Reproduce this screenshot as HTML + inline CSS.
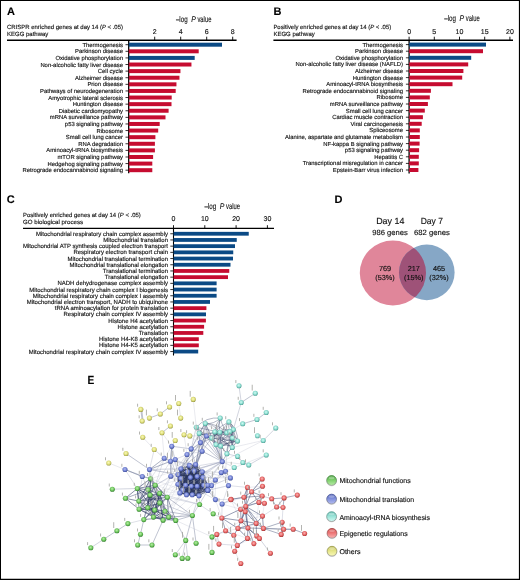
<!DOCTYPE html>
<html><head><meta charset="utf-8"><title>Figure</title>
<style>
html,body{margin:0;padding:0;background:#fff;}
body{width:520px;height:580px;overflow:hidden;}
svg{display:block;will-change:transform;font-family:"Liberation Sans",sans-serif;text-rendering:geometricPrecision;}
</style></head><body>
<svg width="520" height="580" viewBox="0 0 520 580">
<defs>
<radialGradient id="gg" cx="46%" cy="42%" r="58%"><stop offset="0" stop-color="#b9eda8"/><stop offset="0.5" stop-color="#7ccf6a"/><stop offset="0.82" stop-color="#4fa544"/><stop offset="1" stop-color="#2f7a2a"/></radialGradient>
<linearGradient id="lg" x1="0" y1="0" x2="0" y2="1"><stop offset="0" stop-color="#4fa544"/><stop offset="0.45" stop-color="#7ccf6a"/><stop offset="1" stop-color="#b9eda8"/></linearGradient>
<linearGradient id="sg" x1="0" y1="0" x2="0" y2="1"><stop offset="0" stop-color="#2f7a2a"/><stop offset="1" stop-color="#8a8a8a"/></linearGradient>
<radialGradient id="gb" cx="46%" cy="42%" r="58%"><stop offset="0" stop-color="#b4bdf0"/><stop offset="0.5" stop-color="#7f8edb"/><stop offset="0.82" stop-color="#5565b8"/><stop offset="1" stop-color="#354590"/></radialGradient>
<linearGradient id="lb" x1="0" y1="0" x2="0" y2="1"><stop offset="0" stop-color="#5565b8"/><stop offset="0.45" stop-color="#7f8edb"/><stop offset="1" stop-color="#b4bdf0"/></linearGradient>
<linearGradient id="sb" x1="0" y1="0" x2="0" y2="1"><stop offset="0" stop-color="#354590"/><stop offset="1" stop-color="#8a8a8a"/></linearGradient>
<radialGradient id="gc" cx="46%" cy="42%" r="58%"><stop offset="0" stop-color="#d2faf3"/><stop offset="0.5" stop-color="#97e3d7"/><stop offset="0.82" stop-color="#68bdb1"/><stop offset="1" stop-color="#46968b"/></radialGradient>
<linearGradient id="lc" x1="0" y1="0" x2="0" y2="1"><stop offset="0" stop-color="#68bdb1"/><stop offset="0.45" stop-color="#97e3d7"/><stop offset="1" stop-color="#d2faf3"/></linearGradient>
<linearGradient id="sc" x1="0" y1="0" x2="0" y2="1"><stop offset="0" stop-color="#46968b"/><stop offset="1" stop-color="#8a8a8a"/></linearGradient>
<radialGradient id="gr" cx="46%" cy="42%" r="58%"><stop offset="0" stop-color="#fbb4b4"/><stop offset="0.5" stop-color="#ec7474"/><stop offset="0.82" stop-color="#cc4c4c"/><stop offset="1" stop-color="#9c3030"/></radialGradient>
<linearGradient id="lr" x1="0" y1="0" x2="0" y2="1"><stop offset="0" stop-color="#cc4c4c"/><stop offset="0.45" stop-color="#ec7474"/><stop offset="1" stop-color="#fbb4b4"/></linearGradient>
<linearGradient id="sr" x1="0" y1="0" x2="0" y2="1"><stop offset="0" stop-color="#9c3030"/><stop offset="1" stop-color="#8a8a8a"/></linearGradient>
<radialGradient id="gy" cx="46%" cy="42%" r="58%"><stop offset="0" stop-color="#fafab8"/><stop offset="0.5" stop-color="#e4e486"/><stop offset="0.82" stop-color="#c0c05e"/><stop offset="1" stop-color="#90903c"/></radialGradient>
<linearGradient id="ly" x1="0" y1="0" x2="0" y2="1"><stop offset="0" stop-color="#c0c05e"/><stop offset="0.45" stop-color="#e4e486"/><stop offset="1" stop-color="#fafab8"/></linearGradient>
<linearGradient id="sy" x1="0" y1="0" x2="0" y2="1"><stop offset="0" stop-color="#90903c"/><stop offset="1" stop-color="#8a8a8a"/></linearGradient>
</defs>
<rect x="0" y="0" width="520" height="580" fill="#fff"/>
<g>
<text x="7" y="14.7" font-size="11" text-anchor="start" font-weight="bold" font-style="normal" fill="#000" stroke="#000" stroke-width="0.1" >A</text>
<text x="7" y="28.8" font-size="6" text-anchor="start" font-weight="normal" font-style="normal" fill="#111" stroke="#111" stroke-width="0.14" textLength="116" lengthAdjust="spacingAndGlyphs">CRISPR enriched genes at day 14 (<tspan font-style="italic">P</tspan> &lt; .05)</text>
<text x="7" y="36" font-size="6" text-anchor="start" font-weight="normal" font-style="normal" fill="#111" stroke="#111" stroke-width="0.14" >KEGG pathway</text>
<line x1="7.00" y1="40.20" x2="236.60" y2="40.20" stroke="#000" stroke-width="1.4" stroke-opacity="1"/>
<line x1="128.70" y1="40.00" x2="128.70" y2="173.30" stroke="#000" stroke-width="1.3" stroke-opacity="1"/>
<line x1="154.70" y1="36.70" x2="154.70" y2="40.00" stroke="#000" stroke-width="0.9" stroke-opacity="1"/>
<text x="154.70" y="34" font-size="7" text-anchor="middle" font-weight="normal" font-style="normal" fill="#111" stroke="#111" stroke-width="0.14" >2</text>
<line x1="180.70" y1="36.70" x2="180.70" y2="40.00" stroke="#000" stroke-width="0.9" stroke-opacity="1"/>
<text x="180.70" y="34" font-size="7" text-anchor="middle" font-weight="normal" font-style="normal" fill="#111" stroke="#111" stroke-width="0.14" >4</text>
<line x1="206.70" y1="36.70" x2="206.70" y2="40.00" stroke="#000" stroke-width="0.9" stroke-opacity="1"/>
<text x="206.70" y="34" font-size="7" text-anchor="middle" font-weight="normal" font-style="normal" fill="#111" stroke="#111" stroke-width="0.14" >6</text>
<line x1="232.70" y1="36.70" x2="232.70" y2="40.00" stroke="#000" stroke-width="0.9" stroke-opacity="1"/>
<text x="232.70" y="34" font-size="7" text-anchor="middle" font-weight="normal" font-style="normal" fill="#111" stroke="#111" stroke-width="0.14" >8</text>
<text x="175.9" y="21.5" font-size="8.3" fill="#111" stroke="#111" stroke-width="0.12" textLength="11.7" lengthAdjust="spacingAndGlyphs">–log</text>
<text x="191.20000000000002" y="21.5" font-size="8.3" font-style="italic" fill="#111" stroke="#111" stroke-width="0.12" textLength="4.6" lengthAdjust="spacingAndGlyphs">P</text>
<text x="197.4" y="21.5" font-size="8.3" fill="#111" stroke="#111" stroke-width="0.12" textLength="14" lengthAdjust="spacingAndGlyphs">value</text>
<rect x="128.70" y="42.70" width="93.30" height="4.00" fill="#0b4a85"/>
<line x1="125.50" y1="44.70" x2="128.70" y2="44.70" stroke="#000" stroke-width="0.8" stroke-opacity="1"/>
<text x="123" y="46.75" font-size="5.88" text-anchor="end" font-weight="normal" font-style="normal" fill="#111" stroke="#111" stroke-width="0.14" >Thermogenesis</text>
<rect x="128.70" y="49.31" width="70.00" height="4.00" fill="#c60c30"/>
<line x1="125.50" y1="51.31" x2="128.70" y2="51.31" stroke="#000" stroke-width="0.8" stroke-opacity="1"/>
<text x="123" y="53.36" font-size="5.88" text-anchor="end" font-weight="normal" font-style="normal" fill="#111" stroke="#111" stroke-width="0.14" >Parkinson disease</text>
<rect x="128.70" y="55.91" width="66.00" height="4.00" fill="#0b4a85"/>
<line x1="125.50" y1="57.91" x2="128.70" y2="57.91" stroke="#000" stroke-width="0.8" stroke-opacity="1"/>
<text x="123" y="59.96" font-size="5.88" text-anchor="end" font-weight="normal" font-style="normal" fill="#111" stroke="#111" stroke-width="0.14" >Oxidative phosphorylation</text>
<rect x="128.70" y="62.52" width="62.75" height="4.00" fill="#c60c30"/>
<line x1="125.50" y1="64.52" x2="128.70" y2="64.52" stroke="#000" stroke-width="0.8" stroke-opacity="1"/>
<text x="123" y="66.56" font-size="5.88" text-anchor="end" font-weight="normal" font-style="normal" fill="#111" stroke="#111" stroke-width="0.14" >Non-alcoholic fatty liver disease</text>
<rect x="128.70" y="69.12" width="51.75" height="4.00" fill="#c60c30"/>
<line x1="125.50" y1="71.12" x2="128.70" y2="71.12" stroke="#000" stroke-width="0.8" stroke-opacity="1"/>
<text x="123" y="73.17" font-size="5.88" text-anchor="end" font-weight="normal" font-style="normal" fill="#111" stroke="#111" stroke-width="0.14" >Cell cycle</text>
<rect x="128.70" y="75.73" width="50.75" height="4.00" fill="#c60c30"/>
<line x1="125.50" y1="77.73" x2="128.70" y2="77.73" stroke="#000" stroke-width="0.8" stroke-opacity="1"/>
<text x="123" y="79.78" font-size="5.88" text-anchor="end" font-weight="normal" font-style="normal" fill="#111" stroke="#111" stroke-width="0.14" >Alzheimer disease</text>
<rect x="128.70" y="82.33" width="47.75" height="4.00" fill="#c60c30"/>
<line x1="125.50" y1="84.33" x2="128.70" y2="84.33" stroke="#000" stroke-width="0.8" stroke-opacity="1"/>
<text x="123" y="86.38" font-size="5.88" text-anchor="end" font-weight="normal" font-style="normal" fill="#111" stroke="#111" stroke-width="0.14" >Prion disease</text>
<rect x="128.70" y="88.94" width="47.00" height="4.00" fill="#c60c30"/>
<line x1="125.50" y1="90.94" x2="128.70" y2="90.94" stroke="#000" stroke-width="0.8" stroke-opacity="1"/>
<text x="123" y="92.98" font-size="5.88" text-anchor="end" font-weight="normal" font-style="normal" fill="#111" stroke="#111" stroke-width="0.14" >Pathways of neurodegeneration</text>
<rect x="128.70" y="95.54" width="43.00" height="4.00" fill="#c60c30"/>
<line x1="125.50" y1="97.54" x2="128.70" y2="97.54" stroke="#000" stroke-width="0.8" stroke-opacity="1"/>
<text x="123" y="99.59" font-size="5.88" text-anchor="end" font-weight="normal" font-style="normal" fill="#111" stroke="#111" stroke-width="0.14" >Amyotrophic lateral sclerosis</text>
<rect x="128.70" y="102.15" width="42.80" height="4.00" fill="#c60c30"/>
<line x1="125.50" y1="104.15" x2="128.70" y2="104.15" stroke="#000" stroke-width="0.8" stroke-opacity="1"/>
<text x="123" y="106.20" font-size="5.88" text-anchor="end" font-weight="normal" font-style="normal" fill="#111" stroke="#111" stroke-width="0.14" >Huntington disease</text>
<rect x="128.70" y="108.75" width="39.90" height="4.00" fill="#c60c30"/>
<line x1="125.50" y1="110.75" x2="128.70" y2="110.75" stroke="#000" stroke-width="0.8" stroke-opacity="1"/>
<text x="123" y="112.80" font-size="5.88" text-anchor="end" font-weight="normal" font-style="normal" fill="#111" stroke="#111" stroke-width="0.14" >Diabetic cardiomyopathy</text>
<rect x="128.70" y="115.36" width="36.80" height="4.00" fill="#c60c30"/>
<line x1="125.50" y1="117.36" x2="128.70" y2="117.36" stroke="#000" stroke-width="0.8" stroke-opacity="1"/>
<text x="123" y="119.41" font-size="5.88" text-anchor="end" font-weight="normal" font-style="normal" fill="#111" stroke="#111" stroke-width="0.14" >mRNA surveillance pathway</text>
<rect x="128.70" y="121.96" width="31.00" height="4.00" fill="#c60c30"/>
<line x1="125.50" y1="123.96" x2="128.70" y2="123.96" stroke="#000" stroke-width="0.8" stroke-opacity="1"/>
<text x="123" y="126.01" font-size="5.88" text-anchor="end" font-weight="normal" font-style="normal" fill="#111" stroke="#111" stroke-width="0.14" >p53 signaling pathway</text>
<rect x="128.70" y="128.56" width="29.50" height="4.00" fill="#c60c30"/>
<line x1="125.50" y1="130.56" x2="128.70" y2="130.56" stroke="#000" stroke-width="0.8" stroke-opacity="1"/>
<text x="123" y="132.62" font-size="5.88" text-anchor="end" font-weight="normal" font-style="normal" fill="#111" stroke="#111" stroke-width="0.14" >Ribosome</text>
<rect x="128.70" y="135.17" width="26.70" height="4.00" fill="#c60c30"/>
<line x1="125.50" y1="137.17" x2="128.70" y2="137.17" stroke="#000" stroke-width="0.8" stroke-opacity="1"/>
<text x="123" y="139.22" font-size="5.88" text-anchor="end" font-weight="normal" font-style="normal" fill="#111" stroke="#111" stroke-width="0.14" >Small cell lung cancer</text>
<rect x="128.70" y="141.78" width="26.20" height="4.00" fill="#c60c30"/>
<line x1="125.50" y1="143.78" x2="128.70" y2="143.78" stroke="#000" stroke-width="0.8" stroke-opacity="1"/>
<text x="123" y="145.83" font-size="5.88" text-anchor="end" font-weight="normal" font-style="normal" fill="#111" stroke="#111" stroke-width="0.14" >RNA degradation</text>
<rect x="128.70" y="148.38" width="26.20" height="4.00" fill="#c60c30"/>
<line x1="125.50" y1="150.38" x2="128.70" y2="150.38" stroke="#000" stroke-width="0.8" stroke-opacity="1"/>
<text x="123" y="152.43" font-size="5.88" text-anchor="end" font-weight="normal" font-style="normal" fill="#111" stroke="#111" stroke-width="0.14" >Aminoacyl-tRNA biosynthesis</text>
<rect x="128.70" y="154.99" width="24.40" height="4.00" fill="#c60c30"/>
<line x1="125.50" y1="156.99" x2="128.70" y2="156.99" stroke="#000" stroke-width="0.8" stroke-opacity="1"/>
<text x="123" y="159.04" font-size="5.88" text-anchor="end" font-weight="normal" font-style="normal" fill="#111" stroke="#111" stroke-width="0.14" >mTOR signaling pathway</text>
<rect x="128.70" y="161.59" width="23.60" height="4.00" fill="#c60c30"/>
<line x1="125.50" y1="163.59" x2="128.70" y2="163.59" stroke="#000" stroke-width="0.8" stroke-opacity="1"/>
<text x="123" y="165.64" font-size="5.88" text-anchor="end" font-weight="normal" font-style="normal" fill="#111" stroke="#111" stroke-width="0.14" >Hedgehog signaling pathway</text>
<rect x="128.70" y="168.19" width="23.60" height="4.00" fill="#c60c30"/>
<line x1="125.50" y1="170.19" x2="128.70" y2="170.19" stroke="#000" stroke-width="0.8" stroke-opacity="1"/>
<text x="123" y="172.25" font-size="5.88" text-anchor="end" font-weight="normal" font-style="normal" fill="#111" stroke="#111" stroke-width="0.14" >Retrograde endocannabinoid signaling</text>
<text x="273.4" y="14.7" font-size="11" text-anchor="start" font-weight="bold" font-style="normal" fill="#000" stroke="#000" stroke-width="0.1" >B</text>
<text x="273.4" y="28.8" font-size="6" text-anchor="start" font-weight="normal" font-style="normal" fill="#111" stroke="#111" stroke-width="0.14" textLength="117.8" lengthAdjust="spacingAndGlyphs">Positively enriched genes at day 14 (<tspan font-style="italic">P</tspan> &lt; .05)</text>
<text x="273.4" y="36" font-size="6" text-anchor="start" font-weight="normal" font-style="normal" fill="#111" stroke="#111" stroke-width="0.14" >KEGG pathway</text>
<line x1="273.40" y1="40.20" x2="513.00" y2="40.20" stroke="#000" stroke-width="1.4" stroke-opacity="1"/>
<line x1="409.10" y1="40.00" x2="409.10" y2="173.40" stroke="#000" stroke-width="1.3" stroke-opacity="1"/>
<line x1="409.10" y1="36.70" x2="409.10" y2="40.00" stroke="#000" stroke-width="0.9" stroke-opacity="1"/>
<text x="409.10" y="34" font-size="7" text-anchor="middle" font-weight="normal" font-style="normal" fill="#111" stroke="#111" stroke-width="0.14" >0</text>
<line x1="434.30" y1="36.70" x2="434.30" y2="40.00" stroke="#000" stroke-width="0.9" stroke-opacity="1"/>
<text x="434.30" y="34" font-size="7" text-anchor="middle" font-weight="normal" font-style="normal" fill="#111" stroke="#111" stroke-width="0.14" >5</text>
<line x1="459.50" y1="36.70" x2="459.50" y2="40.00" stroke="#000" stroke-width="0.9" stroke-opacity="1"/>
<text x="459.50" y="34" font-size="7" text-anchor="middle" font-weight="normal" font-style="normal" fill="#111" stroke="#111" stroke-width="0.14" >10</text>
<line x1="484.70" y1="36.70" x2="484.70" y2="40.00" stroke="#000" stroke-width="0.9" stroke-opacity="1"/>
<text x="484.70" y="34" font-size="7" text-anchor="middle" font-weight="normal" font-style="normal" fill="#111" stroke="#111" stroke-width="0.14" >15</text>
<line x1="509.90" y1="36.70" x2="509.90" y2="40.00" stroke="#000" stroke-width="0.9" stroke-opacity="1"/>
<text x="509.90" y="34" font-size="7" text-anchor="middle" font-weight="normal" font-style="normal" fill="#111" stroke="#111" stroke-width="0.14" >20</text>
<text x="444.3" y="21.3" font-size="8.3" fill="#111" stroke="#111" stroke-width="0.12" textLength="11.7" lengthAdjust="spacingAndGlyphs">–log</text>
<text x="459.6" y="21.3" font-size="8.3" font-style="italic" fill="#111" stroke="#111" stroke-width="0.12" textLength="4.6" lengthAdjust="spacingAndGlyphs">P</text>
<text x="465.8" y="21.3" font-size="8.3" fill="#111" stroke="#111" stroke-width="0.12" textLength="14" lengthAdjust="spacingAndGlyphs">value</text>
<rect x="409.10" y="42.60" width="76.90" height="4.00" fill="#0b4a85"/>
<line x1="405.90" y1="44.60" x2="409.10" y2="44.60" stroke="#000" stroke-width="0.8" stroke-opacity="1"/>
<text x="403" y="46.65" font-size="5.88" text-anchor="end" font-weight="normal" font-style="normal" fill="#111" stroke="#111" stroke-width="0.14" >Thermogenesis</text>
<rect x="409.10" y="49.20" width="73.90" height="4.00" fill="#c60c30"/>
<line x1="405.90" y1="51.20" x2="409.10" y2="51.20" stroke="#000" stroke-width="0.8" stroke-opacity="1"/>
<text x="403" y="53.25" font-size="5.88" text-anchor="end" font-weight="normal" font-style="normal" fill="#111" stroke="#111" stroke-width="0.14" >Parkinson disease</text>
<rect x="409.10" y="55.80" width="62.10" height="4.00" fill="#0b4a85"/>
<line x1="405.90" y1="57.80" x2="409.10" y2="57.80" stroke="#000" stroke-width="0.8" stroke-opacity="1"/>
<text x="403" y="59.85" font-size="5.88" text-anchor="end" font-weight="normal" font-style="normal" fill="#111" stroke="#111" stroke-width="0.14" >Oxidative phosphorylation</text>
<rect x="409.10" y="62.40" width="59.10" height="4.00" fill="#c60c30"/>
<line x1="405.90" y1="64.40" x2="409.10" y2="64.40" stroke="#000" stroke-width="0.8" stroke-opacity="1"/>
<text x="403" y="66.45" font-size="5.88" text-anchor="end" font-weight="normal" font-style="normal" fill="#111" stroke="#111" stroke-width="0.14" >Non-alcoholic fatty liver disease (NAFLD)</text>
<rect x="409.10" y="69.00" width="54.30" height="4.00" fill="#c60c30"/>
<line x1="405.90" y1="71.00" x2="409.10" y2="71.00" stroke="#000" stroke-width="0.8" stroke-opacity="1"/>
<text x="403" y="73.05" font-size="5.88" text-anchor="end" font-weight="normal" font-style="normal" fill="#111" stroke="#111" stroke-width="0.14" >Alzheimer disease</text>
<rect x="409.10" y="75.60" width="53.10" height="4.00" fill="#c60c30"/>
<line x1="405.90" y1="77.60" x2="409.10" y2="77.60" stroke="#000" stroke-width="0.8" stroke-opacity="1"/>
<text x="403" y="79.65" font-size="5.88" text-anchor="end" font-weight="normal" font-style="normal" fill="#111" stroke="#111" stroke-width="0.14" >Huntington disease</text>
<rect x="409.10" y="82.20" width="43.40" height="4.00" fill="#c60c30"/>
<line x1="405.90" y1="84.20" x2="409.10" y2="84.20" stroke="#000" stroke-width="0.8" stroke-opacity="1"/>
<text x="403" y="86.25" font-size="5.88" text-anchor="end" font-weight="normal" font-style="normal" fill="#111" stroke="#111" stroke-width="0.14" >Aminoacyl-tRNA biosynthesis</text>
<rect x="409.10" y="88.80" width="21.80" height="4.00" fill="#c60c30"/>
<line x1="405.90" y1="90.80" x2="409.10" y2="90.80" stroke="#000" stroke-width="0.8" stroke-opacity="1"/>
<text x="403" y="92.85" font-size="5.88" text-anchor="end" font-weight="normal" font-style="normal" fill="#111" stroke="#111" stroke-width="0.14" >Retrograde endocannabinoid signaling</text>
<rect x="409.10" y="95.40" width="20.70" height="4.00" fill="#c60c30"/>
<line x1="405.90" y1="97.40" x2="409.10" y2="97.40" stroke="#000" stroke-width="0.8" stroke-opacity="1"/>
<text x="403" y="99.45" font-size="5.88" text-anchor="end" font-weight="normal" font-style="normal" fill="#111" stroke="#111" stroke-width="0.14" >Ribosome</text>
<rect x="409.10" y="102.00" width="18.80" height="4.00" fill="#c60c30"/>
<line x1="405.90" y1="104.00" x2="409.10" y2="104.00" stroke="#000" stroke-width="0.8" stroke-opacity="1"/>
<text x="403" y="106.05" font-size="5.88" text-anchor="end" font-weight="normal" font-style="normal" fill="#111" stroke="#111" stroke-width="0.14" >mRNA surveillance pathway</text>
<rect x="409.10" y="108.60" width="15.70" height="4.00" fill="#c60c30"/>
<line x1="405.90" y1="110.60" x2="409.10" y2="110.60" stroke="#000" stroke-width="0.8" stroke-opacity="1"/>
<text x="403" y="112.65" font-size="5.88" text-anchor="end" font-weight="normal" font-style="normal" fill="#111" stroke="#111" stroke-width="0.14" >Small cell lung cancer</text>
<rect x="409.10" y="115.20" width="13.80" height="4.00" fill="#c60c30"/>
<line x1="405.90" y1="117.20" x2="409.10" y2="117.20" stroke="#000" stroke-width="0.8" stroke-opacity="1"/>
<text x="403" y="119.25" font-size="5.88" text-anchor="end" font-weight="normal" font-style="normal" fill="#111" stroke="#111" stroke-width="0.14" >Cardiac muscle contraction</text>
<rect x="409.10" y="121.80" width="12.60" height="4.00" fill="#c60c30"/>
<line x1="405.90" y1="123.80" x2="409.10" y2="123.80" stroke="#000" stroke-width="0.8" stroke-opacity="1"/>
<text x="403" y="125.85" font-size="5.88" text-anchor="end" font-weight="normal" font-style="normal" fill="#111" stroke="#111" stroke-width="0.14" >Viral carcinogenesis</text>
<rect x="409.10" y="128.40" width="10.70" height="4.00" fill="#c60c30"/>
<line x1="405.90" y1="130.40" x2="409.10" y2="130.40" stroke="#000" stroke-width="0.8" stroke-opacity="1"/>
<text x="403" y="132.45" font-size="5.88" text-anchor="end" font-weight="normal" font-style="normal" fill="#111" stroke="#111" stroke-width="0.14" >Spliceosome</text>
<rect x="409.10" y="135.00" width="10.70" height="4.00" fill="#c60c30"/>
<line x1="405.90" y1="137.00" x2="409.10" y2="137.00" stroke="#000" stroke-width="0.8" stroke-opacity="1"/>
<text x="403" y="139.05" font-size="5.88" text-anchor="end" font-weight="normal" font-style="normal" fill="#111" stroke="#111" stroke-width="0.14" >Alanine, aspartate and glutamate metabolism</text>
<rect x="409.10" y="141.60" width="10.50" height="4.00" fill="#c60c30"/>
<line x1="405.90" y1="143.60" x2="409.10" y2="143.60" stroke="#000" stroke-width="0.8" stroke-opacity="1"/>
<text x="403" y="145.65" font-size="5.88" text-anchor="end" font-weight="normal" font-style="normal" fill="#111" stroke="#111" stroke-width="0.14" >NF-kappa B signaling pathway</text>
<rect x="409.10" y="148.20" width="10.00" height="4.00" fill="#c60c30"/>
<line x1="405.90" y1="150.20" x2="409.10" y2="150.20" stroke="#000" stroke-width="0.8" stroke-opacity="1"/>
<text x="403" y="152.25" font-size="5.88" text-anchor="end" font-weight="normal" font-style="normal" fill="#111" stroke="#111" stroke-width="0.14" >p53 signaling pathway</text>
<rect x="409.10" y="154.80" width="9.70" height="4.00" fill="#c60c30"/>
<line x1="405.90" y1="156.80" x2="409.10" y2="156.80" stroke="#000" stroke-width="0.8" stroke-opacity="1"/>
<text x="403" y="158.85" font-size="5.88" text-anchor="end" font-weight="normal" font-style="normal" fill="#111" stroke="#111" stroke-width="0.14" >Hepatitis C</text>
<rect x="409.10" y="161.40" width="9.70" height="4.00" fill="#c60c30"/>
<line x1="405.90" y1="163.40" x2="409.10" y2="163.40" stroke="#000" stroke-width="0.8" stroke-opacity="1"/>
<text x="403" y="165.45" font-size="5.88" text-anchor="end" font-weight="normal" font-style="normal" fill="#111" stroke="#111" stroke-width="0.14" >Transcriptional misregulation in cancer</text>
<rect x="409.10" y="168.00" width="9.30" height="4.00" fill="#c60c30"/>
<line x1="405.90" y1="170.00" x2="409.10" y2="170.00" stroke="#000" stroke-width="0.8" stroke-opacity="1"/>
<text x="403" y="172.05" font-size="5.88" text-anchor="end" font-weight="normal" font-style="normal" fill="#111" stroke="#111" stroke-width="0.14" >Epstein-Barr virus infection</text>
<text x="6.7" y="202.7" font-size="11" text-anchor="start" font-weight="bold" font-style="normal" fill="#000" stroke="#000" stroke-width="0.1" >C</text>
<text x="23" y="216.5" font-size="6" text-anchor="start" font-weight="normal" font-style="normal" fill="#111" stroke="#111" stroke-width="0.14" textLength="117.7" lengthAdjust="spacingAndGlyphs">Positively enriched genes at day 14 (<tspan font-style="italic">P</tspan> &lt; .05)</text>
<text x="23" y="224" font-size="6" text-anchor="start" font-weight="normal" font-style="normal" fill="#111" stroke="#111" stroke-width="0.14" textLength="60.1" lengthAdjust="spacingAndGlyphs">GO biological process</text>
<line x1="23.00" y1="228.30" x2="274.00" y2="228.30" stroke="#000" stroke-width="1.15" stroke-opacity="1"/>
<line x1="173.50" y1="228.00" x2="173.50" y2="355.50" stroke="#000" stroke-width="1.1" stroke-opacity="1"/>
<line x1="173.50" y1="225.20" x2="173.50" y2="228.00" stroke="#000" stroke-width="0.9" stroke-opacity="1"/>
<text x="173.50" y="220.9" font-size="7" text-anchor="middle" font-weight="normal" font-style="normal" fill="#111" stroke="#111" stroke-width="0.14" >0</text>
<line x1="204.80" y1="225.20" x2="204.80" y2="228.00" stroke="#000" stroke-width="0.9" stroke-opacity="1"/>
<text x="204.80" y="220.9" font-size="7" text-anchor="middle" font-weight="normal" font-style="normal" fill="#111" stroke="#111" stroke-width="0.14" >10</text>
<line x1="236.10" y1="225.20" x2="236.10" y2="228.00" stroke="#000" stroke-width="0.9" stroke-opacity="1"/>
<text x="236.10" y="220.9" font-size="7" text-anchor="middle" font-weight="normal" font-style="normal" fill="#111" stroke="#111" stroke-width="0.14" >20</text>
<line x1="267.40" y1="225.20" x2="267.40" y2="228.00" stroke="#000" stroke-width="0.9" stroke-opacity="1"/>
<text x="267.40" y="220.9" font-size="7" text-anchor="middle" font-weight="normal" font-style="normal" fill="#111" stroke="#111" stroke-width="0.14" >30</text>
<text x="204.5" y="208.7" font-size="8.3" fill="#111" stroke="#111" stroke-width="0.12" textLength="11.7" lengthAdjust="spacingAndGlyphs">–log</text>
<text x="219.8" y="208.7" font-size="8.3" font-style="italic" fill="#111" stroke="#111" stroke-width="0.12" textLength="4.6" lengthAdjust="spacingAndGlyphs">P</text>
<text x="226.0" y="208.7" font-size="8.3" fill="#111" stroke="#111" stroke-width="0.12" textLength="14" lengthAdjust="spacingAndGlyphs">value</text>
<rect x="173.50" y="231.85" width="75.25" height="3.80" fill="#0b4a85"/>
<line x1="170.30" y1="233.75" x2="173.50" y2="233.75" stroke="#000" stroke-width="0.8" stroke-opacity="1"/>
<text x="168" y="235.80" font-size="5.97" text-anchor="end" font-weight="normal" font-style="normal" fill="#111" stroke="#111" stroke-width="0.14" >Mitochondrial respiratory chain complex assembly</text>
<rect x="173.50" y="238.05" width="63.25" height="3.80" fill="#0b4a85"/>
<line x1="170.30" y1="239.95" x2="173.50" y2="239.95" stroke="#000" stroke-width="0.8" stroke-opacity="1"/>
<text x="168" y="242.00" font-size="5.97" text-anchor="end" font-weight="normal" font-style="normal" fill="#111" stroke="#111" stroke-width="0.14" >Mitochondrial translation</text>
<rect x="173.50" y="244.25" width="61.50" height="3.80" fill="#0b4a85"/>
<line x1="170.30" y1="246.15" x2="173.50" y2="246.15" stroke="#000" stroke-width="0.8" stroke-opacity="1"/>
<text x="168" y="248.20" font-size="5.97" text-anchor="end" font-weight="normal" font-style="normal" fill="#111" stroke="#111" stroke-width="0.14" >Mitochondrial ATP synthesis coupled electron transport</text>
<rect x="173.50" y="250.45" width="59.75" height="3.80" fill="#0b4a85"/>
<line x1="170.30" y1="252.35" x2="173.50" y2="252.35" stroke="#000" stroke-width="0.8" stroke-opacity="1"/>
<text x="168" y="254.40" font-size="5.97" text-anchor="end" font-weight="normal" font-style="normal" fill="#111" stroke="#111" stroke-width="0.14" >Respiratory electron transport chain</text>
<rect x="173.50" y="256.65" width="59.50" height="3.80" fill="#0b4a85"/>
<line x1="170.30" y1="258.55" x2="173.50" y2="258.55" stroke="#000" stroke-width="0.8" stroke-opacity="1"/>
<text x="168" y="260.60" font-size="5.97" text-anchor="end" font-weight="normal" font-style="normal" fill="#111" stroke="#111" stroke-width="0.14" >Mitochondrial translational termination</text>
<rect x="173.50" y="262.85" width="57.00" height="3.80" fill="#0b4a85"/>
<line x1="170.30" y1="264.75" x2="173.50" y2="264.75" stroke="#000" stroke-width="0.8" stroke-opacity="1"/>
<text x="168" y="266.80" font-size="5.97" text-anchor="end" font-weight="normal" font-style="normal" fill="#111" stroke="#111" stroke-width="0.14" >Mitochondrial translational elongation</text>
<rect x="173.50" y="269.05" width="55.75" height="3.80" fill="#c60c30"/>
<line x1="170.30" y1="270.95" x2="173.50" y2="270.95" stroke="#000" stroke-width="0.8" stroke-opacity="1"/>
<text x="168" y="273.00" font-size="5.97" text-anchor="end" font-weight="normal" font-style="normal" fill="#111" stroke="#111" stroke-width="0.14" >Translational termination</text>
<rect x="173.50" y="275.25" width="54.50" height="3.80" fill="#c60c30"/>
<line x1="170.30" y1="277.15" x2="173.50" y2="277.15" stroke="#000" stroke-width="0.8" stroke-opacity="1"/>
<text x="168" y="279.20" font-size="5.97" text-anchor="end" font-weight="normal" font-style="normal" fill="#111" stroke="#111" stroke-width="0.14" >Translational elongation</text>
<rect x="173.50" y="281.45" width="43.10" height="3.80" fill="#0b4a85"/>
<line x1="170.30" y1="283.35" x2="173.50" y2="283.35" stroke="#000" stroke-width="0.8" stroke-opacity="1"/>
<text x="168" y="285.40" font-size="5.97" text-anchor="end" font-weight="normal" font-style="normal" fill="#111" stroke="#111" stroke-width="0.14" >NADH dehydrogenase complex assembly</text>
<rect x="173.50" y="287.65" width="43.10" height="3.80" fill="#0b4a85"/>
<line x1="170.30" y1="289.55" x2="173.50" y2="289.55" stroke="#000" stroke-width="0.8" stroke-opacity="1"/>
<text x="168" y="291.60" font-size="5.97" text-anchor="end" font-weight="normal" font-style="normal" fill="#111" stroke="#111" stroke-width="0.14" >Mitochondrial respiratory chain complex I biogenesis</text>
<rect x="173.50" y="293.85" width="43.10" height="3.80" fill="#0b4a85"/>
<line x1="170.30" y1="295.75" x2="173.50" y2="295.75" stroke="#000" stroke-width="0.8" stroke-opacity="1"/>
<text x="168" y="297.80" font-size="5.97" text-anchor="end" font-weight="normal" font-style="normal" fill="#111" stroke="#111" stroke-width="0.14" >Mitochondrial respiratory chain complex I assembly</text>
<rect x="173.50" y="300.05" width="36.50" height="3.80" fill="#0b4a85"/>
<line x1="170.30" y1="301.95" x2="173.50" y2="301.95" stroke="#000" stroke-width="0.8" stroke-opacity="1"/>
<text x="168" y="304.00" font-size="5.97" text-anchor="end" font-weight="normal" font-style="normal" fill="#111" stroke="#111" stroke-width="0.14" >Mitochondrial electron transport, NADH to ubiquinone</text>
<rect x="173.50" y="306.25" width="32.90" height="3.80" fill="#c60c30"/>
<line x1="170.30" y1="308.15" x2="173.50" y2="308.15" stroke="#000" stroke-width="0.8" stroke-opacity="1"/>
<text x="168" y="310.20" font-size="5.97" text-anchor="end" font-weight="normal" font-style="normal" fill="#111" stroke="#111" stroke-width="0.14" >tRNA aminoacylation for protein translation</text>
<rect x="173.50" y="312.45" width="32.50" height="3.80" fill="#0b4a85"/>
<line x1="170.30" y1="314.35" x2="173.50" y2="314.35" stroke="#000" stroke-width="0.8" stroke-opacity="1"/>
<text x="168" y="316.40" font-size="5.97" text-anchor="end" font-weight="normal" font-style="normal" fill="#111" stroke="#111" stroke-width="0.14" >Respiratory chain complex IV assembly</text>
<rect x="173.50" y="318.65" width="32.40" height="3.80" fill="#c60c30"/>
<line x1="170.30" y1="320.55" x2="173.50" y2="320.55" stroke="#000" stroke-width="0.8" stroke-opacity="1"/>
<text x="168" y="322.60" font-size="5.97" text-anchor="end" font-weight="normal" font-style="normal" fill="#111" stroke="#111" stroke-width="0.14" >Histone H4 acetylation</text>
<rect x="173.50" y="324.85" width="30.60" height="3.80" fill="#c60c30"/>
<line x1="170.30" y1="326.75" x2="173.50" y2="326.75" stroke="#000" stroke-width="0.8" stroke-opacity="1"/>
<text x="168" y="328.80" font-size="5.97" text-anchor="end" font-weight="normal" font-style="normal" fill="#111" stroke="#111" stroke-width="0.14" >Histone acetylation</text>
<rect x="173.50" y="331.05" width="29.80" height="3.80" fill="#c60c30"/>
<line x1="170.30" y1="332.95" x2="173.50" y2="332.95" stroke="#000" stroke-width="0.8" stroke-opacity="1"/>
<text x="168" y="335.00" font-size="5.97" text-anchor="end" font-weight="normal" font-style="normal" fill="#111" stroke="#111" stroke-width="0.14" >Translation</text>
<rect x="173.50" y="337.25" width="25.30" height="3.80" fill="#c60c30"/>
<line x1="170.30" y1="339.15" x2="173.50" y2="339.15" stroke="#000" stroke-width="0.8" stroke-opacity="1"/>
<text x="168" y="341.20" font-size="5.97" text-anchor="end" font-weight="normal" font-style="normal" fill="#111" stroke="#111" stroke-width="0.14" >Histone H4-K8 acetylation</text>
<rect x="173.50" y="343.45" width="25.30" height="3.80" fill="#c60c30"/>
<line x1="170.30" y1="345.35" x2="173.50" y2="345.35" stroke="#000" stroke-width="0.8" stroke-opacity="1"/>
<text x="168" y="347.40" font-size="5.97" text-anchor="end" font-weight="normal" font-style="normal" fill="#111" stroke="#111" stroke-width="0.14" >Histone H4-K5 acetylation</text>
<rect x="173.50" y="349.65" width="24.70" height="3.80" fill="#0b4a85"/>
<line x1="170.30" y1="351.55" x2="173.50" y2="351.55" stroke="#000" stroke-width="0.8" stroke-opacity="1"/>
<text x="168" y="353.60" font-size="5.97" text-anchor="end" font-weight="normal" font-style="normal" fill="#111" stroke="#111" stroke-width="0.14" >Mitochondrial respiratory chain complex IV assembly</text>
<text x="334.5" y="203" font-size="11" text-anchor="start" font-weight="bold" font-style="normal" fill="#000" stroke="#000" stroke-width="0.1" >D</text>
<ellipse cx="392.9" cy="273" rx="33.1" ry="32.4" fill="#e0869a"/>
<circle cx="426.8" cy="272.4" r="27.8" fill="#86a7c6"/>
<clipPath id="cp"><ellipse cx="392.9" cy="273" rx="33.1" ry="32.4"/></clipPath>
<circle cx="426.8" cy="272.4" r="27.8" fill="#9e5278" clip-path="url(#cp)"/>
<text x="376.2" y="224.4" font-size="8.9" text-anchor="start" font-weight="normal" font-style="normal" fill="#111" stroke="#111" stroke-width="0.14" textLength="28.2" lengthAdjust="spacingAndGlyphs">Day 14</text>
<text x="420.7" y="224.4" font-size="8.9" text-anchor="start" font-weight="normal" font-style="normal" fill="#111" stroke="#111" stroke-width="0.14" textLength="22.2" lengthAdjust="spacingAndGlyphs">Day 7</text>
<text x="372.3" y="234.8" font-size="7.55" text-anchor="start" font-weight="normal" font-style="normal" fill="#111" stroke="#111" stroke-width="0.14" textLength="35.4" lengthAdjust="spacingAndGlyphs">986 genes</text>
<text x="414" y="234.8" font-size="7.55" text-anchor="start" font-weight="normal" font-style="normal" fill="#111" stroke="#111" stroke-width="0.14" textLength="35.8" lengthAdjust="spacingAndGlyphs">682 genes</text>
<text x="385" y="271.1" font-size="7.3" text-anchor="middle" font-weight="normal" font-style="normal" fill="#111" stroke="#111" stroke-width="0.14" >769</text>
<text x="385" y="280.3" font-size="7.3" text-anchor="middle" font-weight="normal" font-style="normal" fill="#111" stroke="#111" stroke-width="0.14" >(53%)</text>
<text x="413.8" y="271.1" font-size="7.3" text-anchor="middle" font-weight="normal" font-style="normal" fill="#111" stroke="#111" stroke-width="0.14" >217</text>
<text x="413.8" y="280.3" font-size="7.3" text-anchor="middle" font-weight="normal" font-style="normal" fill="#111" stroke="#111" stroke-width="0.14" >(15%)</text>
<text x="439" y="271.1" font-size="7.3" text-anchor="middle" font-weight="normal" font-style="normal" fill="#111" stroke="#111" stroke-width="0.14" >465</text>
<text x="439" y="280.3" font-size="7.3" text-anchor="middle" font-weight="normal" font-style="normal" fill="#111" stroke="#111" stroke-width="0.14" >(32%)</text>
<text x="87.6" y="383.6" font-size="11.8" text-anchor="start" font-weight="bold" font-style="normal" fill="#000" stroke="#000" stroke-width="0.1" textLength="6.8" lengthAdjust="spacingAndGlyphs">E</text>
<g stroke-linecap="round" fill="none">
<line x1="150.60" y1="478.70" x2="138.80" y2="501.10" stroke="#aeb3c7" stroke-width="0.4" stroke-opacity="0.55"/>
<line x1="150.60" y1="478.70" x2="159.80" y2="502.90" stroke="#aeb3c7" stroke-width="0.4" stroke-opacity="0.55"/>
<line x1="150.60" y1="478.70" x2="139.10" y2="509.20" stroke="#aeb3c7" stroke-width="0.4" stroke-opacity="0.55"/>
<line x1="150.60" y1="478.70" x2="195.60" y2="464.60" stroke="#aeb3c7" stroke-width="0.4" stroke-opacity="0.55"/>
<line x1="150.60" y1="478.70" x2="182.70" y2="490.00" stroke="#aeb3c7" stroke-width="0.4" stroke-opacity="0.55"/>
<line x1="155.20" y1="485.30" x2="195.60" y2="464.60" stroke="#aeb3c7" stroke-width="0.4" stroke-opacity="0.55"/>
<line x1="155.20" y1="485.30" x2="186.50" y2="494.80" stroke="#aeb3c7" stroke-width="0.4" stroke-opacity="0.55"/>
<line x1="137.30" y1="488.50" x2="138.80" y2="501.10" stroke="#aeb3c7" stroke-width="0.4" stroke-opacity="0.55"/>
<line x1="137.30" y1="488.50" x2="147.70" y2="507.80" stroke="#aeb3c7" stroke-width="0.4" stroke-opacity="0.55"/>
<line x1="148.10" y1="489.80" x2="153.50" y2="517.10" stroke="#aeb3c7" stroke-width="0.4" stroke-opacity="0.55"/>
<line x1="148.10" y1="489.80" x2="180.80" y2="478.50" stroke="#aeb3c7" stroke-width="0.4" stroke-opacity="0.55"/>
<line x1="148.10" y1="489.80" x2="192.30" y2="494.80" stroke="#aeb3c7" stroke-width="0.4" stroke-opacity="0.55"/>
<line x1="150.10" y1="495.10" x2="159.80" y2="502.90" stroke="#aeb3c7" stroke-width="0.4" stroke-opacity="0.55"/>
<line x1="150.10" y1="495.10" x2="165.00" y2="511.30" stroke="#aeb3c7" stroke-width="0.4" stroke-opacity="0.55"/>
<line x1="150.10" y1="495.10" x2="186.50" y2="494.80" stroke="#aeb3c7" stroke-width="0.4" stroke-opacity="0.55"/>
<line x1="159.60" y1="493.40" x2="159.80" y2="502.90" stroke="#aeb3c7" stroke-width="0.4" stroke-opacity="0.55"/>
<line x1="159.60" y1="493.40" x2="177.90" y2="484.20" stroke="#aeb3c7" stroke-width="0.4" stroke-opacity="0.55"/>
<line x1="138.80" y1="501.10" x2="154.60" y2="510.10" stroke="#aeb3c7" stroke-width="0.4" stroke-opacity="0.55"/>
<line x1="159.80" y1="502.90" x2="177.90" y2="474.60" stroke="#aeb3c7" stroke-width="0.4" stroke-opacity="0.55"/>
<line x1="159.80" y1="502.90" x2="190.40" y2="477.50" stroke="#aeb3c7" stroke-width="0.4" stroke-opacity="0.55"/>
<line x1="165.00" y1="511.30" x2="180.80" y2="478.50" stroke="#aeb3c7" stroke-width="0.4" stroke-opacity="0.55"/>
<line x1="165.00" y1="511.30" x2="197.10" y2="476.50" stroke="#aeb3c7" stroke-width="0.4" stroke-opacity="0.55"/>
<line x1="165.00" y1="511.30" x2="191.30" y2="486.20" stroke="#aeb3c7" stroke-width="0.4" stroke-opacity="0.55"/>
<line x1="165.00" y1="511.30" x2="186.50" y2="494.80" stroke="#aeb3c7" stroke-width="0.4" stroke-opacity="0.55"/>
<line x1="153.50" y1="517.10" x2="180.80" y2="478.50" stroke="#aeb3c7" stroke-width="0.4" stroke-opacity="0.55"/>
<line x1="163.10" y1="520.20" x2="175.70" y2="520.40" stroke="#aeb3c7" stroke-width="0.4" stroke-opacity="0.55"/>
<line x1="168.60" y1="517.10" x2="175.70" y2="520.40" stroke="#aeb3c7" stroke-width="0.4" stroke-opacity="0.55"/>
<line x1="168.60" y1="517.10" x2="203.80" y2="485.20" stroke="#aeb3c7" stroke-width="0.4" stroke-opacity="0.55"/>
<line x1="168.60" y1="517.10" x2="182.70" y2="490.00" stroke="#aeb3c7" stroke-width="0.4" stroke-opacity="0.55"/>
<line x1="175.70" y1="520.40" x2="207.70" y2="490.40" stroke="#aeb3c7" stroke-width="0.4" stroke-opacity="0.55"/>
<line x1="189.40" y1="465.40" x2="195.60" y2="464.60" stroke="#aeb3c7" stroke-width="0.4" stroke-opacity="0.55"/>
<line x1="189.40" y1="465.40" x2="180.80" y2="478.50" stroke="#aeb3c7" stroke-width="0.4" stroke-opacity="0.55"/>
<line x1="189.40" y1="465.40" x2="202.90" y2="477.50" stroke="#aeb3c7" stroke-width="0.4" stroke-opacity="0.55"/>
<line x1="195.60" y1="464.60" x2="202.30" y2="471.70" stroke="#aeb3c7" stroke-width="0.4" stroke-opacity="0.55"/>
<line x1="195.60" y1="464.60" x2="199.00" y2="495.80" stroke="#aeb3c7" stroke-width="0.4" stroke-opacity="0.55"/>
<line x1="187.50" y1="471.70" x2="177.90" y2="484.20" stroke="#aeb3c7" stroke-width="0.4" stroke-opacity="0.55"/>
<line x1="187.50" y1="471.70" x2="207.70" y2="485.20" stroke="#aeb3c7" stroke-width="0.4" stroke-opacity="0.55"/>
<line x1="194.20" y1="470.80" x2="186.50" y2="494.80" stroke="#aeb3c7" stroke-width="0.4" stroke-opacity="0.55"/>
<line x1="202.30" y1="471.70" x2="207.70" y2="485.20" stroke="#aeb3c7" stroke-width="0.4" stroke-opacity="0.55"/>
<line x1="177.90" y1="474.60" x2="192.30" y2="494.80" stroke="#aeb3c7" stroke-width="0.4" stroke-opacity="0.55"/>
<line x1="180.80" y1="478.50" x2="191.30" y2="486.20" stroke="#aeb3c7" stroke-width="0.4" stroke-opacity="0.55"/>
<line x1="190.40" y1="477.50" x2="191.30" y2="486.20" stroke="#aeb3c7" stroke-width="0.4" stroke-opacity="0.55"/>
<line x1="197.10" y1="476.50" x2="182.70" y2="490.00" stroke="#aeb3c7" stroke-width="0.4" stroke-opacity="0.55"/>
<line x1="197.10" y1="476.50" x2="207.70" y2="490.40" stroke="#aeb3c7" stroke-width="0.4" stroke-opacity="0.55"/>
<line x1="191.30" y1="486.20" x2="207.70" y2="485.20" stroke="#aeb3c7" stroke-width="0.4" stroke-opacity="0.55"/>
<line x1="197.10" y1="486.20" x2="207.70" y2="490.40" stroke="#aeb3c7" stroke-width="0.4" stroke-opacity="0.55"/>
<line x1="203.80" y1="485.20" x2="192.30" y2="494.80" stroke="#aeb3c7" stroke-width="0.4" stroke-opacity="0.55"/>
<line x1="179.80" y1="492.90" x2="199.00" y2="495.80" stroke="#aeb3c7" stroke-width="0.4" stroke-opacity="0.55"/>
<line x1="125.00" y1="469.50" x2="142.30" y2="476.50" stroke="#8f97b1" stroke-width="0.45" stroke-opacity="0.6"/>
<line x1="149.50" y1="469.50" x2="177.90" y2="474.60" stroke="#8f97b1" stroke-width="0.45" stroke-opacity="0.6"/>
<line x1="164.25" y1="458.25" x2="177.90" y2="474.60" stroke="#8f97b1" stroke-width="0.45" stroke-opacity="0.6"/>
<line x1="170.50" y1="461.25" x2="170.80" y2="476.20" stroke="#8f97b1" stroke-width="0.45" stroke-opacity="0.6"/>
<line x1="170.50" y1="461.25" x2="195.60" y2="464.60" stroke="#8f97b1" stroke-width="0.45" stroke-opacity="0.6"/>
<line x1="170.50" y1="461.25" x2="177.90" y2="474.60" stroke="#8f97b1" stroke-width="0.45" stroke-opacity="0.6"/>
<line x1="175.25" y1="459.50" x2="170.80" y2="476.20" stroke="#8f97b1" stroke-width="0.45" stroke-opacity="0.6"/>
<line x1="175.25" y1="459.50" x2="187.50" y2="471.70" stroke="#8f97b1" stroke-width="0.45" stroke-opacity="0.6"/>
<line x1="175.25" y1="459.50" x2="194.20" y2="470.80" stroke="#8f97b1" stroke-width="0.45" stroke-opacity="0.6"/>
<line x1="175.25" y1="459.50" x2="202.30" y2="471.70" stroke="#8f97b1" stroke-width="0.45" stroke-opacity="0.6"/>
<line x1="175.25" y1="459.50" x2="177.90" y2="474.60" stroke="#8f97b1" stroke-width="0.45" stroke-opacity="0.6"/>
<line x1="171.75" y1="446.25" x2="191.20" y2="448.90" stroke="#8f97b1" stroke-width="0.45" stroke-opacity="0.6"/>
<line x1="171.75" y1="446.25" x2="170.80" y2="476.20" stroke="#8f97b1" stroke-width="0.45" stroke-opacity="0.6"/>
<line x1="171.75" y1="446.25" x2="177.90" y2="474.60" stroke="#8f97b1" stroke-width="0.45" stroke-opacity="0.6"/>
<line x1="187.00" y1="454.50" x2="206.50" y2="436.00" stroke="#8f97b1" stroke-width="0.45" stroke-opacity="0.6"/>
<line x1="187.00" y1="454.50" x2="170.80" y2="476.20" stroke="#8f97b1" stroke-width="0.45" stroke-opacity="0.6"/>
<line x1="187.00" y1="454.50" x2="187.50" y2="471.70" stroke="#8f97b1" stroke-width="0.45" stroke-opacity="0.6"/>
<line x1="187.00" y1="454.50" x2="177.90" y2="474.60" stroke="#8f97b1" stroke-width="0.45" stroke-opacity="0.6"/>
<line x1="187.00" y1="454.50" x2="190.40" y2="477.50" stroke="#8f97b1" stroke-width="0.45" stroke-opacity="0.6"/>
<line x1="191.20" y1="448.90" x2="200.40" y2="442.60" stroke="#8f97b1" stroke-width="0.45" stroke-opacity="0.6"/>
<line x1="191.20" y1="448.90" x2="202.10" y2="451.20" stroke="#8f97b1" stroke-width="0.45" stroke-opacity="0.6"/>
<line x1="200.40" y1="442.60" x2="206.50" y2="436.00" stroke="#8f97b1" stroke-width="0.45" stroke-opacity="0.6"/>
<line x1="200.40" y1="442.60" x2="194.20" y2="470.80" stroke="#8f97b1" stroke-width="0.45" stroke-opacity="0.6"/>
<line x1="202.10" y1="451.20" x2="194.20" y2="470.80" stroke="#8f97b1" stroke-width="0.45" stroke-opacity="0.6"/>
<line x1="222.30" y1="461.60" x2="228.50" y2="485.60" stroke="#8f97b1" stroke-width="0.45" stroke-opacity="0.6"/>
<line x1="222.30" y1="461.60" x2="194.20" y2="470.80" stroke="#8f97b1" stroke-width="0.45" stroke-opacity="0.6"/>
<line x1="225.50" y1="471.25" x2="230.40" y2="477.90" stroke="#8f97b1" stroke-width="0.45" stroke-opacity="0.6"/>
<line x1="221.25" y1="472.50" x2="230.40" y2="477.90" stroke="#8f97b1" stroke-width="0.45" stroke-opacity="0.6"/>
<line x1="221.25" y1="472.50" x2="208.00" y2="490.30" stroke="#8f97b1" stroke-width="0.45" stroke-opacity="0.6"/>
<line x1="221.25" y1="472.50" x2="194.20" y2="470.80" stroke="#8f97b1" stroke-width="0.45" stroke-opacity="0.6"/>
<line x1="230.40" y1="477.90" x2="211.50" y2="485.60" stroke="#8f97b1" stroke-width="0.45" stroke-opacity="0.6"/>
<line x1="230.40" y1="477.90" x2="202.30" y2="471.70" stroke="#8f97b1" stroke-width="0.45" stroke-opacity="0.6"/>
<line x1="230.40" y1="477.90" x2="202.90" y2="477.50" stroke="#8f97b1" stroke-width="0.45" stroke-opacity="0.6"/>
<line x1="215.40" y1="480.00" x2="195.60" y2="464.60" stroke="#8f97b1" stroke-width="0.45" stroke-opacity="0.6"/>
<line x1="215.40" y1="480.00" x2="194.20" y2="470.80" stroke="#8f97b1" stroke-width="0.45" stroke-opacity="0.6"/>
<line x1="215.40" y1="480.00" x2="202.30" y2="471.70" stroke="#8f97b1" stroke-width="0.45" stroke-opacity="0.6"/>
<line x1="215.40" y1="480.00" x2="191.30" y2="486.20" stroke="#8f97b1" stroke-width="0.45" stroke-opacity="0.6"/>
<line x1="215.40" y1="480.00" x2="207.70" y2="485.20" stroke="#8f97b1" stroke-width="0.45" stroke-opacity="0.6"/>
<line x1="215.40" y1="480.00" x2="192.30" y2="494.80" stroke="#8f97b1" stroke-width="0.45" stroke-opacity="0.6"/>
<line x1="215.40" y1="480.00" x2="207.70" y2="490.40" stroke="#8f97b1" stroke-width="0.45" stroke-opacity="0.6"/>
<line x1="228.50" y1="485.60" x2="208.00" y2="490.30" stroke="#8f97b1" stroke-width="0.45" stroke-opacity="0.6"/>
<line x1="211.50" y1="485.60" x2="202.30" y2="471.70" stroke="#8f97b1" stroke-width="0.45" stroke-opacity="0.6"/>
<line x1="211.50" y1="485.60" x2="190.40" y2="477.50" stroke="#8f97b1" stroke-width="0.45" stroke-opacity="0.6"/>
<line x1="211.50" y1="485.60" x2="207.70" y2="485.20" stroke="#8f97b1" stroke-width="0.45" stroke-opacity="0.6"/>
<line x1="211.50" y1="485.60" x2="199.00" y2="495.80" stroke="#8f97b1" stroke-width="0.45" stroke-opacity="0.6"/>
<line x1="215.40" y1="499.60" x2="208.00" y2="490.30" stroke="#8f97b1" stroke-width="0.45" stroke-opacity="0.6"/>
<line x1="215.40" y1="499.60" x2="191.30" y2="486.20" stroke="#8f97b1" stroke-width="0.45" stroke-opacity="0.6"/>
<line x1="215.40" y1="499.60" x2="207.70" y2="485.20" stroke="#8f97b1" stroke-width="0.45" stroke-opacity="0.6"/>
<line x1="215.40" y1="499.60" x2="207.70" y2="490.40" stroke="#8f97b1" stroke-width="0.45" stroke-opacity="0.6"/>
<line x1="222.10" y1="504.00" x2="207.70" y2="490.40" stroke="#8f97b1" stroke-width="0.45" stroke-opacity="0.6"/>
<line x1="170.80" y1="476.20" x2="187.50" y2="471.70" stroke="#8f97b1" stroke-width="0.45" stroke-opacity="0.6"/>
<line x1="170.80" y1="476.20" x2="190.40" y2="477.50" stroke="#8f97b1" stroke-width="0.45" stroke-opacity="0.6"/>
<line x1="170.80" y1="476.20" x2="185.60" y2="485.20" stroke="#8f97b1" stroke-width="0.45" stroke-opacity="0.6"/>
<line x1="170.80" y1="476.20" x2="197.10" y2="486.20" stroke="#8f97b1" stroke-width="0.45" stroke-opacity="0.6"/>
<line x1="170.80" y1="476.20" x2="182.70" y2="490.00" stroke="#8f97b1" stroke-width="0.45" stroke-opacity="0.6"/>
<line x1="208.00" y1="490.30" x2="197.10" y2="476.50" stroke="#8f97b1" stroke-width="0.45" stroke-opacity="0.6"/>
<line x1="208.00" y1="490.30" x2="207.70" y2="485.20" stroke="#8f97b1" stroke-width="0.45" stroke-opacity="0.6"/>
<line x1="208.00" y1="490.30" x2="182.70" y2="490.00" stroke="#8f97b1" stroke-width="0.45" stroke-opacity="0.6"/>
<line x1="208.00" y1="490.30" x2="186.50" y2="494.80" stroke="#8f97b1" stroke-width="0.45" stroke-opacity="0.6"/>
<line x1="208.00" y1="490.30" x2="199.00" y2="495.80" stroke="#8f97b1" stroke-width="0.45" stroke-opacity="0.6"/>
<line x1="208.00" y1="490.30" x2="207.70" y2="490.40" stroke="#8f97b1" stroke-width="0.45" stroke-opacity="0.6"/>
<line x1="180.80" y1="468.80" x2="187.50" y2="471.70" stroke="#8f97b1" stroke-width="0.45" stroke-opacity="0.6"/>
<line x1="180.80" y1="468.80" x2="177.90" y2="474.60" stroke="#8f97b1" stroke-width="0.45" stroke-opacity="0.6"/>
<line x1="180.80" y1="468.80" x2="202.90" y2="477.50" stroke="#8f97b1" stroke-width="0.45" stroke-opacity="0.6"/>
<line x1="180.80" y1="468.80" x2="197.10" y2="486.20" stroke="#8f97b1" stroke-width="0.45" stroke-opacity="0.6"/>
<line x1="180.80" y1="468.80" x2="182.70" y2="490.00" stroke="#8f97b1" stroke-width="0.45" stroke-opacity="0.6"/>
<line x1="180.80" y1="468.80" x2="186.50" y2="494.80" stroke="#8f97b1" stroke-width="0.45" stroke-opacity="0.6"/>
<line x1="189.40" y1="465.40" x2="187.50" y2="471.70" stroke="#8f97b1" stroke-width="0.45" stroke-opacity="0.6"/>
<line x1="189.40" y1="465.40" x2="202.30" y2="471.70" stroke="#8f97b1" stroke-width="0.45" stroke-opacity="0.6"/>
<line x1="189.40" y1="465.40" x2="190.40" y2="477.50" stroke="#8f97b1" stroke-width="0.45" stroke-opacity="0.6"/>
<line x1="189.40" y1="465.40" x2="197.10" y2="476.50" stroke="#8f97b1" stroke-width="0.45" stroke-opacity="0.6"/>
<line x1="189.40" y1="465.40" x2="185.60" y2="485.20" stroke="#8f97b1" stroke-width="0.45" stroke-opacity="0.6"/>
<line x1="189.40" y1="465.40" x2="191.30" y2="486.20" stroke="#8f97b1" stroke-width="0.45" stroke-opacity="0.6"/>
<line x1="189.40" y1="465.40" x2="192.30" y2="494.80" stroke="#8f97b1" stroke-width="0.45" stroke-opacity="0.6"/>
<line x1="195.60" y1="464.60" x2="185.60" y2="485.20" stroke="#8f97b1" stroke-width="0.45" stroke-opacity="0.6"/>
<line x1="195.60" y1="464.60" x2="191.30" y2="486.20" stroke="#8f97b1" stroke-width="0.45" stroke-opacity="0.6"/>
<line x1="187.50" y1="471.70" x2="202.30" y2="471.70" stroke="#8f97b1" stroke-width="0.45" stroke-opacity="0.6"/>
<line x1="187.50" y1="471.70" x2="177.90" y2="474.60" stroke="#8f97b1" stroke-width="0.45" stroke-opacity="0.6"/>
<line x1="187.50" y1="471.70" x2="202.90" y2="477.50" stroke="#8f97b1" stroke-width="0.45" stroke-opacity="0.6"/>
<line x1="187.50" y1="471.70" x2="185.60" y2="485.20" stroke="#8f97b1" stroke-width="0.45" stroke-opacity="0.6"/>
<line x1="187.50" y1="471.70" x2="197.10" y2="486.20" stroke="#8f97b1" stroke-width="0.45" stroke-opacity="0.6"/>
<line x1="187.50" y1="471.70" x2="179.80" y2="492.90" stroke="#8f97b1" stroke-width="0.45" stroke-opacity="0.6"/>
<line x1="187.50" y1="471.70" x2="192.30" y2="494.80" stroke="#8f97b1" stroke-width="0.45" stroke-opacity="0.6"/>
<line x1="187.50" y1="471.70" x2="207.70" y2="490.40" stroke="#8f97b1" stroke-width="0.45" stroke-opacity="0.6"/>
<line x1="194.20" y1="470.80" x2="202.90" y2="477.50" stroke="#8f97b1" stroke-width="0.45" stroke-opacity="0.6"/>
<line x1="194.20" y1="470.80" x2="186.50" y2="494.80" stroke="#8f97b1" stroke-width="0.45" stroke-opacity="0.6"/>
<line x1="194.20" y1="470.80" x2="207.70" y2="490.40" stroke="#8f97b1" stroke-width="0.45" stroke-opacity="0.6"/>
<line x1="202.30" y1="471.70" x2="177.90" y2="474.60" stroke="#8f97b1" stroke-width="0.45" stroke-opacity="0.6"/>
<line x1="202.30" y1="471.70" x2="190.40" y2="477.50" stroke="#8f97b1" stroke-width="0.45" stroke-opacity="0.6"/>
<line x1="202.30" y1="471.70" x2="191.30" y2="486.20" stroke="#8f97b1" stroke-width="0.45" stroke-opacity="0.6"/>
<line x1="202.30" y1="471.70" x2="203.80" y2="485.20" stroke="#8f97b1" stroke-width="0.45" stroke-opacity="0.6"/>
<line x1="202.30" y1="471.70" x2="186.50" y2="494.80" stroke="#8f97b1" stroke-width="0.45" stroke-opacity="0.6"/>
<line x1="177.90" y1="474.60" x2="197.10" y2="476.50" stroke="#8f97b1" stroke-width="0.45" stroke-opacity="0.6"/>
<line x1="177.90" y1="474.60" x2="202.90" y2="477.50" stroke="#8f97b1" stroke-width="0.45" stroke-opacity="0.6"/>
<line x1="180.80" y1="478.50" x2="202.90" y2="477.50" stroke="#8f97b1" stroke-width="0.45" stroke-opacity="0.6"/>
<line x1="180.80" y1="478.50" x2="177.90" y2="484.20" stroke="#8f97b1" stroke-width="0.45" stroke-opacity="0.6"/>
<line x1="190.40" y1="477.50" x2="186.50" y2="494.80" stroke="#8f97b1" stroke-width="0.45" stroke-opacity="0.6"/>
<line x1="190.40" y1="477.50" x2="192.30" y2="494.80" stroke="#8f97b1" stroke-width="0.45" stroke-opacity="0.6"/>
<line x1="190.40" y1="477.50" x2="199.00" y2="495.80" stroke="#8f97b1" stroke-width="0.45" stroke-opacity="0.6"/>
<line x1="190.40" y1="477.50" x2="207.70" y2="490.40" stroke="#8f97b1" stroke-width="0.45" stroke-opacity="0.6"/>
<line x1="197.10" y1="476.50" x2="177.90" y2="484.20" stroke="#8f97b1" stroke-width="0.45" stroke-opacity="0.6"/>
<line x1="197.10" y1="476.50" x2="185.60" y2="485.20" stroke="#8f97b1" stroke-width="0.45" stroke-opacity="0.6"/>
<line x1="197.10" y1="476.50" x2="207.70" y2="485.20" stroke="#8f97b1" stroke-width="0.45" stroke-opacity="0.6"/>
<line x1="197.10" y1="476.50" x2="199.00" y2="495.80" stroke="#8f97b1" stroke-width="0.45" stroke-opacity="0.6"/>
<line x1="202.90" y1="477.50" x2="185.60" y2="485.20" stroke="#8f97b1" stroke-width="0.45" stroke-opacity="0.6"/>
<line x1="202.90" y1="477.50" x2="191.30" y2="486.20" stroke="#8f97b1" stroke-width="0.45" stroke-opacity="0.6"/>
<line x1="202.90" y1="477.50" x2="192.30" y2="494.80" stroke="#8f97b1" stroke-width="0.45" stroke-opacity="0.6"/>
<line x1="202.90" y1="477.50" x2="207.70" y2="490.40" stroke="#8f97b1" stroke-width="0.45" stroke-opacity="0.6"/>
<line x1="177.90" y1="484.20" x2="191.30" y2="486.20" stroke="#8f97b1" stroke-width="0.45" stroke-opacity="0.6"/>
<line x1="185.60" y1="485.20" x2="191.30" y2="486.20" stroke="#8f97b1" stroke-width="0.45" stroke-opacity="0.6"/>
<line x1="185.60" y1="485.20" x2="186.50" y2="494.80" stroke="#8f97b1" stroke-width="0.45" stroke-opacity="0.6"/>
<line x1="185.60" y1="485.20" x2="192.30" y2="494.80" stroke="#8f97b1" stroke-width="0.45" stroke-opacity="0.6"/>
<line x1="185.60" y1="485.20" x2="199.00" y2="495.80" stroke="#8f97b1" stroke-width="0.45" stroke-opacity="0.6"/>
<line x1="185.60" y1="485.20" x2="207.70" y2="490.40" stroke="#8f97b1" stroke-width="0.45" stroke-opacity="0.6"/>
<line x1="191.30" y1="486.20" x2="203.80" y2="485.20" stroke="#8f97b1" stroke-width="0.45" stroke-opacity="0.6"/>
<line x1="191.30" y1="486.20" x2="179.80" y2="492.90" stroke="#8f97b1" stroke-width="0.45" stroke-opacity="0.6"/>
<line x1="197.10" y1="486.20" x2="207.70" y2="485.20" stroke="#8f97b1" stroke-width="0.45" stroke-opacity="0.6"/>
<line x1="197.10" y1="486.20" x2="179.80" y2="492.90" stroke="#8f97b1" stroke-width="0.45" stroke-opacity="0.6"/>
<line x1="197.10" y1="486.20" x2="186.50" y2="494.80" stroke="#8f97b1" stroke-width="0.45" stroke-opacity="0.6"/>
<line x1="203.80" y1="485.20" x2="192.30" y2="494.80" stroke="#8f97b1" stroke-width="0.45" stroke-opacity="0.6"/>
<line x1="203.80" y1="485.20" x2="199.00" y2="495.80" stroke="#8f97b1" stroke-width="0.45" stroke-opacity="0.6"/>
<line x1="179.80" y1="492.90" x2="192.30" y2="494.80" stroke="#8f97b1" stroke-width="0.45" stroke-opacity="0.6"/>
<line x1="186.50" y1="494.80" x2="192.30" y2="494.80" stroke="#8f97b1" stroke-width="0.45" stroke-opacity="0.6"/>
<line x1="192.30" y1="494.80" x2="199.00" y2="495.80" stroke="#8f97b1" stroke-width="0.45" stroke-opacity="0.6"/>
<line x1="125.00" y1="469.50" x2="142.30" y2="476.50" stroke="#8f97b1" stroke-width="0.45" stroke-opacity="0.6"/>
<line x1="164.25" y1="458.25" x2="170.50" y2="461.25" stroke="#8f97b1" stroke-width="0.45" stroke-opacity="0.6"/>
<line x1="170.50" y1="461.25" x2="175.25" y2="459.50" stroke="#8f97b1" stroke-width="0.45" stroke-opacity="0.6"/>
<line x1="170.50" y1="461.25" x2="171.75" y2="446.25" stroke="#8f97b1" stroke-width="0.45" stroke-opacity="0.6"/>
<line x1="170.50" y1="461.25" x2="170.80" y2="476.20" stroke="#8f97b1" stroke-width="0.45" stroke-opacity="0.6"/>
<line x1="175.25" y1="459.50" x2="171.75" y2="446.25" stroke="#8f97b1" stroke-width="0.45" stroke-opacity="0.6"/>
<line x1="171.75" y1="446.25" x2="191.20" y2="448.90" stroke="#8f97b1" stroke-width="0.45" stroke-opacity="0.6"/>
<line x1="187.00" y1="454.50" x2="191.20" y2="448.90" stroke="#8f97b1" stroke-width="0.45" stroke-opacity="0.6"/>
<line x1="187.00" y1="454.50" x2="202.10" y2="451.20" stroke="#8f97b1" stroke-width="0.45" stroke-opacity="0.6"/>
<line x1="200.40" y1="442.60" x2="206.50" y2="436.00" stroke="#8f97b1" stroke-width="0.45" stroke-opacity="0.6"/>
<line x1="206.50" y1="436.00" x2="226.70" y2="432.70" stroke="#8f97b1" stroke-width="0.45" stroke-opacity="0.6"/>
<line x1="222.30" y1="461.60" x2="226.90" y2="453.80" stroke="#8f97b1" stroke-width="0.45" stroke-opacity="0.6"/>
<line x1="225.50" y1="471.25" x2="211.50" y2="485.60" stroke="#8f97b1" stroke-width="0.45" stroke-opacity="0.6"/>
<line x1="225.50" y1="471.25" x2="226.90" y2="453.80" stroke="#8f97b1" stroke-width="0.45" stroke-opacity="0.6"/>
<line x1="221.25" y1="472.50" x2="228.50" y2="485.60" stroke="#8f97b1" stroke-width="0.45" stroke-opacity="0.6"/>
<line x1="215.40" y1="480.00" x2="208.00" y2="490.30" stroke="#8f97b1" stroke-width="0.45" stroke-opacity="0.6"/>
<line x1="228.50" y1="485.60" x2="222.10" y2="504.00" stroke="#8f97b1" stroke-width="0.45" stroke-opacity="0.6"/>
<line x1="211.50" y1="485.60" x2="215.40" y2="499.60" stroke="#8f97b1" stroke-width="0.45" stroke-opacity="0.6"/>
<line x1="211.50" y1="485.60" x2="208.00" y2="490.30" stroke="#8f97b1" stroke-width="0.45" stroke-opacity="0.6"/>
<line x1="205.30" y1="423.50" x2="199.20" y2="433.40" stroke="#8f97b1" stroke-width="0.45" stroke-opacity="0.6"/>
<line x1="205.30" y1="423.50" x2="219.80" y2="432.30" stroke="#8f97b1" stroke-width="0.45" stroke-opacity="0.6"/>
<line x1="228.90" y1="421.90" x2="237.50" y2="441.10" stroke="#8f97b1" stroke-width="0.45" stroke-opacity="0.6"/>
<line x1="233.30" y1="429.60" x2="220.60" y2="446.00" stroke="#8f97b1" stroke-width="0.45" stroke-opacity="0.6"/>
<line x1="214.80" y1="431.90" x2="220.60" y2="446.00" stroke="#8f97b1" stroke-width="0.45" stroke-opacity="0.6"/>
<line x1="219.80" y1="432.30" x2="232.40" y2="438.00" stroke="#8f97b1" stroke-width="0.45" stroke-opacity="0.6"/>
<line x1="219.80" y1="432.30" x2="211.70" y2="438.00" stroke="#8f97b1" stroke-width="0.45" stroke-opacity="0.6"/>
<line x1="226.70" y1="432.70" x2="229.80" y2="431.60" stroke="#8f97b1" stroke-width="0.45" stroke-opacity="0.6"/>
<line x1="226.70" y1="432.70" x2="216.00" y2="444.60" stroke="#8f97b1" stroke-width="0.45" stroke-opacity="0.6"/>
<line x1="226.70" y1="432.70" x2="232.30" y2="447.50" stroke="#8f97b1" stroke-width="0.45" stroke-opacity="0.6"/>
<line x1="229.80" y1="431.60" x2="232.30" y2="447.50" stroke="#8f97b1" stroke-width="0.45" stroke-opacity="0.6"/>
<line x1="237.50" y1="441.10" x2="220.60" y2="446.00" stroke="#8f97b1" stroke-width="0.45" stroke-opacity="0.6"/>
<line x1="237.50" y1="441.10" x2="232.30" y2="447.50" stroke="#8f97b1" stroke-width="0.45" stroke-opacity="0.6"/>
<line x1="237.50" y1="441.10" x2="226.90" y2="453.80" stroke="#8f97b1" stroke-width="0.45" stroke-opacity="0.6"/>
<line x1="216.00" y1="444.60" x2="220.60" y2="446.00" stroke="#8f97b1" stroke-width="0.45" stroke-opacity="0.6"/>
<line x1="262.20" y1="479.00" x2="251.60" y2="491.80" stroke="#aeb3c7" stroke-width="0.4" stroke-opacity="0.6"/>
<line x1="262.20" y1="479.00" x2="258.90" y2="502.40" stroke="#aeb3c7" stroke-width="0.4" stroke-opacity="0.6"/>
<line x1="247.50" y1="487.40" x2="243.90" y2="497.30" stroke="#aeb3c7" stroke-width="0.4" stroke-opacity="0.6"/>
<line x1="243.90" y1="497.30" x2="230.80" y2="499.60" stroke="#aeb3c7" stroke-width="0.4" stroke-opacity="0.6"/>
<line x1="243.90" y1="497.30" x2="222.10" y2="504.00" stroke="#aeb3c7" stroke-width="0.4" stroke-opacity="0.6"/>
<line x1="262.20" y1="496.00" x2="258.90" y2="502.40" stroke="#aeb3c7" stroke-width="0.4" stroke-opacity="0.6"/>
<line x1="258.90" y1="502.40" x2="264.40" y2="503.30" stroke="#aeb3c7" stroke-width="0.4" stroke-opacity="0.6"/>
<line x1="258.90" y1="502.40" x2="245.70" y2="506.40" stroke="#aeb3c7" stroke-width="0.4" stroke-opacity="0.6"/>
<line x1="245.70" y1="506.40" x2="237.90" y2="528.40" stroke="#aeb3c7" stroke-width="0.4" stroke-opacity="0.6"/>
<line x1="245.70" y1="506.40" x2="247.90" y2="528.00" stroke="#aeb3c7" stroke-width="0.4" stroke-opacity="0.6"/>
<line x1="240.60" y1="509.20" x2="262.50" y2="516.10" stroke="#aeb3c7" stroke-width="0.4" stroke-opacity="0.6"/>
<line x1="240.60" y1="509.20" x2="222.10" y2="504.00" stroke="#aeb3c7" stroke-width="0.4" stroke-opacity="0.6"/>
<line x1="245.20" y1="511.60" x2="241.00" y2="520.70" stroke="#aeb3c7" stroke-width="0.4" stroke-opacity="0.6"/>
<line x1="245.20" y1="511.60" x2="256.10" y2="523.40" stroke="#aeb3c7" stroke-width="0.4" stroke-opacity="0.6"/>
<line x1="245.20" y1="511.60" x2="237.90" y2="528.40" stroke="#aeb3c7" stroke-width="0.4" stroke-opacity="0.6"/>
<line x1="245.20" y1="511.60" x2="247.90" y2="528.00" stroke="#aeb3c7" stroke-width="0.4" stroke-opacity="0.6"/>
<line x1="245.20" y1="511.60" x2="230.80" y2="499.60" stroke="#aeb3c7" stroke-width="0.4" stroke-opacity="0.6"/>
<line x1="221.80" y1="518.00" x2="233.80" y2="535.30" stroke="#aeb3c7" stroke-width="0.4" stroke-opacity="0.6"/>
<line x1="262.50" y1="516.10" x2="241.00" y2="520.70" stroke="#aeb3c7" stroke-width="0.4" stroke-opacity="0.6"/>
<line x1="241.00" y1="520.70" x2="237.90" y2="528.40" stroke="#aeb3c7" stroke-width="0.4" stroke-opacity="0.6"/>
<line x1="241.00" y1="520.70" x2="225.60" y2="530.80" stroke="#aeb3c7" stroke-width="0.4" stroke-opacity="0.6"/>
<line x1="241.00" y1="520.70" x2="247.50" y2="538.40" stroke="#aeb3c7" stroke-width="0.4" stroke-opacity="0.6"/>
<line x1="241.00" y1="520.70" x2="230.80" y2="499.60" stroke="#aeb3c7" stroke-width="0.4" stroke-opacity="0.6"/>
<line x1="256.10" y1="523.40" x2="247.50" y2="538.40" stroke="#aeb3c7" stroke-width="0.4" stroke-opacity="0.6"/>
<line x1="237.90" y1="528.40" x2="253.90" y2="543.60" stroke="#aeb3c7" stroke-width="0.4" stroke-opacity="0.6"/>
<line x1="225.60" y1="530.80" x2="247.50" y2="538.40" stroke="#aeb3c7" stroke-width="0.4" stroke-opacity="0.6"/>
<line x1="216.80" y1="534.40" x2="219.00" y2="544.10" stroke="#aeb3c7" stroke-width="0.4" stroke-opacity="0.6"/>
<line x1="247.50" y1="538.40" x2="253.90" y2="543.60" stroke="#aeb3c7" stroke-width="0.4" stroke-opacity="0.6"/>
<line x1="219.00" y1="544.10" x2="237.30" y2="545.40" stroke="#aeb3c7" stroke-width="0.4" stroke-opacity="0.6"/>
<line x1="164.25" y1="458.25" x2="171.75" y2="446.25" stroke="#aeb3c7" stroke-width="0.4" stroke-opacity="0.6"/>
<line x1="170.50" y1="461.25" x2="175.25" y2="459.50" stroke="#aeb3c7" stroke-width="0.4" stroke-opacity="0.6"/>
<line x1="170.50" y1="461.25" x2="187.00" y2="454.50" stroke="#aeb3c7" stroke-width="0.4" stroke-opacity="0.6"/>
<line x1="175.25" y1="459.50" x2="187.00" y2="454.50" stroke="#aeb3c7" stroke-width="0.4" stroke-opacity="0.6"/>
<line x1="202.10" y1="451.20" x2="206.50" y2="436.00" stroke="#aeb3c7" stroke-width="0.4" stroke-opacity="0.6"/>
<line x1="222.30" y1="461.60" x2="225.50" y2="471.25" stroke="#aeb3c7" stroke-width="0.4" stroke-opacity="0.6"/>
<line x1="225.50" y1="471.25" x2="215.40" y2="480.00" stroke="#aeb3c7" stroke-width="0.4" stroke-opacity="0.6"/>
<line x1="225.50" y1="471.25" x2="211.50" y2="485.60" stroke="#aeb3c7" stroke-width="0.4" stroke-opacity="0.6"/>
<line x1="230.40" y1="477.90" x2="211.50" y2="485.60" stroke="#aeb3c7" stroke-width="0.4" stroke-opacity="0.6"/>
<line x1="215.40" y1="480.00" x2="215.40" y2="499.60" stroke="#aeb3c7" stroke-width="0.4" stroke-opacity="0.6"/>
<line x1="228.50" y1="485.60" x2="208.00" y2="490.30" stroke="#aeb3c7" stroke-width="0.4" stroke-opacity="0.6"/>
<line x1="215.40" y1="499.60" x2="222.10" y2="504.00" stroke="#aeb3c7" stroke-width="0.4" stroke-opacity="0.6"/>
<line x1="150.60" y1="478.70" x2="137.30" y2="488.50" stroke="#8f97b1" stroke-width="0.45" stroke-opacity="0.6"/>
<line x1="150.60" y1="478.70" x2="150.10" y2="495.10" stroke="#8f97b1" stroke-width="0.45" stroke-opacity="0.6"/>
<line x1="150.60" y1="478.70" x2="159.60" y2="493.40" stroke="#8f97b1" stroke-width="0.45" stroke-opacity="0.6"/>
<line x1="150.60" y1="478.70" x2="138.80" y2="501.10" stroke="#8f97b1" stroke-width="0.45" stroke-opacity="0.6"/>
<line x1="150.60" y1="478.70" x2="159.80" y2="502.90" stroke="#8f97b1" stroke-width="0.45" stroke-opacity="0.6"/>
<line x1="150.60" y1="478.70" x2="147.70" y2="507.80" stroke="#8f97b1" stroke-width="0.45" stroke-opacity="0.6"/>
<line x1="150.60" y1="478.70" x2="125.00" y2="469.50" stroke="#8f97b1" stroke-width="0.45" stroke-opacity="0.6"/>
<line x1="150.60" y1="478.70" x2="164.25" y2="458.25" stroke="#8f97b1" stroke-width="0.45" stroke-opacity="0.6"/>
<line x1="150.60" y1="478.70" x2="142.30" y2="476.50" stroke="#8f97b1" stroke-width="0.45" stroke-opacity="0.6"/>
<line x1="155.20" y1="485.30" x2="137.30" y2="488.50" stroke="#8f97b1" stroke-width="0.45" stroke-opacity="0.6"/>
<line x1="155.20" y1="485.30" x2="147.70" y2="507.80" stroke="#8f97b1" stroke-width="0.45" stroke-opacity="0.6"/>
<line x1="155.20" y1="485.30" x2="154.60" y2="510.10" stroke="#8f97b1" stroke-width="0.45" stroke-opacity="0.6"/>
<line x1="155.20" y1="485.30" x2="149.50" y2="469.50" stroke="#8f97b1" stroke-width="0.45" stroke-opacity="0.6"/>
<line x1="155.20" y1="485.30" x2="164.25" y2="458.25" stroke="#8f97b1" stroke-width="0.45" stroke-opacity="0.6"/>
<line x1="155.20" y1="485.30" x2="170.50" y2="461.25" stroke="#8f97b1" stroke-width="0.45" stroke-opacity="0.6"/>
<line x1="137.30" y1="488.50" x2="148.10" y2="489.80" stroke="#8f97b1" stroke-width="0.45" stroke-opacity="0.6"/>
<line x1="137.30" y1="488.50" x2="138.80" y2="501.10" stroke="#8f97b1" stroke-width="0.45" stroke-opacity="0.6"/>
<line x1="137.30" y1="488.50" x2="159.80" y2="502.90" stroke="#8f97b1" stroke-width="0.45" stroke-opacity="0.6"/>
<line x1="137.30" y1="488.50" x2="147.70" y2="507.80" stroke="#8f97b1" stroke-width="0.45" stroke-opacity="0.6"/>
<line x1="137.30" y1="488.50" x2="154.60" y2="510.10" stroke="#8f97b1" stroke-width="0.45" stroke-opacity="0.6"/>
<line x1="137.30" y1="488.50" x2="125.00" y2="469.50" stroke="#8f97b1" stroke-width="0.45" stroke-opacity="0.6"/>
<line x1="148.10" y1="489.80" x2="159.60" y2="493.40" stroke="#8f97b1" stroke-width="0.45" stroke-opacity="0.6"/>
<line x1="148.10" y1="489.80" x2="138.80" y2="501.10" stroke="#8f97b1" stroke-width="0.45" stroke-opacity="0.6"/>
<line x1="148.10" y1="489.80" x2="159.80" y2="502.90" stroke="#8f97b1" stroke-width="0.45" stroke-opacity="0.6"/>
<line x1="148.10" y1="489.80" x2="139.10" y2="509.20" stroke="#8f97b1" stroke-width="0.45" stroke-opacity="0.6"/>
<line x1="148.10" y1="489.80" x2="154.60" y2="510.10" stroke="#8f97b1" stroke-width="0.45" stroke-opacity="0.6"/>
<line x1="148.10" y1="489.80" x2="149.50" y2="469.50" stroke="#8f97b1" stroke-width="0.45" stroke-opacity="0.6"/>
<line x1="148.10" y1="489.80" x2="142.30" y2="476.50" stroke="#8f97b1" stroke-width="0.45" stroke-opacity="0.6"/>
<line x1="150.10" y1="495.10" x2="159.60" y2="493.40" stroke="#8f97b1" stroke-width="0.45" stroke-opacity="0.6"/>
<line x1="150.10" y1="495.10" x2="159.80" y2="502.90" stroke="#8f97b1" stroke-width="0.45" stroke-opacity="0.6"/>
<line x1="150.10" y1="495.10" x2="139.10" y2="509.20" stroke="#8f97b1" stroke-width="0.45" stroke-opacity="0.6"/>
<line x1="150.10" y1="495.10" x2="154.60" y2="510.10" stroke="#8f97b1" stroke-width="0.45" stroke-opacity="0.6"/>
<line x1="150.10" y1="495.10" x2="168.60" y2="517.10" stroke="#8f97b1" stroke-width="0.45" stroke-opacity="0.6"/>
<line x1="159.60" y1="493.40" x2="167.30" y2="497.30" stroke="#8f97b1" stroke-width="0.45" stroke-opacity="0.6"/>
<line x1="159.60" y1="493.40" x2="154.60" y2="510.10" stroke="#8f97b1" stroke-width="0.45" stroke-opacity="0.6"/>
<line x1="159.60" y1="493.40" x2="163.10" y2="520.20" stroke="#8f97b1" stroke-width="0.45" stroke-opacity="0.6"/>
<line x1="159.60" y1="493.40" x2="170.80" y2="476.20" stroke="#8f97b1" stroke-width="0.45" stroke-opacity="0.6"/>
<line x1="167.30" y1="497.30" x2="138.80" y2="501.10" stroke="#8f97b1" stroke-width="0.45" stroke-opacity="0.6"/>
<line x1="167.30" y1="497.30" x2="154.60" y2="510.10" stroke="#8f97b1" stroke-width="0.45" stroke-opacity="0.6"/>
<line x1="138.80" y1="501.10" x2="159.80" y2="502.90" stroke="#8f97b1" stroke-width="0.45" stroke-opacity="0.6"/>
<line x1="138.80" y1="501.10" x2="153.50" y2="517.10" stroke="#8f97b1" stroke-width="0.45" stroke-opacity="0.6"/>
<line x1="138.80" y1="501.10" x2="142.30" y2="476.50" stroke="#8f97b1" stroke-width="0.45" stroke-opacity="0.6"/>
<line x1="159.80" y1="502.90" x2="139.10" y2="509.20" stroke="#8f97b1" stroke-width="0.45" stroke-opacity="0.6"/>
<line x1="159.80" y1="502.90" x2="154.60" y2="510.10" stroke="#8f97b1" stroke-width="0.45" stroke-opacity="0.6"/>
<line x1="159.80" y1="502.90" x2="143.80" y2="519.60" stroke="#8f97b1" stroke-width="0.45" stroke-opacity="0.6"/>
<line x1="159.80" y1="502.90" x2="170.80" y2="476.20" stroke="#8f97b1" stroke-width="0.45" stroke-opacity="0.6"/>
<line x1="139.10" y1="509.20" x2="154.60" y2="510.10" stroke="#8f97b1" stroke-width="0.45" stroke-opacity="0.6"/>
<line x1="139.10" y1="509.20" x2="153.50" y2="517.10" stroke="#8f97b1" stroke-width="0.45" stroke-opacity="0.6"/>
<line x1="147.70" y1="507.80" x2="154.60" y2="510.10" stroke="#8f97b1" stroke-width="0.45" stroke-opacity="0.6"/>
<line x1="147.70" y1="507.80" x2="143.80" y2="519.60" stroke="#8f97b1" stroke-width="0.45" stroke-opacity="0.6"/>
<line x1="147.70" y1="507.80" x2="163.10" y2="520.20" stroke="#8f97b1" stroke-width="0.45" stroke-opacity="0.6"/>
<line x1="165.00" y1="511.30" x2="163.10" y2="520.20" stroke="#8f97b1" stroke-width="0.45" stroke-opacity="0.6"/>
<line x1="153.50" y1="517.10" x2="168.60" y2="517.10" stroke="#8f97b1" stroke-width="0.45" stroke-opacity="0.6"/>
<line x1="163.10" y1="520.20" x2="175.70" y2="520.40" stroke="#8f97b1" stroke-width="0.45" stroke-opacity="0.6"/>
<line x1="149.50" y1="469.50" x2="164.25" y2="458.25" stroke="#8f97b1" stroke-width="0.45" stroke-opacity="0.6"/>
<line x1="149.50" y1="469.50" x2="175.25" y2="459.50" stroke="#8f97b1" stroke-width="0.45" stroke-opacity="0.6"/>
<line x1="170.50" y1="461.25" x2="175.25" y2="459.50" stroke="#8f97b1" stroke-width="0.45" stroke-opacity="0.6"/>
<line x1="170.50" y1="461.25" x2="171.75" y2="446.25" stroke="#8f97b1" stroke-width="0.45" stroke-opacity="0.6"/>
<line x1="170.50" y1="461.25" x2="170.80" y2="476.20" stroke="#8f97b1" stroke-width="0.45" stroke-opacity="0.6"/>
<line x1="171.75" y1="446.25" x2="170.80" y2="476.20" stroke="#8f97b1" stroke-width="0.45" stroke-opacity="0.6"/>
<line x1="262.50" y1="486.30" x2="247.50" y2="487.40" stroke="#aeb3c7" stroke-width="0.4" stroke-opacity="0.6"/>
<line x1="247.50" y1="487.40" x2="251.60" y2="491.80" stroke="#aeb3c7" stroke-width="0.4" stroke-opacity="0.6"/>
<line x1="247.50" y1="487.40" x2="243.90" y2="497.30" stroke="#aeb3c7" stroke-width="0.4" stroke-opacity="0.6"/>
<line x1="247.50" y1="487.40" x2="245.70" y2="506.40" stroke="#aeb3c7" stroke-width="0.4" stroke-opacity="0.6"/>
<line x1="243.90" y1="497.30" x2="230.80" y2="499.60" stroke="#aeb3c7" stroke-width="0.4" stroke-opacity="0.6"/>
<line x1="231.10" y1="499.30" x2="230.80" y2="499.60" stroke="#aeb3c7" stroke-width="0.4" stroke-opacity="0.6"/>
<line x1="258.90" y1="502.40" x2="240.60" y2="509.20" stroke="#aeb3c7" stroke-width="0.4" stroke-opacity="0.6"/>
<line x1="258.90" y1="502.40" x2="256.10" y2="523.40" stroke="#aeb3c7" stroke-width="0.4" stroke-opacity="0.6"/>
<line x1="264.40" y1="503.30" x2="262.50" y2="516.10" stroke="#aeb3c7" stroke-width="0.4" stroke-opacity="0.6"/>
<line x1="240.60" y1="509.20" x2="247.90" y2="528.00" stroke="#aeb3c7" stroke-width="0.4" stroke-opacity="0.6"/>
<line x1="240.60" y1="509.20" x2="230.80" y2="499.60" stroke="#aeb3c7" stroke-width="0.4" stroke-opacity="0.6"/>
<line x1="241.00" y1="520.70" x2="256.70" y2="535.90" stroke="#aeb3c7" stroke-width="0.4" stroke-opacity="0.6"/>
<line x1="256.10" y1="523.40" x2="247.90" y2="528.00" stroke="#aeb3c7" stroke-width="0.4" stroke-opacity="0.6"/>
<line x1="237.90" y1="528.40" x2="216.80" y2="534.40" stroke="#aeb3c7" stroke-width="0.4" stroke-opacity="0.6"/>
<line x1="225.60" y1="530.80" x2="233.80" y2="535.30" stroke="#aeb3c7" stroke-width="0.4" stroke-opacity="0.6"/>
<line x1="247.50" y1="538.40" x2="237.30" y2="545.40" stroke="#aeb3c7" stroke-width="0.4" stroke-opacity="0.6"/>
<line x1="256.70" y1="535.90" x2="237.30" y2="545.40" stroke="#aeb3c7" stroke-width="0.4" stroke-opacity="0.6"/>
<line x1="219.00" y1="544.10" x2="237.30" y2="545.40" stroke="#aeb3c7" stroke-width="0.4" stroke-opacity="0.6"/>
<line x1="180.80" y1="468.80" x2="189.40" y2="465.40" stroke="#27335c" stroke-width="0.7" stroke-opacity="0.85"/>
<line x1="180.80" y1="468.80" x2="195.60" y2="464.60" stroke="#27335c" stroke-width="0.7" stroke-opacity="0.85"/>
<line x1="180.80" y1="468.80" x2="187.50" y2="471.70" stroke="#27335c" stroke-width="0.7" stroke-opacity="0.85"/>
<line x1="180.80" y1="468.80" x2="194.20" y2="470.80" stroke="#27335c" stroke-width="0.7" stroke-opacity="0.85"/>
<line x1="180.80" y1="468.80" x2="202.30" y2="471.70" stroke="#27335c" stroke-width="0.7" stroke-opacity="0.85"/>
<line x1="180.80" y1="468.80" x2="177.90" y2="474.60" stroke="#27335c" stroke-width="0.7" stroke-opacity="0.85"/>
<line x1="180.80" y1="468.80" x2="180.80" y2="478.50" stroke="#27335c" stroke-width="0.7" stroke-opacity="0.85"/>
<line x1="180.80" y1="468.80" x2="190.40" y2="477.50" stroke="#27335c" stroke-width="0.7" stroke-opacity="0.85"/>
<line x1="180.80" y1="468.80" x2="197.10" y2="476.50" stroke="#27335c" stroke-width="0.7" stroke-opacity="0.85"/>
<line x1="180.80" y1="468.80" x2="202.90" y2="477.50" stroke="#27335c" stroke-width="0.7" stroke-opacity="0.85"/>
<line x1="180.80" y1="468.80" x2="177.90" y2="484.20" stroke="#27335c" stroke-width="0.7" stroke-opacity="0.85"/>
<line x1="180.80" y1="468.80" x2="185.60" y2="485.20" stroke="#27335c" stroke-width="0.7" stroke-opacity="0.85"/>
<line x1="180.80" y1="468.80" x2="191.30" y2="486.20" stroke="#27335c" stroke-width="0.7" stroke-opacity="0.85"/>
<line x1="180.80" y1="468.80" x2="197.10" y2="486.20" stroke="#27335c" stroke-width="0.7" stroke-opacity="0.85"/>
<line x1="180.80" y1="468.80" x2="182.70" y2="490.00" stroke="#27335c" stroke-width="0.7" stroke-opacity="0.85"/>
<line x1="180.80" y1="468.80" x2="179.80" y2="492.90" stroke="#27335c" stroke-width="0.7" stroke-opacity="0.85"/>
<line x1="189.40" y1="465.40" x2="195.60" y2="464.60" stroke="#27335c" stroke-width="0.7" stroke-opacity="0.85"/>
<line x1="189.40" y1="465.40" x2="187.50" y2="471.70" stroke="#27335c" stroke-width="0.7" stroke-opacity="0.85"/>
<line x1="189.40" y1="465.40" x2="194.20" y2="470.80" stroke="#27335c" stroke-width="0.7" stroke-opacity="0.85"/>
<line x1="189.40" y1="465.40" x2="202.30" y2="471.70" stroke="#27335c" stroke-width="0.7" stroke-opacity="0.85"/>
<line x1="189.40" y1="465.40" x2="177.90" y2="474.60" stroke="#27335c" stroke-width="0.7" stroke-opacity="0.85"/>
<line x1="189.40" y1="465.40" x2="180.80" y2="478.50" stroke="#27335c" stroke-width="0.7" stroke-opacity="0.85"/>
<line x1="189.40" y1="465.40" x2="190.40" y2="477.50" stroke="#27335c" stroke-width="0.7" stroke-opacity="0.85"/>
<line x1="189.40" y1="465.40" x2="197.10" y2="476.50" stroke="#27335c" stroke-width="0.7" stroke-opacity="0.85"/>
<line x1="189.40" y1="465.40" x2="202.90" y2="477.50" stroke="#27335c" stroke-width="0.7" stroke-opacity="0.85"/>
<line x1="189.40" y1="465.40" x2="177.90" y2="484.20" stroke="#27335c" stroke-width="0.7" stroke-opacity="0.85"/>
<line x1="189.40" y1="465.40" x2="185.60" y2="485.20" stroke="#27335c" stroke-width="0.7" stroke-opacity="0.85"/>
<line x1="189.40" y1="465.40" x2="191.30" y2="486.20" stroke="#27335c" stroke-width="0.7" stroke-opacity="0.85"/>
<line x1="189.40" y1="465.40" x2="197.10" y2="486.20" stroke="#27335c" stroke-width="0.7" stroke-opacity="0.85"/>
<line x1="189.40" y1="465.40" x2="203.80" y2="485.20" stroke="#27335c" stroke-width="0.7" stroke-opacity="0.85"/>
<line x1="189.40" y1="465.40" x2="182.70" y2="490.00" stroke="#27335c" stroke-width="0.7" stroke-opacity="0.85"/>
<line x1="195.60" y1="464.60" x2="187.50" y2="471.70" stroke="#27335c" stroke-width="0.7" stroke-opacity="0.85"/>
<line x1="195.60" y1="464.60" x2="194.20" y2="470.80" stroke="#27335c" stroke-width="0.7" stroke-opacity="0.85"/>
<line x1="195.60" y1="464.60" x2="202.30" y2="471.70" stroke="#27335c" stroke-width="0.7" stroke-opacity="0.85"/>
<line x1="195.60" y1="464.60" x2="177.90" y2="474.60" stroke="#27335c" stroke-width="0.7" stroke-opacity="0.85"/>
<line x1="195.60" y1="464.60" x2="180.80" y2="478.50" stroke="#27335c" stroke-width="0.7" stroke-opacity="0.85"/>
<line x1="195.60" y1="464.60" x2="190.40" y2="477.50" stroke="#27335c" stroke-width="0.7" stroke-opacity="0.85"/>
<line x1="195.60" y1="464.60" x2="197.10" y2="476.50" stroke="#27335c" stroke-width="0.7" stroke-opacity="0.85"/>
<line x1="195.60" y1="464.60" x2="202.90" y2="477.50" stroke="#27335c" stroke-width="0.7" stroke-opacity="0.85"/>
<line x1="195.60" y1="464.60" x2="191.30" y2="486.20" stroke="#27335c" stroke-width="0.7" stroke-opacity="0.85"/>
<line x1="195.60" y1="464.60" x2="197.10" y2="486.20" stroke="#27335c" stroke-width="0.7" stroke-opacity="0.85"/>
<line x1="195.60" y1="464.60" x2="203.80" y2="485.20" stroke="#27335c" stroke-width="0.7" stroke-opacity="0.85"/>
<line x1="195.60" y1="464.60" x2="207.70" y2="485.20" stroke="#27335c" stroke-width="0.7" stroke-opacity="0.85"/>
<line x1="187.50" y1="471.70" x2="194.20" y2="470.80" stroke="#27335c" stroke-width="0.7" stroke-opacity="0.85"/>
<line x1="187.50" y1="471.70" x2="202.30" y2="471.70" stroke="#27335c" stroke-width="0.7" stroke-opacity="0.85"/>
<line x1="187.50" y1="471.70" x2="177.90" y2="474.60" stroke="#27335c" stroke-width="0.7" stroke-opacity="0.85"/>
<line x1="187.50" y1="471.70" x2="180.80" y2="478.50" stroke="#27335c" stroke-width="0.7" stroke-opacity="0.85"/>
<line x1="187.50" y1="471.70" x2="190.40" y2="477.50" stroke="#27335c" stroke-width="0.7" stroke-opacity="0.85"/>
<line x1="187.50" y1="471.70" x2="197.10" y2="476.50" stroke="#27335c" stroke-width="0.7" stroke-opacity="0.85"/>
<line x1="187.50" y1="471.70" x2="202.90" y2="477.50" stroke="#27335c" stroke-width="0.7" stroke-opacity="0.85"/>
<line x1="187.50" y1="471.70" x2="177.90" y2="484.20" stroke="#27335c" stroke-width="0.7" stroke-opacity="0.85"/>
<line x1="187.50" y1="471.70" x2="185.60" y2="485.20" stroke="#27335c" stroke-width="0.7" stroke-opacity="0.85"/>
<line x1="187.50" y1="471.70" x2="191.30" y2="486.20" stroke="#27335c" stroke-width="0.7" stroke-opacity="0.85"/>
<line x1="187.50" y1="471.70" x2="197.10" y2="486.20" stroke="#27335c" stroke-width="0.7" stroke-opacity="0.85"/>
<line x1="187.50" y1="471.70" x2="207.70" y2="485.20" stroke="#27335c" stroke-width="0.7" stroke-opacity="0.85"/>
<line x1="187.50" y1="471.70" x2="182.70" y2="490.00" stroke="#27335c" stroke-width="0.7" stroke-opacity="0.85"/>
<line x1="187.50" y1="471.70" x2="179.80" y2="492.90" stroke="#27335c" stroke-width="0.7" stroke-opacity="0.85"/>
<line x1="187.50" y1="471.70" x2="186.50" y2="494.80" stroke="#27335c" stroke-width="0.7" stroke-opacity="0.85"/>
<line x1="187.50" y1="471.70" x2="192.30" y2="494.80" stroke="#27335c" stroke-width="0.7" stroke-opacity="0.85"/>
<line x1="194.20" y1="470.80" x2="202.30" y2="471.70" stroke="#27335c" stroke-width="0.7" stroke-opacity="0.85"/>
<line x1="194.20" y1="470.80" x2="177.90" y2="474.60" stroke="#27335c" stroke-width="0.7" stroke-opacity="0.85"/>
<line x1="194.20" y1="470.80" x2="180.80" y2="478.50" stroke="#27335c" stroke-width="0.7" stroke-opacity="0.85"/>
<line x1="194.20" y1="470.80" x2="190.40" y2="477.50" stroke="#27335c" stroke-width="0.7" stroke-opacity="0.85"/>
<line x1="194.20" y1="470.80" x2="197.10" y2="476.50" stroke="#27335c" stroke-width="0.7" stroke-opacity="0.85"/>
<line x1="194.20" y1="470.80" x2="202.90" y2="477.50" stroke="#27335c" stroke-width="0.7" stroke-opacity="0.85"/>
<line x1="194.20" y1="470.80" x2="177.90" y2="484.20" stroke="#27335c" stroke-width="0.7" stroke-opacity="0.85"/>
<line x1="194.20" y1="470.80" x2="185.60" y2="485.20" stroke="#27335c" stroke-width="0.7" stroke-opacity="0.85"/>
<line x1="194.20" y1="470.80" x2="191.30" y2="486.20" stroke="#27335c" stroke-width="0.7" stroke-opacity="0.85"/>
<line x1="194.20" y1="470.80" x2="197.10" y2="486.20" stroke="#27335c" stroke-width="0.7" stroke-opacity="0.85"/>
<line x1="194.20" y1="470.80" x2="203.80" y2="485.20" stroke="#27335c" stroke-width="0.7" stroke-opacity="0.85"/>
<line x1="194.20" y1="470.80" x2="207.70" y2="485.20" stroke="#27335c" stroke-width="0.7" stroke-opacity="0.85"/>
<line x1="194.20" y1="470.80" x2="182.70" y2="490.00" stroke="#27335c" stroke-width="0.7" stroke-opacity="0.85"/>
<line x1="194.20" y1="470.80" x2="186.50" y2="494.80" stroke="#27335c" stroke-width="0.7" stroke-opacity="0.85"/>
<line x1="194.20" y1="470.80" x2="192.30" y2="494.80" stroke="#27335c" stroke-width="0.7" stroke-opacity="0.85"/>
<line x1="194.20" y1="470.80" x2="199.00" y2="495.80" stroke="#27335c" stroke-width="0.7" stroke-opacity="0.85"/>
<line x1="194.20" y1="470.80" x2="207.70" y2="490.40" stroke="#27335c" stroke-width="0.7" stroke-opacity="0.85"/>
<line x1="202.30" y1="471.70" x2="177.90" y2="474.60" stroke="#27335c" stroke-width="0.7" stroke-opacity="0.85"/>
<line x1="202.30" y1="471.70" x2="180.80" y2="478.50" stroke="#27335c" stroke-width="0.7" stroke-opacity="0.85"/>
<line x1="202.30" y1="471.70" x2="190.40" y2="477.50" stroke="#27335c" stroke-width="0.7" stroke-opacity="0.85"/>
<line x1="202.30" y1="471.70" x2="197.10" y2="476.50" stroke="#27335c" stroke-width="0.7" stroke-opacity="0.85"/>
<line x1="202.30" y1="471.70" x2="202.90" y2="477.50" stroke="#27335c" stroke-width="0.7" stroke-opacity="0.85"/>
<line x1="202.30" y1="471.70" x2="185.60" y2="485.20" stroke="#27335c" stroke-width="0.7" stroke-opacity="0.85"/>
<line x1="202.30" y1="471.70" x2="191.30" y2="486.20" stroke="#27335c" stroke-width="0.7" stroke-opacity="0.85"/>
<line x1="202.30" y1="471.70" x2="197.10" y2="486.20" stroke="#27335c" stroke-width="0.7" stroke-opacity="0.85"/>
<line x1="202.30" y1="471.70" x2="203.80" y2="485.20" stroke="#27335c" stroke-width="0.7" stroke-opacity="0.85"/>
<line x1="202.30" y1="471.70" x2="207.70" y2="485.20" stroke="#27335c" stroke-width="0.7" stroke-opacity="0.85"/>
<line x1="202.30" y1="471.70" x2="192.30" y2="494.80" stroke="#27335c" stroke-width="0.7" stroke-opacity="0.85"/>
<line x1="202.30" y1="471.70" x2="199.00" y2="495.80" stroke="#27335c" stroke-width="0.7" stroke-opacity="0.85"/>
<line x1="202.30" y1="471.70" x2="207.70" y2="490.40" stroke="#27335c" stroke-width="0.7" stroke-opacity="0.85"/>
<line x1="177.90" y1="474.60" x2="180.80" y2="478.50" stroke="#27335c" stroke-width="0.7" stroke-opacity="0.85"/>
<line x1="177.90" y1="474.60" x2="190.40" y2="477.50" stroke="#27335c" stroke-width="0.7" stroke-opacity="0.85"/>
<line x1="177.90" y1="474.60" x2="197.10" y2="476.50" stroke="#27335c" stroke-width="0.7" stroke-opacity="0.85"/>
<line x1="177.90" y1="474.60" x2="202.90" y2="477.50" stroke="#27335c" stroke-width="0.7" stroke-opacity="0.85"/>
<line x1="177.90" y1="474.60" x2="177.90" y2="484.20" stroke="#27335c" stroke-width="0.7" stroke-opacity="0.85"/>
<line x1="177.90" y1="474.60" x2="185.60" y2="485.20" stroke="#27335c" stroke-width="0.7" stroke-opacity="0.85"/>
<line x1="177.90" y1="474.60" x2="191.30" y2="486.20" stroke="#27335c" stroke-width="0.7" stroke-opacity="0.85"/>
<line x1="177.90" y1="474.60" x2="197.10" y2="486.20" stroke="#27335c" stroke-width="0.7" stroke-opacity="0.85"/>
<line x1="177.90" y1="474.60" x2="182.70" y2="490.00" stroke="#27335c" stroke-width="0.7" stroke-opacity="0.85"/>
<line x1="177.90" y1="474.60" x2="179.80" y2="492.90" stroke="#27335c" stroke-width="0.7" stroke-opacity="0.85"/>
<line x1="177.90" y1="474.60" x2="186.50" y2="494.80" stroke="#27335c" stroke-width="0.7" stroke-opacity="0.85"/>
<line x1="177.90" y1="474.60" x2="192.30" y2="494.80" stroke="#27335c" stroke-width="0.7" stroke-opacity="0.85"/>
<line x1="180.80" y1="478.50" x2="190.40" y2="477.50" stroke="#27335c" stroke-width="0.7" stroke-opacity="0.85"/>
<line x1="180.80" y1="478.50" x2="197.10" y2="476.50" stroke="#27335c" stroke-width="0.7" stroke-opacity="0.85"/>
<line x1="180.80" y1="478.50" x2="202.90" y2="477.50" stroke="#27335c" stroke-width="0.7" stroke-opacity="0.85"/>
<line x1="180.80" y1="478.50" x2="177.90" y2="484.20" stroke="#27335c" stroke-width="0.7" stroke-opacity="0.85"/>
<line x1="180.80" y1="478.50" x2="185.60" y2="485.20" stroke="#27335c" stroke-width="0.7" stroke-opacity="0.85"/>
<line x1="180.80" y1="478.50" x2="191.30" y2="486.20" stroke="#27335c" stroke-width="0.7" stroke-opacity="0.85"/>
<line x1="180.80" y1="478.50" x2="197.10" y2="486.20" stroke="#27335c" stroke-width="0.7" stroke-opacity="0.85"/>
<line x1="180.80" y1="478.50" x2="203.80" y2="485.20" stroke="#27335c" stroke-width="0.7" stroke-opacity="0.85"/>
<line x1="180.80" y1="478.50" x2="182.70" y2="490.00" stroke="#27335c" stroke-width="0.7" stroke-opacity="0.85"/>
<line x1="180.80" y1="478.50" x2="179.80" y2="492.90" stroke="#27335c" stroke-width="0.7" stroke-opacity="0.85"/>
<line x1="180.80" y1="478.50" x2="186.50" y2="494.80" stroke="#27335c" stroke-width="0.7" stroke-opacity="0.85"/>
<line x1="180.80" y1="478.50" x2="192.30" y2="494.80" stroke="#27335c" stroke-width="0.7" stroke-opacity="0.85"/>
<line x1="180.80" y1="478.50" x2="199.00" y2="495.80" stroke="#27335c" stroke-width="0.7" stroke-opacity="0.85"/>
<line x1="190.40" y1="477.50" x2="197.10" y2="476.50" stroke="#27335c" stroke-width="0.7" stroke-opacity="0.85"/>
<line x1="190.40" y1="477.50" x2="177.90" y2="484.20" stroke="#27335c" stroke-width="0.7" stroke-opacity="0.85"/>
<line x1="190.40" y1="477.50" x2="185.60" y2="485.20" stroke="#27335c" stroke-width="0.7" stroke-opacity="0.85"/>
<line x1="190.40" y1="477.50" x2="191.30" y2="486.20" stroke="#27335c" stroke-width="0.7" stroke-opacity="0.85"/>
<line x1="190.40" y1="477.50" x2="197.10" y2="486.20" stroke="#27335c" stroke-width="0.7" stroke-opacity="0.85"/>
<line x1="190.40" y1="477.50" x2="203.80" y2="485.20" stroke="#27335c" stroke-width="0.7" stroke-opacity="0.85"/>
<line x1="190.40" y1="477.50" x2="207.70" y2="485.20" stroke="#27335c" stroke-width="0.7" stroke-opacity="0.85"/>
<line x1="190.40" y1="477.50" x2="182.70" y2="490.00" stroke="#27335c" stroke-width="0.7" stroke-opacity="0.85"/>
<line x1="190.40" y1="477.50" x2="179.80" y2="492.90" stroke="#27335c" stroke-width="0.7" stroke-opacity="0.85"/>
<line x1="190.40" y1="477.50" x2="186.50" y2="494.80" stroke="#27335c" stroke-width="0.7" stroke-opacity="0.85"/>
<line x1="190.40" y1="477.50" x2="192.30" y2="494.80" stroke="#27335c" stroke-width="0.7" stroke-opacity="0.85"/>
<line x1="190.40" y1="477.50" x2="199.00" y2="495.80" stroke="#27335c" stroke-width="0.7" stroke-opacity="0.85"/>
<line x1="190.40" y1="477.50" x2="207.70" y2="490.40" stroke="#27335c" stroke-width="0.7" stroke-opacity="0.85"/>
<line x1="197.10" y1="476.50" x2="202.90" y2="477.50" stroke="#27335c" stroke-width="0.7" stroke-opacity="0.85"/>
<line x1="197.10" y1="476.50" x2="177.90" y2="484.20" stroke="#27335c" stroke-width="0.7" stroke-opacity="0.85"/>
<line x1="197.10" y1="476.50" x2="185.60" y2="485.20" stroke="#27335c" stroke-width="0.7" stroke-opacity="0.85"/>
<line x1="197.10" y1="476.50" x2="191.30" y2="486.20" stroke="#27335c" stroke-width="0.7" stroke-opacity="0.85"/>
<line x1="197.10" y1="476.50" x2="197.10" y2="486.20" stroke="#27335c" stroke-width="0.7" stroke-opacity="0.85"/>
<line x1="197.10" y1="476.50" x2="203.80" y2="485.20" stroke="#27335c" stroke-width="0.7" stroke-opacity="0.85"/>
<line x1="197.10" y1="476.50" x2="207.70" y2="485.20" stroke="#27335c" stroke-width="0.7" stroke-opacity="0.85"/>
<line x1="197.10" y1="476.50" x2="182.70" y2="490.00" stroke="#27335c" stroke-width="0.7" stroke-opacity="0.85"/>
<line x1="197.10" y1="476.50" x2="179.80" y2="492.90" stroke="#27335c" stroke-width="0.7" stroke-opacity="0.85"/>
<line x1="197.10" y1="476.50" x2="186.50" y2="494.80" stroke="#27335c" stroke-width="0.7" stroke-opacity="0.85"/>
<line x1="197.10" y1="476.50" x2="192.30" y2="494.80" stroke="#27335c" stroke-width="0.7" stroke-opacity="0.85"/>
<line x1="197.10" y1="476.50" x2="199.00" y2="495.80" stroke="#27335c" stroke-width="0.7" stroke-opacity="0.85"/>
<line x1="197.10" y1="476.50" x2="207.70" y2="490.40" stroke="#27335c" stroke-width="0.7" stroke-opacity="0.85"/>
<line x1="202.90" y1="477.50" x2="177.90" y2="484.20" stroke="#27335c" stroke-width="0.7" stroke-opacity="0.85"/>
<line x1="202.90" y1="477.50" x2="185.60" y2="485.20" stroke="#27335c" stroke-width="0.7" stroke-opacity="0.85"/>
<line x1="202.90" y1="477.50" x2="191.30" y2="486.20" stroke="#27335c" stroke-width="0.7" stroke-opacity="0.85"/>
<line x1="202.90" y1="477.50" x2="197.10" y2="486.20" stroke="#27335c" stroke-width="0.7" stroke-opacity="0.85"/>
<line x1="202.90" y1="477.50" x2="203.80" y2="485.20" stroke="#27335c" stroke-width="0.7" stroke-opacity="0.85"/>
<line x1="202.90" y1="477.50" x2="207.70" y2="485.20" stroke="#27335c" stroke-width="0.7" stroke-opacity="0.85"/>
<line x1="202.90" y1="477.50" x2="182.70" y2="490.00" stroke="#27335c" stroke-width="0.7" stroke-opacity="0.85"/>
<line x1="202.90" y1="477.50" x2="186.50" y2="494.80" stroke="#27335c" stroke-width="0.7" stroke-opacity="0.85"/>
<line x1="202.90" y1="477.50" x2="192.30" y2="494.80" stroke="#27335c" stroke-width="0.7" stroke-opacity="0.85"/>
<line x1="202.90" y1="477.50" x2="199.00" y2="495.80" stroke="#27335c" stroke-width="0.7" stroke-opacity="0.85"/>
<line x1="202.90" y1="477.50" x2="207.70" y2="490.40" stroke="#27335c" stroke-width="0.7" stroke-opacity="0.85"/>
<line x1="177.90" y1="484.20" x2="185.60" y2="485.20" stroke="#27335c" stroke-width="0.7" stroke-opacity="0.85"/>
<line x1="177.90" y1="484.20" x2="191.30" y2="486.20" stroke="#27335c" stroke-width="0.7" stroke-opacity="0.85"/>
<line x1="177.90" y1="484.20" x2="197.10" y2="486.20" stroke="#27335c" stroke-width="0.7" stroke-opacity="0.85"/>
<line x1="177.90" y1="484.20" x2="203.80" y2="485.20" stroke="#27335c" stroke-width="0.7" stroke-opacity="0.85"/>
<line x1="177.90" y1="484.20" x2="182.70" y2="490.00" stroke="#27335c" stroke-width="0.7" stroke-opacity="0.85"/>
<line x1="177.90" y1="484.20" x2="179.80" y2="492.90" stroke="#27335c" stroke-width="0.7" stroke-opacity="0.85"/>
<line x1="177.90" y1="484.20" x2="186.50" y2="494.80" stroke="#27335c" stroke-width="0.7" stroke-opacity="0.85"/>
<line x1="177.90" y1="484.20" x2="192.30" y2="494.80" stroke="#27335c" stroke-width="0.7" stroke-opacity="0.85"/>
<line x1="177.90" y1="484.20" x2="199.00" y2="495.80" stroke="#27335c" stroke-width="0.7" stroke-opacity="0.85"/>
<line x1="185.60" y1="485.20" x2="191.30" y2="486.20" stroke="#27335c" stroke-width="0.7" stroke-opacity="0.85"/>
<line x1="185.60" y1="485.20" x2="197.10" y2="486.20" stroke="#27335c" stroke-width="0.7" stroke-opacity="0.85"/>
<line x1="185.60" y1="485.20" x2="203.80" y2="485.20" stroke="#27335c" stroke-width="0.7" stroke-opacity="0.85"/>
<line x1="185.60" y1="485.20" x2="207.70" y2="485.20" stroke="#27335c" stroke-width="0.7" stroke-opacity="0.85"/>
<line x1="185.60" y1="485.20" x2="182.70" y2="490.00" stroke="#27335c" stroke-width="0.7" stroke-opacity="0.85"/>
<line x1="185.60" y1="485.20" x2="179.80" y2="492.90" stroke="#27335c" stroke-width="0.7" stroke-opacity="0.85"/>
<line x1="185.60" y1="485.20" x2="186.50" y2="494.80" stroke="#27335c" stroke-width="0.7" stroke-opacity="0.85"/>
<line x1="185.60" y1="485.20" x2="199.00" y2="495.80" stroke="#27335c" stroke-width="0.7" stroke-opacity="0.85"/>
<line x1="185.60" y1="485.20" x2="207.70" y2="490.40" stroke="#27335c" stroke-width="0.7" stroke-opacity="0.85"/>
<line x1="191.30" y1="486.20" x2="197.10" y2="486.20" stroke="#27335c" stroke-width="0.7" stroke-opacity="0.85"/>
<line x1="191.30" y1="486.20" x2="203.80" y2="485.20" stroke="#27335c" stroke-width="0.7" stroke-opacity="0.85"/>
<line x1="191.30" y1="486.20" x2="207.70" y2="485.20" stroke="#27335c" stroke-width="0.7" stroke-opacity="0.85"/>
<line x1="191.30" y1="486.20" x2="182.70" y2="490.00" stroke="#27335c" stroke-width="0.7" stroke-opacity="0.85"/>
<line x1="191.30" y1="486.20" x2="179.80" y2="492.90" stroke="#27335c" stroke-width="0.7" stroke-opacity="0.85"/>
<line x1="191.30" y1="486.20" x2="186.50" y2="494.80" stroke="#27335c" stroke-width="0.7" stroke-opacity="0.85"/>
<line x1="191.30" y1="486.20" x2="192.30" y2="494.80" stroke="#27335c" stroke-width="0.7" stroke-opacity="0.85"/>
<line x1="191.30" y1="486.20" x2="199.00" y2="495.80" stroke="#27335c" stroke-width="0.7" stroke-opacity="0.85"/>
<line x1="191.30" y1="486.20" x2="207.70" y2="490.40" stroke="#27335c" stroke-width="0.7" stroke-opacity="0.85"/>
<line x1="197.10" y1="486.20" x2="203.80" y2="485.20" stroke="#27335c" stroke-width="0.7" stroke-opacity="0.85"/>
<line x1="197.10" y1="486.20" x2="207.70" y2="485.20" stroke="#27335c" stroke-width="0.7" stroke-opacity="0.85"/>
<line x1="197.10" y1="486.20" x2="182.70" y2="490.00" stroke="#27335c" stroke-width="0.7" stroke-opacity="0.85"/>
<line x1="197.10" y1="486.20" x2="186.50" y2="494.80" stroke="#27335c" stroke-width="0.7" stroke-opacity="0.85"/>
<line x1="197.10" y1="486.20" x2="207.70" y2="490.40" stroke="#27335c" stroke-width="0.7" stroke-opacity="0.85"/>
<line x1="203.80" y1="485.20" x2="207.70" y2="485.20" stroke="#27335c" stroke-width="0.7" stroke-opacity="0.85"/>
<line x1="203.80" y1="485.20" x2="182.70" y2="490.00" stroke="#27335c" stroke-width="0.7" stroke-opacity="0.85"/>
<line x1="203.80" y1="485.20" x2="179.80" y2="492.90" stroke="#27335c" stroke-width="0.7" stroke-opacity="0.85"/>
<line x1="203.80" y1="485.20" x2="186.50" y2="494.80" stroke="#27335c" stroke-width="0.7" stroke-opacity="0.85"/>
<line x1="203.80" y1="485.20" x2="192.30" y2="494.80" stroke="#27335c" stroke-width="0.7" stroke-opacity="0.85"/>
<line x1="203.80" y1="485.20" x2="199.00" y2="495.80" stroke="#27335c" stroke-width="0.7" stroke-opacity="0.85"/>
<line x1="203.80" y1="485.20" x2="207.70" y2="490.40" stroke="#27335c" stroke-width="0.7" stroke-opacity="0.85"/>
<line x1="207.70" y1="485.20" x2="182.70" y2="490.00" stroke="#27335c" stroke-width="0.7" stroke-opacity="0.85"/>
<line x1="207.70" y1="485.20" x2="186.50" y2="494.80" stroke="#27335c" stroke-width="0.7" stroke-opacity="0.85"/>
<line x1="207.70" y1="485.20" x2="192.30" y2="494.80" stroke="#27335c" stroke-width="0.7" stroke-opacity="0.85"/>
<line x1="207.70" y1="485.20" x2="199.00" y2="495.80" stroke="#27335c" stroke-width="0.7" stroke-opacity="0.85"/>
<line x1="207.70" y1="485.20" x2="207.70" y2="490.40" stroke="#27335c" stroke-width="0.7" stroke-opacity="0.85"/>
<line x1="182.70" y1="490.00" x2="179.80" y2="492.90" stroke="#27335c" stroke-width="0.7" stroke-opacity="0.85"/>
<line x1="182.70" y1="490.00" x2="186.50" y2="494.80" stroke="#27335c" stroke-width="0.7" stroke-opacity="0.85"/>
<line x1="182.70" y1="490.00" x2="192.30" y2="494.80" stroke="#27335c" stroke-width="0.7" stroke-opacity="0.85"/>
<line x1="182.70" y1="490.00" x2="199.00" y2="495.80" stroke="#27335c" stroke-width="0.7" stroke-opacity="0.85"/>
<line x1="182.70" y1="490.00" x2="207.70" y2="490.40" stroke="#27335c" stroke-width="0.7" stroke-opacity="0.85"/>
<line x1="179.80" y1="492.90" x2="186.50" y2="494.80" stroke="#27335c" stroke-width="0.7" stroke-opacity="0.85"/>
<line x1="179.80" y1="492.90" x2="192.30" y2="494.80" stroke="#27335c" stroke-width="0.7" stroke-opacity="0.85"/>
<line x1="179.80" y1="492.90" x2="199.00" y2="495.80" stroke="#27335c" stroke-width="0.7" stroke-opacity="0.85"/>
<line x1="186.50" y1="494.80" x2="192.30" y2="494.80" stroke="#27335c" stroke-width="0.7" stroke-opacity="0.85"/>
<line x1="186.50" y1="494.80" x2="199.00" y2="495.80" stroke="#27335c" stroke-width="0.7" stroke-opacity="0.85"/>
<line x1="186.50" y1="494.80" x2="207.70" y2="490.40" stroke="#27335c" stroke-width="0.7" stroke-opacity="0.85"/>
<line x1="192.30" y1="494.80" x2="199.00" y2="495.80" stroke="#27335c" stroke-width="0.7" stroke-opacity="0.85"/>
<line x1="192.30" y1="494.80" x2="207.70" y2="490.40" stroke="#27335c" stroke-width="0.7" stroke-opacity="0.85"/>
<line x1="199.00" y1="495.80" x2="207.70" y2="490.40" stroke="#27335c" stroke-width="0.7" stroke-opacity="0.85"/>
<line x1="150.60" y1="478.70" x2="137.30" y2="488.50" stroke="#27335c" stroke-width="0.62" stroke-opacity="0.8"/>
<line x1="150.60" y1="478.70" x2="150.10" y2="495.10" stroke="#27335c" stroke-width="0.62" stroke-opacity="0.8"/>
<line x1="150.60" y1="478.70" x2="159.60" y2="493.40" stroke="#27335c" stroke-width="0.62" stroke-opacity="0.8"/>
<line x1="150.60" y1="478.70" x2="167.30" y2="497.30" stroke="#27335c" stroke-width="0.62" stroke-opacity="0.8"/>
<line x1="150.60" y1="478.70" x2="138.80" y2="501.10" stroke="#27335c" stroke-width="0.62" stroke-opacity="0.8"/>
<line x1="150.60" y1="478.70" x2="159.80" y2="502.90" stroke="#27335c" stroke-width="0.62" stroke-opacity="0.8"/>
<line x1="150.60" y1="478.70" x2="147.70" y2="507.80" stroke="#27335c" stroke-width="0.62" stroke-opacity="0.8"/>
<line x1="155.20" y1="485.30" x2="137.30" y2="488.50" stroke="#27335c" stroke-width="0.62" stroke-opacity="0.8"/>
<line x1="155.20" y1="485.30" x2="148.10" y2="489.80" stroke="#27335c" stroke-width="0.62" stroke-opacity="0.8"/>
<line x1="155.20" y1="485.30" x2="150.10" y2="495.10" stroke="#27335c" stroke-width="0.62" stroke-opacity="0.8"/>
<line x1="155.20" y1="485.30" x2="167.30" y2="497.30" stroke="#27335c" stroke-width="0.62" stroke-opacity="0.8"/>
<line x1="155.20" y1="485.30" x2="138.80" y2="501.10" stroke="#27335c" stroke-width="0.62" stroke-opacity="0.8"/>
<line x1="155.20" y1="485.30" x2="159.80" y2="502.90" stroke="#27335c" stroke-width="0.62" stroke-opacity="0.8"/>
<line x1="155.20" y1="485.30" x2="139.10" y2="509.20" stroke="#27335c" stroke-width="0.62" stroke-opacity="0.8"/>
<line x1="137.30" y1="488.50" x2="148.10" y2="489.80" stroke="#27335c" stroke-width="0.62" stroke-opacity="0.8"/>
<line x1="137.30" y1="488.50" x2="150.10" y2="495.10" stroke="#27335c" stroke-width="0.62" stroke-opacity="0.8"/>
<line x1="137.30" y1="488.50" x2="138.80" y2="501.10" stroke="#27335c" stroke-width="0.62" stroke-opacity="0.8"/>
<line x1="137.30" y1="488.50" x2="159.80" y2="502.90" stroke="#27335c" stroke-width="0.62" stroke-opacity="0.8"/>
<line x1="137.30" y1="488.50" x2="139.10" y2="509.20" stroke="#27335c" stroke-width="0.62" stroke-opacity="0.8"/>
<line x1="137.30" y1="488.50" x2="154.60" y2="510.10" stroke="#27335c" stroke-width="0.62" stroke-opacity="0.8"/>
<line x1="148.10" y1="489.80" x2="150.10" y2="495.10" stroke="#27335c" stroke-width="0.62" stroke-opacity="0.8"/>
<line x1="148.10" y1="489.80" x2="167.30" y2="497.30" stroke="#27335c" stroke-width="0.62" stroke-opacity="0.8"/>
<line x1="148.10" y1="489.80" x2="138.80" y2="501.10" stroke="#27335c" stroke-width="0.62" stroke-opacity="0.8"/>
<line x1="148.10" y1="489.80" x2="159.80" y2="502.90" stroke="#27335c" stroke-width="0.62" stroke-opacity="0.8"/>
<line x1="148.10" y1="489.80" x2="147.70" y2="507.80" stroke="#27335c" stroke-width="0.62" stroke-opacity="0.8"/>
<line x1="148.10" y1="489.80" x2="153.50" y2="517.10" stroke="#27335c" stroke-width="0.62" stroke-opacity="0.8"/>
<line x1="150.10" y1="495.10" x2="159.60" y2="493.40" stroke="#27335c" stroke-width="0.62" stroke-opacity="0.8"/>
<line x1="150.10" y1="495.10" x2="159.80" y2="502.90" stroke="#27335c" stroke-width="0.62" stroke-opacity="0.8"/>
<line x1="150.10" y1="495.10" x2="147.70" y2="507.80" stroke="#27335c" stroke-width="0.62" stroke-opacity="0.8"/>
<line x1="150.10" y1="495.10" x2="154.60" y2="510.10" stroke="#27335c" stroke-width="0.62" stroke-opacity="0.8"/>
<line x1="150.10" y1="495.10" x2="143.80" y2="519.60" stroke="#27335c" stroke-width="0.62" stroke-opacity="0.8"/>
<line x1="150.10" y1="495.10" x2="153.50" y2="517.10" stroke="#27335c" stroke-width="0.62" stroke-opacity="0.8"/>
<line x1="150.10" y1="495.10" x2="163.10" y2="520.20" stroke="#27335c" stroke-width="0.62" stroke-opacity="0.8"/>
<line x1="159.60" y1="493.40" x2="167.30" y2="497.30" stroke="#27335c" stroke-width="0.62" stroke-opacity="0.8"/>
<line x1="159.60" y1="493.40" x2="138.80" y2="501.10" stroke="#27335c" stroke-width="0.62" stroke-opacity="0.8"/>
<line x1="159.60" y1="493.40" x2="159.80" y2="502.90" stroke="#27335c" stroke-width="0.62" stroke-opacity="0.8"/>
<line x1="159.60" y1="493.40" x2="139.10" y2="509.20" stroke="#27335c" stroke-width="0.62" stroke-opacity="0.8"/>
<line x1="159.60" y1="493.40" x2="147.70" y2="507.80" stroke="#27335c" stroke-width="0.62" stroke-opacity="0.8"/>
<line x1="159.60" y1="493.40" x2="154.60" y2="510.10" stroke="#27335c" stroke-width="0.62" stroke-opacity="0.8"/>
<line x1="159.60" y1="493.40" x2="165.00" y2="511.30" stroke="#27335c" stroke-width="0.62" stroke-opacity="0.8"/>
<line x1="159.60" y1="493.40" x2="153.50" y2="517.10" stroke="#27335c" stroke-width="0.62" stroke-opacity="0.8"/>
<line x1="159.60" y1="493.40" x2="163.10" y2="520.20" stroke="#27335c" stroke-width="0.62" stroke-opacity="0.8"/>
<line x1="159.60" y1="493.40" x2="168.60" y2="517.10" stroke="#27335c" stroke-width="0.62" stroke-opacity="0.8"/>
<line x1="167.30" y1="497.30" x2="138.80" y2="501.10" stroke="#27335c" stroke-width="0.62" stroke-opacity="0.8"/>
<line x1="167.30" y1="497.30" x2="159.80" y2="502.90" stroke="#27335c" stroke-width="0.62" stroke-opacity="0.8"/>
<line x1="167.30" y1="497.30" x2="154.60" y2="510.10" stroke="#27335c" stroke-width="0.62" stroke-opacity="0.8"/>
<line x1="167.30" y1="497.30" x2="168.60" y2="517.10" stroke="#27335c" stroke-width="0.62" stroke-opacity="0.8"/>
<line x1="167.30" y1="497.30" x2="175.70" y2="520.40" stroke="#27335c" stroke-width="0.62" stroke-opacity="0.8"/>
<line x1="138.80" y1="501.10" x2="154.60" y2="510.10" stroke="#27335c" stroke-width="0.62" stroke-opacity="0.8"/>
<line x1="138.80" y1="501.10" x2="153.50" y2="517.10" stroke="#27335c" stroke-width="0.62" stroke-opacity="0.8"/>
<line x1="159.80" y1="502.90" x2="139.10" y2="509.20" stroke="#27335c" stroke-width="0.62" stroke-opacity="0.8"/>
<line x1="159.80" y1="502.90" x2="147.70" y2="507.80" stroke="#27335c" stroke-width="0.62" stroke-opacity="0.8"/>
<line x1="159.80" y1="502.90" x2="154.60" y2="510.10" stroke="#27335c" stroke-width="0.62" stroke-opacity="0.8"/>
<line x1="159.80" y1="502.90" x2="143.80" y2="519.60" stroke="#27335c" stroke-width="0.62" stroke-opacity="0.8"/>
<line x1="159.80" y1="502.90" x2="153.50" y2="517.10" stroke="#27335c" stroke-width="0.62" stroke-opacity="0.8"/>
<line x1="159.80" y1="502.90" x2="163.10" y2="520.20" stroke="#27335c" stroke-width="0.62" stroke-opacity="0.8"/>
<line x1="159.80" y1="502.90" x2="168.60" y2="517.10" stroke="#27335c" stroke-width="0.62" stroke-opacity="0.8"/>
<line x1="159.80" y1="502.90" x2="175.70" y2="520.40" stroke="#27335c" stroke-width="0.62" stroke-opacity="0.8"/>
<line x1="139.10" y1="509.20" x2="147.70" y2="507.80" stroke="#27335c" stroke-width="0.62" stroke-opacity="0.8"/>
<line x1="139.10" y1="509.20" x2="154.60" y2="510.10" stroke="#27335c" stroke-width="0.62" stroke-opacity="0.8"/>
<line x1="139.10" y1="509.20" x2="165.00" y2="511.30" stroke="#27335c" stroke-width="0.62" stroke-opacity="0.8"/>
<line x1="139.10" y1="509.20" x2="153.50" y2="517.10" stroke="#27335c" stroke-width="0.62" stroke-opacity="0.8"/>
<line x1="139.10" y1="509.20" x2="163.10" y2="520.20" stroke="#27335c" stroke-width="0.62" stroke-opacity="0.8"/>
<line x1="147.70" y1="507.80" x2="154.60" y2="510.10" stroke="#27335c" stroke-width="0.62" stroke-opacity="0.8"/>
<line x1="147.70" y1="507.80" x2="165.00" y2="511.30" stroke="#27335c" stroke-width="0.62" stroke-opacity="0.8"/>
<line x1="147.70" y1="507.80" x2="153.50" y2="517.10" stroke="#27335c" stroke-width="0.62" stroke-opacity="0.8"/>
<line x1="147.70" y1="507.80" x2="163.10" y2="520.20" stroke="#27335c" stroke-width="0.62" stroke-opacity="0.8"/>
<line x1="147.70" y1="507.80" x2="168.60" y2="517.10" stroke="#27335c" stroke-width="0.62" stroke-opacity="0.8"/>
<line x1="154.60" y1="510.10" x2="143.80" y2="519.60" stroke="#27335c" stroke-width="0.62" stroke-opacity="0.8"/>
<line x1="154.60" y1="510.10" x2="153.50" y2="517.10" stroke="#27335c" stroke-width="0.62" stroke-opacity="0.8"/>
<line x1="154.60" y1="510.10" x2="163.10" y2="520.20" stroke="#27335c" stroke-width="0.62" stroke-opacity="0.8"/>
<line x1="154.60" y1="510.10" x2="168.60" y2="517.10" stroke="#27335c" stroke-width="0.62" stroke-opacity="0.8"/>
<line x1="154.60" y1="510.10" x2="175.70" y2="520.40" stroke="#27335c" stroke-width="0.62" stroke-opacity="0.8"/>
<line x1="165.00" y1="511.30" x2="153.50" y2="517.10" stroke="#27335c" stroke-width="0.62" stroke-opacity="0.8"/>
<line x1="165.00" y1="511.30" x2="175.70" y2="520.40" stroke="#27335c" stroke-width="0.62" stroke-opacity="0.8"/>
<line x1="143.80" y1="519.60" x2="168.60" y2="517.10" stroke="#27335c" stroke-width="0.62" stroke-opacity="0.8"/>
<line x1="153.50" y1="517.10" x2="163.10" y2="520.20" stroke="#27335c" stroke-width="0.62" stroke-opacity="0.8"/>
<line x1="153.50" y1="517.10" x2="175.70" y2="520.40" stroke="#27335c" stroke-width="0.62" stroke-opacity="0.8"/>
<line x1="163.10" y1="520.20" x2="168.60" y2="517.10" stroke="#27335c" stroke-width="0.62" stroke-opacity="0.8"/>
<line x1="168.60" y1="517.10" x2="175.70" y2="520.40" stroke="#27335c" stroke-width="0.62" stroke-opacity="0.8"/>
<path d="M196.3 427.3Q205.8 416.4 220.2 418.1" stroke="#27335c" stroke-width="0.5" stroke-opacity="0.7"/>
<path d="M196.3 427.3Q199.4 429.6 199.2 433.4" stroke="#27335c" stroke-width="0.5" stroke-opacity="0.7"/>
<path d="M196.3 427.3Q208.1 429.7 219.8 432.3" stroke="#27335c" stroke-width="0.5" stroke-opacity="0.7"/>
<path d="M196.3 427.3Q206.5 435.5 216.0 444.6" stroke="#27335c" stroke-width="0.5" stroke-opacity="0.7"/>
<path d="M205.3 423.5Q214.1 424.6 220.2 418.1" stroke="#27335c" stroke-width="0.5" stroke-opacity="0.7"/>
<path d="M205.3 423.5Q201.6 428.0 199.2 433.4" stroke="#27335c" stroke-width="0.5" stroke-opacity="0.7"/>
<path d="M205.3 423.5Q214.7 424.4 219.8 432.3" stroke="#27335c" stroke-width="0.5" stroke-opacity="0.7"/>
<path d="M205.3 423.5Q218.0 423.5 226.7 432.7" stroke="#27335c" stroke-width="0.5" stroke-opacity="0.7"/>
<path d="M205.3 423.5Q205.8 432.0 211.7 438.0" stroke="#27335c" stroke-width="0.5" stroke-opacity="0.7"/>
<path d="M205.3 423.5Q210.2 434.3 216.0 444.6" stroke="#27335c" stroke-width="0.5" stroke-opacity="0.7"/>
<path d="M220.2 418.1Q215.5 424.2 214.8 431.9" stroke="#27335c" stroke-width="0.5" stroke-opacity="0.7"/>
<path d="M220.2 418.1Q218.2 425.1 219.8 432.3" stroke="#27335c" stroke-width="0.5" stroke-opacity="0.7"/>
<path d="M220.2 418.1Q223.0 430.0 232.4 438.0" stroke="#27335c" stroke-width="0.5" stroke-opacity="0.7"/>
<path d="M220.2 418.1Q218.6 429.2 211.7 438.0" stroke="#27335c" stroke-width="0.5" stroke-opacity="0.7"/>
<path d="M228.9 421.9Q233.4 424.5 233.3 429.6" stroke="#27335c" stroke-width="0.5" stroke-opacity="0.7"/>
<path d="M228.9 421.9Q220.9 425.6 214.8 431.9" stroke="#27335c" stroke-width="0.5" stroke-opacity="0.7"/>
<path d="M228.9 421.9Q224.6 426.7 226.7 432.7" stroke="#27335c" stroke-width="0.5" stroke-opacity="0.7"/>
<path d="M228.9 421.9Q227.9 426.9 229.8 431.6" stroke="#27335c" stroke-width="0.5" stroke-opacity="0.7"/>
<path d="M228.9 421.9Q235.2 429.0 232.4 438.0" stroke="#27335c" stroke-width="0.5" stroke-opacity="0.7"/>
<path d="M228.9 421.9Q238.3 429.2 237.5 441.1" stroke="#27335c" stroke-width="0.5" stroke-opacity="0.7"/>
<path d="M228.9 421.9Q218.4 431.8 220.6 446.0" stroke="#27335c" stroke-width="0.5" stroke-opacity="0.7"/>
<path d="M228.9 421.9Q236.0 434.0 232.3 447.5" stroke="#27335c" stroke-width="0.5" stroke-opacity="0.7"/>
<path d="M233.3 429.6Q223.7 428.1 214.8 431.9" stroke="#27335c" stroke-width="0.5" stroke-opacity="0.7"/>
<path d="M233.3 429.6Q230.9 433.0 226.7 432.7" stroke="#27335c" stroke-width="0.5" stroke-opacity="0.7"/>
<path d="M233.3 429.6Q230.4 433.5 232.4 438.0" stroke="#27335c" stroke-width="0.5" stroke-opacity="0.7"/>
<path d="M233.3 429.6Q234.5 435.7 237.5 441.1" stroke="#27335c" stroke-width="0.5" stroke-opacity="0.7"/>
<path d="M233.3 429.6Q221.0 429.9 211.7 438.0" stroke="#27335c" stroke-width="0.5" stroke-opacity="0.7"/>
<path d="M233.3 429.6Q226.2 438.9 216.0 444.6" stroke="#27335c" stroke-width="0.5" stroke-opacity="0.7"/>
<path d="M233.3 429.6Q230.3 438.4 232.3 447.5" stroke="#27335c" stroke-width="0.5" stroke-opacity="0.7"/>
<path d="M233.3 429.6Q228.0 441.1 226.9 453.8" stroke="#27335c" stroke-width="0.5" stroke-opacity="0.7"/>
<path d="M199.2 433.4Q207.3 436.1 214.8 431.9" stroke="#27335c" stroke-width="0.5" stroke-opacity="0.7"/>
<path d="M199.2 433.4Q209.5 433.6 219.8 432.3" stroke="#27335c" stroke-width="0.5" stroke-opacity="0.7"/>
<path d="M199.2 433.4Q213.1 440.0 226.7 432.7" stroke="#27335c" stroke-width="0.5" stroke-opacity="0.7"/>
<path d="M199.2 433.4Q211.8 436.5 220.6 446.0" stroke="#27335c" stroke-width="0.5" stroke-opacity="0.7"/>
<path d="M214.8 431.9Q217.3 431.9 219.8 432.3" stroke="#27335c" stroke-width="0.5" stroke-opacity="0.7"/>
<path d="M214.8 431.9Q220.9 430.2 226.7 432.7" stroke="#27335c" stroke-width="0.5" stroke-opacity="0.7"/>
<path d="M214.8 431.9Q223.4 443.2 237.5 441.1" stroke="#27335c" stroke-width="0.5" stroke-opacity="0.7"/>
<path d="M214.8 431.9Q213.0 434.8 211.7 438.0" stroke="#27335c" stroke-width="0.5" stroke-opacity="0.7"/>
<path d="M214.8 431.9Q212.6 438.5 216.0 444.6" stroke="#27335c" stroke-width="0.5" stroke-opacity="0.7"/>
<path d="M214.8 431.9Q221.2 442.3 232.3 447.5" stroke="#27335c" stroke-width="0.5" stroke-opacity="0.7"/>
<path d="M219.8 432.3Q223.3 431.8 226.7 432.7" stroke="#27335c" stroke-width="0.5" stroke-opacity="0.7"/>
<path d="M219.8 432.3Q225.0 434.3 229.8 431.6" stroke="#27335c" stroke-width="0.5" stroke-opacity="0.7"/>
<path d="M219.8 432.3Q225.5 436.5 232.4 438.0" stroke="#27335c" stroke-width="0.5" stroke-opacity="0.7"/>
<path d="M219.8 432.3Q215.5 434.8 211.7 438.0" stroke="#27335c" stroke-width="0.5" stroke-opacity="0.7"/>
<path d="M219.8 432.3Q217.0 439.3 220.6 446.0" stroke="#27335c" stroke-width="0.5" stroke-opacity="0.7"/>
<path d="M219.8 432.3Q223.5 442.0 232.3 447.5" stroke="#27335c" stroke-width="0.5" stroke-opacity="0.7"/>
<path d="M226.7 432.7Q228.5 432.8 229.8 431.6" stroke="#27335c" stroke-width="0.5" stroke-opacity="0.7"/>
<path d="M226.7 432.7Q234.5 433.8 237.5 441.1" stroke="#27335c" stroke-width="0.5" stroke-opacity="0.7"/>
<path d="M226.7 432.7Q217.7 431.1 211.7 438.0" stroke="#27335c" stroke-width="0.5" stroke-opacity="0.7"/>
<path d="M226.7 432.7Q218.4 436.0 216.0 444.6" stroke="#27335c" stroke-width="0.5" stroke-opacity="0.7"/>
<path d="M226.7 432.7Q221.8 438.5 220.6 446.0" stroke="#27335c" stroke-width="0.5" stroke-opacity="0.7"/>
<path d="M226.7 432.7Q232.4 439.0 232.3 447.5" stroke="#27335c" stroke-width="0.5" stroke-opacity="0.7"/>
<path d="M229.8 431.6Q231.7 434.5 232.4 438.0" stroke="#27335c" stroke-width="0.5" stroke-opacity="0.7"/>
<path d="M229.8 431.6Q233.6 439.2 232.3 447.5" stroke="#27335c" stroke-width="0.5" stroke-opacity="0.7"/>
<path d="M232.4 438.0Q222.1 437.9 211.7 438.0" stroke="#27335c" stroke-width="0.5" stroke-opacity="0.7"/>
<path d="M232.4 438.0Q224.5 442.0 216.0 444.6" stroke="#27335c" stroke-width="0.5" stroke-opacity="0.7"/>
<path d="M232.4 438.0Q228.8 445.4 220.6 446.0" stroke="#27335c" stroke-width="0.5" stroke-opacity="0.7"/>
<path d="M232.4 438.0Q226.1 444.7 226.9 453.8" stroke="#27335c" stroke-width="0.5" stroke-opacity="0.7"/>
<path d="M237.5 441.1Q224.6 439.7 211.7 438.0" stroke="#27335c" stroke-width="0.5" stroke-opacity="0.7"/>
<path d="M237.5 441.1Q226.9 443.8 216.0 444.6" stroke="#27335c" stroke-width="0.5" stroke-opacity="0.7"/>
<path d="M237.5 441.1Q228.5 441.7 220.6 446.0" stroke="#27335c" stroke-width="0.5" stroke-opacity="0.7"/>
<path d="M237.5 441.1Q234.0 443.6 232.3 447.5" stroke="#27335c" stroke-width="0.5" stroke-opacity="0.7"/>
<path d="M211.7 438.0Q214.4 440.9 216.0 444.6" stroke="#27335c" stroke-width="0.5" stroke-opacity="0.7"/>
<path d="M211.7 438.0Q214.1 444.2 220.6 446.0" stroke="#27335c" stroke-width="0.5" stroke-opacity="0.7"/>
<path d="M211.7 438.0Q223.6 439.2 232.3 447.5" stroke="#27335c" stroke-width="0.5" stroke-opacity="0.7"/>
<path d="M216.0 444.6Q223.2 447.1 226.9 453.8" stroke="#27335c" stroke-width="0.5" stroke-opacity="0.7"/>
<path d="M220.6 446.0Q226.8 443.7 232.3 447.5" stroke="#27335c" stroke-width="0.5" stroke-opacity="0.7"/>
<path d="M220.6 446.0Q223.7 449.9 226.9 453.8" stroke="#27335c" stroke-width="0.5" stroke-opacity="0.7"/>
<path d="M232.3 447.5Q229.4 450.5 226.9 453.8" stroke="#27335c" stroke-width="0.5" stroke-opacity="0.7"/>
<line x1="271.70" y1="498.80" x2="284.10" y2="497.90" stroke="#3a4670" stroke-width="0.55" stroke-opacity="0.8"/>
<line x1="271.70" y1="498.80" x2="276.60" y2="507.00" stroke="#3a4670" stroke-width="0.55" stroke-opacity="0.8"/>
<line x1="284.10" y1="497.90" x2="276.60" y2="507.00" stroke="#3a4670" stroke-width="0.55" stroke-opacity="0.8"/>
<line x1="284.10" y1="497.90" x2="283.00" y2="507.50" stroke="#3a4670" stroke-width="0.55" stroke-opacity="0.8"/>
<line x1="276.60" y1="507.00" x2="283.00" y2="507.50" stroke="#3a4670" stroke-width="0.55" stroke-opacity="0.8"/>
<line x1="282.10" y1="522.20" x2="283.60" y2="529.30" stroke="#3a4670" stroke-width="0.55" stroke-opacity="0.8"/>
<line x1="282.10" y1="522.20" x2="281.20" y2="534.40" stroke="#3a4670" stroke-width="0.55" stroke-opacity="0.8"/>
<line x1="283.60" y1="529.30" x2="281.20" y2="534.40" stroke="#3a4670" stroke-width="0.55" stroke-opacity="0.8"/>
<line x1="283.60" y1="529.30" x2="293.20" y2="529.30" stroke="#3a4670" stroke-width="0.55" stroke-opacity="0.8"/>
<line x1="293.20" y1="529.30" x2="304.60" y2="533.50" stroke="#3a4670" stroke-width="0.55" stroke-opacity="0.8"/>
<line x1="222.30" y1="461.60" x2="206.50" y2="436.00" stroke="#4a5680" stroke-width="0.45" stroke-opacity="0.75"/>
<line x1="222.30" y1="461.60" x2="211.70" y2="438.00" stroke="#4a5680" stroke-width="0.45" stroke-opacity="0.75"/>
<line x1="222.30" y1="461.60" x2="199.20" y2="433.40" stroke="#4a5680" stroke-width="0.45" stroke-opacity="0.75"/>
<line x1="222.30" y1="461.60" x2="216.00" y2="444.60" stroke="#4a5680" stroke-width="0.45" stroke-opacity="0.75"/>
<line x1="222.30" y1="461.60" x2="214.80" y2="431.90" stroke="#4a5680" stroke-width="0.45" stroke-opacity="0.75"/>
<line x1="222.30" y1="461.60" x2="220.60" y2="446.00" stroke="#4a5680" stroke-width="0.45" stroke-opacity="0.75"/>
<line x1="222.30" y1="461.60" x2="200.40" y2="442.60" stroke="#4a5680" stroke-width="0.45" stroke-opacity="0.75"/>
<line x1="222.30" y1="461.60" x2="202.10" y2="451.20" stroke="#4a5680" stroke-width="0.45" stroke-opacity="0.75"/>
<line x1="222.30" y1="461.60" x2="226.90" y2="453.80" stroke="#4a5680" stroke-width="0.45" stroke-opacity="0.75"/>
<line x1="222.30" y1="461.60" x2="219.80" y2="432.30" stroke="#4a5680" stroke-width="0.45" stroke-opacity="0.75"/>
<line x1="222.30" y1="461.60" x2="205.30" y2="423.50" stroke="#4a5680" stroke-width="0.45" stroke-opacity="0.75"/>
<line x1="222.30" y1="461.60" x2="180.80" y2="468.80" stroke="#8f97b1" stroke-width="0.45" stroke-opacity="0.7"/>
<line x1="222.30" y1="461.60" x2="187.50" y2="471.70" stroke="#8f97b1" stroke-width="0.45" stroke-opacity="0.7"/>
<line x1="222.30" y1="461.60" x2="177.90" y2="474.60" stroke="#8f97b1" stroke-width="0.45" stroke-opacity="0.7"/>
<line x1="222.30" y1="461.60" x2="197.10" y2="476.50" stroke="#8f97b1" stroke-width="0.45" stroke-opacity="0.7"/>
<line x1="222.30" y1="461.60" x2="185.60" y2="485.20" stroke="#8f97b1" stroke-width="0.45" stroke-opacity="0.7"/>
<line x1="222.30" y1="461.60" x2="203.80" y2="485.20" stroke="#8f97b1" stroke-width="0.45" stroke-opacity="0.7"/>
<line x1="222.30" y1="461.60" x2="179.80" y2="492.90" stroke="#8f97b1" stroke-width="0.45" stroke-opacity="0.7"/>
<line x1="222.30" y1="461.60" x2="199.00" y2="495.80" stroke="#8f97b1" stroke-width="0.45" stroke-opacity="0.7"/>
<line x1="206.50" y1="436.00" x2="196.30" y2="427.30" stroke="#4a5680" stroke-width="0.45" stroke-opacity="0.6"/>
<line x1="206.50" y1="436.00" x2="199.20" y2="433.40" stroke="#4a5680" stroke-width="0.45" stroke-opacity="0.6"/>
<line x1="206.50" y1="436.00" x2="205.30" y2="423.50" stroke="#4a5680" stroke-width="0.45" stroke-opacity="0.6"/>
<line x1="206.50" y1="436.00" x2="211.70" y2="438.00" stroke="#4a5680" stroke-width="0.45" stroke-opacity="0.6"/>
<line x1="206.50" y1="436.00" x2="180.80" y2="468.80" stroke="#626c8e" stroke-width="0.5" stroke-opacity="0.7"/>
<line x1="206.50" y1="436.00" x2="195.60" y2="464.60" stroke="#626c8e" stroke-width="0.5" stroke-opacity="0.7"/>
<line x1="206.50" y1="436.00" x2="194.20" y2="470.80" stroke="#626c8e" stroke-width="0.5" stroke-opacity="0.7"/>
<line x1="200.40" y1="442.60" x2="196.30" y2="427.30" stroke="#4a5680" stroke-width="0.45" stroke-opacity="0.6"/>
<line x1="200.40" y1="442.60" x2="199.20" y2="433.40" stroke="#4a5680" stroke-width="0.45" stroke-opacity="0.6"/>
<line x1="200.40" y1="442.60" x2="205.30" y2="423.50" stroke="#4a5680" stroke-width="0.45" stroke-opacity="0.6"/>
<line x1="200.40" y1="442.60" x2="211.70" y2="438.00" stroke="#4a5680" stroke-width="0.45" stroke-opacity="0.6"/>
<line x1="200.40" y1="442.60" x2="180.80" y2="468.80" stroke="#626c8e" stroke-width="0.5" stroke-opacity="0.7"/>
<line x1="200.40" y1="442.60" x2="195.60" y2="464.60" stroke="#626c8e" stroke-width="0.5" stroke-opacity="0.7"/>
<line x1="200.40" y1="442.60" x2="194.20" y2="470.80" stroke="#626c8e" stroke-width="0.5" stroke-opacity="0.7"/>
<line x1="202.10" y1="451.20" x2="196.30" y2="427.30" stroke="#4a5680" stroke-width="0.45" stroke-opacity="0.6"/>
<line x1="202.10" y1="451.20" x2="199.20" y2="433.40" stroke="#4a5680" stroke-width="0.45" stroke-opacity="0.6"/>
<line x1="202.10" y1="451.20" x2="205.30" y2="423.50" stroke="#4a5680" stroke-width="0.45" stroke-opacity="0.6"/>
<line x1="202.10" y1="451.20" x2="211.70" y2="438.00" stroke="#4a5680" stroke-width="0.45" stroke-opacity="0.6"/>
<line x1="202.10" y1="451.20" x2="180.80" y2="468.80" stroke="#626c8e" stroke-width="0.5" stroke-opacity="0.7"/>
<line x1="202.10" y1="451.20" x2="195.60" y2="464.60" stroke="#626c8e" stroke-width="0.5" stroke-opacity="0.7"/>
<line x1="202.10" y1="451.20" x2="194.20" y2="470.80" stroke="#626c8e" stroke-width="0.5" stroke-opacity="0.7"/>
<line x1="191.20" y1="448.90" x2="196.30" y2="427.30" stroke="#4a5680" stroke-width="0.45" stroke-opacity="0.6"/>
<line x1="191.20" y1="448.90" x2="199.20" y2="433.40" stroke="#4a5680" stroke-width="0.45" stroke-opacity="0.6"/>
<line x1="191.20" y1="448.90" x2="205.30" y2="423.50" stroke="#4a5680" stroke-width="0.45" stroke-opacity="0.6"/>
<line x1="191.20" y1="448.90" x2="211.70" y2="438.00" stroke="#4a5680" stroke-width="0.45" stroke-opacity="0.6"/>
<line x1="191.20" y1="448.90" x2="180.80" y2="468.80" stroke="#626c8e" stroke-width="0.5" stroke-opacity="0.7"/>
<line x1="191.20" y1="448.90" x2="195.60" y2="464.60" stroke="#626c8e" stroke-width="0.5" stroke-opacity="0.7"/>
<line x1="191.20" y1="448.90" x2="194.20" y2="470.80" stroke="#626c8e" stroke-width="0.5" stroke-opacity="0.7"/>
<line x1="245.70" y1="506.40" x2="258.90" y2="502.40" stroke="#34406a" stroke-width="0.6" stroke-opacity="0.85"/>
<line x1="245.70" y1="506.40" x2="262.20" y2="496.00" stroke="#34406a" stroke-width="0.6" stroke-opacity="0.85"/>
<line x1="245.70" y1="506.40" x2="256.10" y2="523.40" stroke="#34406a" stroke-width="0.6" stroke-opacity="0.85"/>
<line x1="245.20" y1="511.60" x2="256.10" y2="523.40" stroke="#34406a" stroke-width="0.6" stroke-opacity="0.85"/>
<line x1="245.70" y1="506.40" x2="262.50" y2="516.10" stroke="#34406a" stroke-width="0.6" stroke-opacity="0.85"/>
<line x1="247.50" y1="487.40" x2="251.60" y2="491.80" stroke="#34406a" stroke-width="0.6" stroke-opacity="0.85"/>
<line x1="247.50" y1="487.40" x2="243.90" y2="497.30" stroke="#34406a" stroke-width="0.6" stroke-opacity="0.85"/>
<line x1="251.60" y1="491.80" x2="262.20" y2="479.00" stroke="#34406a" stroke-width="0.6" stroke-opacity="0.85"/>
<line x1="251.60" y1="491.80" x2="243.90" y2="497.30" stroke="#34406a" stroke-width="0.6" stroke-opacity="0.85"/>
<line x1="243.90" y1="497.30" x2="231.10" y2="499.30" stroke="#34406a" stroke-width="0.6" stroke-opacity="0.85"/>
<line x1="243.90" y1="497.30" x2="262.20" y2="496.00" stroke="#34406a" stroke-width="0.6" stroke-opacity="0.85"/>
<line x1="251.60" y1="491.80" x2="258.90" y2="502.40" stroke="#34406a" stroke-width="0.6" stroke-opacity="0.85"/>
<line x1="247.50" y1="487.40" x2="245.70" y2="506.40" stroke="#34406a" stroke-width="0.6" stroke-opacity="0.85"/>
<line x1="221.80" y1="518.00" x2="240.60" y2="509.20" stroke="#34406a" stroke-width="0.6" stroke-opacity="0.85"/>
<line x1="221.80" y1="518.00" x2="241.00" y2="520.70" stroke="#34406a" stroke-width="0.6" stroke-opacity="0.85"/>
<line x1="221.80" y1="518.00" x2="237.90" y2="528.40" stroke="#34406a" stroke-width="0.6" stroke-opacity="0.85"/>
<line x1="221.80" y1="518.00" x2="225.60" y2="530.80" stroke="#34406a" stroke-width="0.6" stroke-opacity="0.85"/>
<line x1="237.90" y1="528.40" x2="247.90" y2="528.00" stroke="#34406a" stroke-width="0.6" stroke-opacity="0.85"/>
<line x1="247.90" y1="528.00" x2="263.40" y2="528.40" stroke="#34406a" stroke-width="0.6" stroke-opacity="0.85"/>
<line x1="237.90" y1="528.40" x2="256.10" y2="523.40" stroke="#34406a" stroke-width="0.6" stroke-opacity="0.85"/>
<line x1="237.90" y1="528.40" x2="233.80" y2="535.30" stroke="#34406a" stroke-width="0.6" stroke-opacity="0.85"/>
<line x1="237.90" y1="528.40" x2="247.50" y2="538.40" stroke="#34406a" stroke-width="0.6" stroke-opacity="0.85"/>
<line x1="233.80" y1="535.30" x2="237.30" y2="545.40" stroke="#34406a" stroke-width="0.6" stroke-opacity="0.85"/>
<line x1="233.80" y1="535.30" x2="225.60" y2="530.80" stroke="#34406a" stroke-width="0.6" stroke-opacity="0.85"/>
<line x1="263.40" y1="528.40" x2="256.10" y2="523.40" stroke="#34406a" stroke-width="0.6" stroke-opacity="0.85"/>
<line x1="262.50" y1="516.10" x2="263.40" y2="528.40" stroke="#34406a" stroke-width="0.6" stroke-opacity="0.85"/>
<line x1="241.00" y1="520.70" x2="247.90" y2="528.00" stroke="#34406a" stroke-width="0.6" stroke-opacity="0.85"/>
<line x1="241.00" y1="520.70" x2="237.90" y2="528.40" stroke="#34406a" stroke-width="0.6" stroke-opacity="0.85"/>
<line x1="241.00" y1="520.70" x2="245.20" y2="511.60" stroke="#34406a" stroke-width="0.6" stroke-opacity="0.85"/>
<line x1="241.00" y1="520.70" x2="256.10" y2="523.40" stroke="#34406a" stroke-width="0.6" stroke-opacity="0.85"/>
<line x1="247.90" y1="528.00" x2="247.50" y2="538.40" stroke="#34406a" stroke-width="0.6" stroke-opacity="0.85"/>
<line x1="247.90" y1="528.00" x2="256.70" y2="535.90" stroke="#34406a" stroke-width="0.6" stroke-opacity="0.85"/>
<line x1="247.90" y1="528.00" x2="259.40" y2="538.40" stroke="#34406a" stroke-width="0.6" stroke-opacity="0.85"/>
<line x1="247.90" y1="528.00" x2="253.90" y2="543.60" stroke="#34406a" stroke-width="0.6" stroke-opacity="0.85"/>
<line x1="256.10" y1="523.40" x2="262.50" y2="516.10" stroke="#34406a" stroke-width="0.6" stroke-opacity="0.85"/>
<line x1="256.10" y1="523.40" x2="256.70" y2="535.90" stroke="#34406a" stroke-width="0.6" stroke-opacity="0.85"/>
<line x1="237.30" y1="545.40" x2="234.70" y2="551.20" stroke="#34406a" stroke-width="0.6" stroke-opacity="0.85"/>
<line x1="247.50" y1="538.40" x2="237.30" y2="545.40" stroke="#34406a" stroke-width="0.6" stroke-opacity="0.85"/>
<line x1="245.70" y1="506.40" x2="240.60" y2="509.20" stroke="#34406a" stroke-width="0.6" stroke-opacity="0.85"/>
<line x1="245.70" y1="506.40" x2="245.20" y2="511.60" stroke="#34406a" stroke-width="0.6" stroke-opacity="0.85"/>
<line x1="240.60" y1="509.20" x2="245.20" y2="511.60" stroke="#34406a" stroke-width="0.6" stroke-opacity="0.85"/>
<line x1="245.70" y1="506.40" x2="241.00" y2="520.70" stroke="#34406a" stroke-width="0.6" stroke-opacity="0.85"/>
<line x1="245.70" y1="506.40" x2="247.90" y2="528.00" stroke="#34406a" stroke-width="0.6" stroke-opacity="0.85"/>
<line x1="258.90" y1="502.40" x2="264.40" y2="503.30" stroke="#34406a" stroke-width="0.6" stroke-opacity="0.85"/>
<line x1="262.20" y1="496.00" x2="258.90" y2="502.40" stroke="#34406a" stroke-width="0.6" stroke-opacity="0.85"/>
<line x1="251.60" y1="491.80" x2="245.70" y2="506.40" stroke="#34406a" stroke-width="0.6" stroke-opacity="0.85"/>
<line x1="243.90" y1="497.30" x2="245.70" y2="506.40" stroke="#34406a" stroke-width="0.6" stroke-opacity="0.85"/>
<line x1="262.50" y1="486.30" x2="251.60" y2="491.80" stroke="#34406a" stroke-width="0.6" stroke-opacity="0.85"/>
<line x1="240.60" y1="509.20" x2="241.00" y2="520.70" stroke="#34406a" stroke-width="0.6" stroke-opacity="0.85"/>
<line x1="245.20" y1="511.60" x2="247.90" y2="528.00" stroke="#34406a" stroke-width="0.6" stroke-opacity="0.85"/>
<line x1="245.70" y1="506.40" x2="263.40" y2="528.40" stroke="#34406a" stroke-width="0.6" stroke-opacity="0.85"/>
<line x1="251.60" y1="491.80" x2="262.20" y2="496.00" stroke="#34406a" stroke-width="0.6" stroke-opacity="0.85"/>
<line x1="263.40" y1="528.40" x2="282.10" y2="522.20" stroke="#3a4670" stroke-width="0.5" stroke-opacity="0.85"/>
<line x1="263.40" y1="528.40" x2="283.60" y2="529.30" stroke="#3a4670" stroke-width="0.5" stroke-opacity="0.85"/>
<line x1="263.40" y1="528.40" x2="281.20" y2="534.40" stroke="#3a4670" stroke-width="0.5" stroke-opacity="0.85"/>
<line x1="263.40" y1="528.40" x2="293.20" y2="529.30" stroke="#626c8e" stroke-width="0.45" stroke-opacity="0.8"/>
<line x1="283.00" y1="507.50" x2="282.10" y2="522.20" stroke="#aeb3c7" stroke-width="0.45" stroke-opacity="0.9"/>
<line x1="284.10" y1="497.90" x2="297.30" y2="495.10" stroke="#3a4670" stroke-width="0.5" stroke-opacity="0.85"/>
<line x1="262.50" y1="516.10" x2="276.60" y2="507.00" stroke="#aeb3c7" stroke-width="0.45" stroke-opacity="0.9"/>
<line x1="259.40" y1="538.40" x2="270.40" y2="553.20" stroke="#8f97b1" stroke-width="0.45" stroke-opacity="0.9"/>
<line x1="216.80" y1="534.40" x2="219.00" y2="544.10" stroke="#aeb3c7" stroke-width="0.45" stroke-opacity="0.9"/>
<line x1="216.80" y1="534.40" x2="225.60" y2="530.80" stroke="#8f97b1" stroke-width="0.45" stroke-opacity="0.9"/>
<line x1="240.80" y1="563.50" x2="234.70" y2="551.20" stroke="#c9ccd8" stroke-width="0.45" stroke-opacity="0.9"/>
<line x1="231.10" y1="499.30" x2="230.80" y2="499.60" stroke="#aeb3c7" stroke-width="0.45" stroke-opacity="0.9"/>
<line x1="271.70" y1="498.80" x2="262.20" y2="496.00" stroke="#8f97b1" stroke-width="0.45" stroke-opacity="0.9"/>
<line x1="221.80" y1="518.00" x2="222.10" y2="504.00" stroke="#aeb3c7" stroke-width="0.45" stroke-opacity="0.9"/>
<line x1="221.80" y1="518.00" x2="215.40" y2="499.60" stroke="#c9ccd8" stroke-width="0.45" stroke-opacity="0.9"/>
<line x1="228.50" y1="485.60" x2="247.50" y2="487.40" stroke="#aeb3c7" stroke-width="0.45" stroke-opacity="0.9"/>
<line x1="231.10" y1="499.30" x2="222.10" y2="504.00" stroke="#aeb3c7" stroke-width="0.45" stroke-opacity="0.9"/>
<line x1="231.10" y1="499.30" x2="215.40" y2="499.60" stroke="#aeb3c7" stroke-width="0.45" stroke-opacity="0.9"/>
<line x1="230.80" y1="499.60" x2="222.10" y2="504.00" stroke="#aeb3c7" stroke-width="0.45" stroke-opacity="0.9"/>
<line x1="140.80" y1="409.40" x2="142.20" y2="421.00" stroke="#626c8e" stroke-width="0.45" stroke-opacity="0.9"/>
<line x1="141.70" y1="409.40" x2="143.10" y2="421.00" stroke="#626c8e" stroke-width="0.45" stroke-opacity="0.9"/>
<line x1="149.40" y1="418.10" x2="160.30" y2="414.00" stroke="#626c8e" stroke-width="0.45" stroke-opacity="0.9"/>
<line x1="160.30" y1="414.00" x2="169.60" y2="407.00" stroke="#626c8e" stroke-width="0.45" stroke-opacity="0.9"/>
<line x1="178.75" y1="403.50" x2="180.70" y2="418.10" stroke="#c9ccd8" stroke-width="0.45" stroke-opacity="0.9"/>
<line x1="170.40" y1="426.00" x2="162.00" y2="432.75" stroke="#626c8e" stroke-width="0.45" stroke-opacity="0.9"/>
<line x1="193.25" y1="399.40" x2="196.30" y2="427.30" stroke="#c9ccd8" stroke-width="0.45" stroke-opacity="0.9"/>
<line x1="154.25" y1="449.50" x2="149.50" y2="469.50" stroke="#aeb3c7" stroke-width="0.45" stroke-opacity="0.9"/>
<line x1="126.00" y1="453.50" x2="149.50" y2="469.50" stroke="#626c8e" stroke-width="0.45" stroke-opacity="0.9"/>
<line x1="108.75" y1="463.00" x2="125.00" y2="469.50" stroke="#c9ccd8" stroke-width="0.45" stroke-opacity="0.9"/>
<line x1="142.75" y1="437.25" x2="154.25" y2="449.50" stroke="#c9ccd8" stroke-width="0.45" stroke-opacity="0.9"/>
<line x1="175.25" y1="440.50" x2="171.75" y2="446.25" stroke="#8f97b1" stroke-width="0.45" stroke-opacity="0.9"/>
<line x1="184.00" y1="434.75" x2="200.40" y2="442.60" stroke="#c9ccd8" stroke-width="0.45" stroke-opacity="0.9"/>
<line x1="189.80" y1="435.90" x2="206.50" y2="436.00" stroke="#aeb3c7" stroke-width="0.45" stroke-opacity="0.9"/>
<line x1="162.00" y1="432.75" x2="171.75" y2="446.25" stroke="#c9ccd8" stroke-width="0.45" stroke-opacity="0.9"/>
<line x1="154.25" y1="449.50" x2="164.25" y2="458.25" stroke="#aeb3c7" stroke-width="0.45" stroke-opacity="0.9"/>
<line x1="162.00" y1="432.75" x2="164.25" y2="458.25" stroke="#c9ccd8" stroke-width="0.45" stroke-opacity="0.9"/>
<line x1="184.00" y1="434.75" x2="187.00" y2="454.50" stroke="#c9ccd8" stroke-width="0.45" stroke-opacity="0.9"/>
<line x1="239.00" y1="385.75" x2="241.25" y2="402.50" stroke="#8f97b1" stroke-width="0.45" stroke-opacity="0.9"/>
<line x1="255.25" y1="393.25" x2="241.25" y2="402.50" stroke="#626c8e" stroke-width="0.45" stroke-opacity="0.9"/>
<line x1="241.25" y1="402.50" x2="233.30" y2="429.60" stroke="#8f97b1" stroke-width="0.45" stroke-opacity="0.9"/>
<line x1="266.25" y1="412.50" x2="257.00" y2="419.50" stroke="#626c8e" stroke-width="0.45" stroke-opacity="0.9"/>
<line x1="257.00" y1="419.50" x2="242.70" y2="423.80" stroke="#626c8e" stroke-width="0.45" stroke-opacity="0.9"/>
<line x1="275.75" y1="428.00" x2="263.25" y2="440.50" stroke="#8f97b1" stroke-width="0.45" stroke-opacity="0.9"/>
<line x1="257.50" y1="435.75" x2="263.25" y2="440.50" stroke="#8f97b1" stroke-width="0.45" stroke-opacity="0.9"/>
<line x1="263.25" y1="440.50" x2="232.30" y2="447.50" stroke="#c9ccd8" stroke-width="0.45" stroke-opacity="0.9"/>
<line x1="266.25" y1="455.00" x2="248.75" y2="465.00" stroke="#8f97b1" stroke-width="0.45" stroke-opacity="0.9"/>
<line x1="237.60" y1="456.40" x2="242.90" y2="462.50" stroke="#626c8e" stroke-width="0.45" stroke-opacity="0.9"/>
<line x1="242.90" y1="462.50" x2="248.75" y2="465.00" stroke="#626c8e" stroke-width="0.45" stroke-opacity="0.9"/>
<line x1="234.25" y1="467.50" x2="222.30" y2="461.60" stroke="#aeb3c7" stroke-width="0.45" stroke-opacity="0.9"/>
<line x1="263.25" y1="440.50" x2="222.30" y2="461.60" stroke="#c9ccd8" stroke-width="0.45" stroke-opacity="0.9"/>
<line x1="266.25" y1="455.00" x2="225.50" y2="471.25" stroke="#c9ccd8" stroke-width="0.45" stroke-opacity="0.9"/>
<line x1="237.60" y1="456.40" x2="226.90" y2="453.80" stroke="#8f97b1" stroke-width="0.45" stroke-opacity="0.9"/>
<line x1="248.75" y1="465.00" x2="222.30" y2="461.60" stroke="#c9ccd8" stroke-width="0.45" stroke-opacity="0.9"/>
<line x1="242.70" y1="423.80" x2="233.30" y2="429.60" stroke="#c9ccd8" stroke-width="0.45" stroke-opacity="0.9"/>
<line x1="112.30" y1="489.20" x2="137.30" y2="488.50" stroke="#8f97b1" stroke-width="0.45" stroke-opacity="0.9"/>
<line x1="125.40" y1="498.30" x2="138.80" y2="501.10" stroke="#27335c" stroke-width="0.6" stroke-opacity="0.9"/>
<line x1="125.40" y1="498.30" x2="137.30" y2="488.50" stroke="#27335c" stroke-width="0.6" stroke-opacity="0.9"/>
<line x1="125.40" y1="498.30" x2="139.10" y2="509.20" stroke="#27335c" stroke-width="0.6" stroke-opacity="0.9"/>
<line x1="125.40" y1="498.30" x2="148.10" y2="489.80" stroke="#3a4670" stroke-width="0.5" stroke-opacity="0.9"/>
<line x1="127.90" y1="523.60" x2="143.80" y2="519.60" stroke="#aeb3c7" stroke-width="0.45" stroke-opacity="0.9"/>
<line x1="127.90" y1="523.60" x2="116.90" y2="530.70" stroke="#626c8e" stroke-width="0.45" stroke-opacity="0.9"/>
<line x1="116.90" y1="530.70" x2="103.80" y2="539.20" stroke="#626c8e" stroke-width="0.45" stroke-opacity="0.9"/>
<line x1="103.80" y1="539.20" x2="90.80" y2="547.80" stroke="#8f97b1" stroke-width="0.45" stroke-opacity="0.9"/>
<line x1="140.50" y1="534.20" x2="143.80" y2="519.60" stroke="#626c8e" stroke-width="0.45" stroke-opacity="0.9"/>
<line x1="140.50" y1="534.20" x2="137.70" y2="545.00" stroke="#626c8e" stroke-width="0.45" stroke-opacity="0.9"/>
<line x1="137.70" y1="545.00" x2="152.00" y2="545.00" stroke="#626c8e" stroke-width="0.45" stroke-opacity="0.9"/>
<line x1="152.00" y1="545.00" x2="163.10" y2="520.20" stroke="#626c8e" stroke-width="0.45" stroke-opacity="0.9"/>
<line x1="185.70" y1="540.40" x2="192.40" y2="515.50" stroke="#626c8e" stroke-width="0.45" stroke-opacity="0.9"/>
<line x1="185.70" y1="540.40" x2="175.70" y2="520.40" stroke="#626c8e" stroke-width="0.45" stroke-opacity="0.9"/>
<line x1="185.70" y1="540.40" x2="175.30" y2="554.70" stroke="#8f97b1" stroke-width="0.45" stroke-opacity="0.9"/>
<line x1="185.70" y1="540.40" x2="182.20" y2="558.40" stroke="#8f97b1" stroke-width="0.45" stroke-opacity="0.9"/>
<line x1="185.70" y1="540.40" x2="187.80" y2="558.20" stroke="#8f97b1" stroke-width="0.45" stroke-opacity="0.9"/>
<line x1="196.10" y1="543.20" x2="192.40" y2="515.50" stroke="#626c8e" stroke-width="0.45" stroke-opacity="0.9"/>
<line x1="192.40" y1="515.50" x2="168.60" y2="517.10" stroke="#3a4670" stroke-width="0.45" stroke-opacity="0.9"/>
<line x1="192.40" y1="515.50" x2="167.30" y2="497.30" stroke="#626c8e" stroke-width="0.45" stroke-opacity="0.9"/>
<line x1="192.40" y1="515.50" x2="165.00" y2="511.30" stroke="#626c8e" stroke-width="0.45" stroke-opacity="0.9"/>
<line x1="192.40" y1="515.50" x2="207.70" y2="490.40" stroke="#8f97b1" stroke-width="0.45" stroke-opacity="0.9"/>
<line x1="192.40" y1="515.50" x2="199.00" y2="495.80" stroke="#8f97b1" stroke-width="0.45" stroke-opacity="0.9"/>
<line x1="192.40" y1="515.50" x2="159.80" y2="502.90" stroke="#8f97b1" stroke-width="0.45" stroke-opacity="0.9"/>
<line x1="192.40" y1="515.50" x2="175.70" y2="520.40" stroke="#626c8e" stroke-width="0.45" stroke-opacity="0.9"/>
<line x1="199.60" y1="504.50" x2="199.00" y2="495.80" stroke="#8f97b1" stroke-width="0.45" stroke-opacity="0.9"/>
<line x1="199.60" y1="504.50" x2="167.30" y2="497.30" stroke="#aeb3c7" stroke-width="0.45" stroke-opacity="0.9"/>
<line x1="213.20" y1="513.80" x2="221.80" y2="518.00" stroke="#aeb3c7" stroke-width="0.45" stroke-opacity="0.9"/>
<line x1="213.20" y1="513.80" x2="199.60" y2="504.50" stroke="#aeb3c7" stroke-width="0.45" stroke-opacity="0.9"/>
<line x1="199.60" y1="504.50" x2="159.60" y2="493.40" stroke="#aeb3c7" stroke-width="0.45" stroke-opacity="0.9"/>
<line x1="212.00" y1="536.90" x2="212.00" y2="552.40" stroke="#8f97b1" stroke-width="0.45" stroke-opacity="0.9"/>
<line x1="212.00" y1="536.90" x2="216.80" y2="534.40" stroke="#8f97b1" stroke-width="0.45" stroke-opacity="0.9"/>
<line x1="212.00" y1="536.90" x2="219.00" y2="544.10" stroke="#c9ccd8" stroke-width="0.45" stroke-opacity="0.9"/>
<line x1="212.00" y1="536.90" x2="175.70" y2="520.40" stroke="#c9ccd8" stroke-width="0.45" stroke-opacity="0.9"/>
<line x1="125.00" y1="469.50" x2="142.30" y2="476.50" stroke="#626c8e" stroke-width="0.45" stroke-opacity="0.9"/>
<line x1="142.30" y1="476.50" x2="150.60" y2="478.70" stroke="#626c8e" stroke-width="0.45" stroke-opacity="0.9"/>
<line x1="149.50" y1="469.50" x2="150.60" y2="478.70" stroke="#626c8e" stroke-width="0.45" stroke-opacity="0.9"/>
<line x1="149.50" y1="469.50" x2="180.80" y2="468.80" stroke="#8f97b1" stroke-width="0.45" stroke-opacity="0.9"/>
<line x1="170.80" y1="476.20" x2="155.20" y2="485.30" stroke="#8f97b1" stroke-width="0.45" stroke-opacity="0.9"/>
<line x1="149.50" y1="469.50" x2="164.25" y2="458.25" stroke="#626c8e" stroke-width="0.45" stroke-opacity="0.9"/>
<line x1="149.50" y1="469.50" x2="170.50" y2="461.25" stroke="#626c8e" stroke-width="0.45" stroke-opacity="0.9"/>
<line x1="171.75" y1="446.25" x2="170.50" y2="461.25" stroke="#626c8e" stroke-width="0.45" stroke-opacity="0.9"/>
<line x1="164.25" y1="458.25" x2="170.50" y2="461.25" stroke="#626c8e" stroke-width="0.45" stroke-opacity="0.9"/>
<line x1="170.50" y1="461.25" x2="175.25" y2="459.50" stroke="#626c8e" stroke-width="0.45" stroke-opacity="0.9"/>
<line x1="149.50" y1="469.50" x2="177.90" y2="474.60" stroke="#8f97b1" stroke-width="0.45" stroke-opacity="0.9"/>
</g>
<circle cx="140.80" cy="409.40" r="2.55" fill="url(#gy)"/>
<circle cx="142.20" cy="421.00" r="2.55" fill="url(#gy)"/>
<circle cx="149.40" cy="418.10" r="2.55" fill="url(#gy)"/>
<circle cx="160.30" cy="414.00" r="2.55" fill="url(#gy)"/>
<circle cx="169.60" cy="407.00" r="2.55" fill="url(#gy)"/>
<circle cx="178.75" cy="403.50" r="2.55" fill="url(#gy)"/>
<circle cx="193.25" cy="399.40" r="2.55" fill="url(#gy)"/>
<circle cx="180.70" cy="418.10" r="2.55" fill="url(#gy)"/>
<circle cx="170.40" cy="426.00" r="2.55" fill="url(#gy)"/>
<circle cx="162.00" cy="432.75" r="2.55" fill="url(#gy)"/>
<circle cx="142.75" cy="437.25" r="2.55" fill="url(#gy)"/>
<circle cx="175.25" cy="440.50" r="2.55" fill="url(#gy)"/>
<circle cx="184.00" cy="434.75" r="2.55" fill="url(#gy)"/>
<circle cx="189.80" cy="435.90" r="2.55" fill="url(#gy)"/>
<circle cx="154.25" cy="449.50" r="2.55" fill="url(#gy)"/>
<circle cx="126.00" cy="453.50" r="2.55" fill="url(#gy)"/>
<circle cx="108.75" cy="463.00" r="2.55" fill="url(#gy)"/>
<circle cx="239.00" cy="385.75" r="2.55" fill="url(#gc)"/>
<circle cx="255.25" cy="393.25" r="2.55" fill="url(#gc)"/>
<circle cx="241.25" cy="402.50" r="2.55" fill="url(#gc)"/>
<circle cx="266.25" cy="412.50" r="2.55" fill="url(#gc)"/>
<circle cx="257.00" cy="419.50" r="2.55" fill="url(#gc)"/>
<circle cx="242.70" cy="423.80" r="2.55" fill="url(#gc)"/>
<circle cx="275.75" cy="428.00" r="2.55" fill="url(#gc)"/>
<circle cx="257.50" cy="435.75" r="2.55" fill="url(#gc)"/>
<circle cx="263.25" cy="440.50" r="2.55" fill="url(#gc)"/>
<circle cx="266.25" cy="455.00" r="2.55" fill="url(#gc)"/>
<circle cx="237.60" cy="456.40" r="2.55" fill="url(#gc)"/>
<circle cx="242.90" cy="462.50" r="2.55" fill="url(#gc)"/>
<circle cx="248.75" cy="465.00" r="2.55" fill="url(#gc)"/>
<circle cx="234.25" cy="467.50" r="2.55" fill="url(#gc)"/>
<circle cx="196.30" cy="427.30" r="2.55" fill="url(#gc)"/>
<circle cx="205.30" cy="423.50" r="2.55" fill="url(#gc)"/>
<circle cx="220.20" cy="418.10" r="2.55" fill="url(#gc)"/>
<circle cx="228.90" cy="421.90" r="2.55" fill="url(#gc)"/>
<circle cx="233.30" cy="429.60" r="2.55" fill="url(#gc)"/>
<circle cx="199.20" cy="433.40" r="2.55" fill="url(#gc)"/>
<circle cx="214.80" cy="431.90" r="2.55" fill="url(#gc)"/>
<circle cx="219.80" cy="432.30" r="2.55" fill="url(#gc)"/>
<circle cx="226.70" cy="432.70" r="2.55" fill="url(#gc)"/>
<circle cx="229.80" cy="431.60" r="2.55" fill="url(#gc)"/>
<circle cx="232.40" cy="438.00" r="2.55" fill="url(#gc)"/>
<circle cx="237.50" cy="441.10" r="2.55" fill="url(#gc)"/>
<circle cx="211.70" cy="438.00" r="2.55" fill="url(#gc)"/>
<circle cx="216.00" cy="444.60" r="2.55" fill="url(#gc)"/>
<circle cx="220.60" cy="446.00" r="2.55" fill="url(#gc)"/>
<circle cx="232.30" cy="447.50" r="2.55" fill="url(#gc)"/>
<circle cx="226.90" cy="453.80" r="2.55" fill="url(#gc)"/>
<circle cx="125.00" cy="469.50" r="2.55" fill="url(#gb)"/>
<circle cx="149.50" cy="469.50" r="2.55" fill="url(#gb)"/>
<circle cx="164.25" cy="458.25" r="2.55" fill="url(#gb)"/>
<circle cx="170.50" cy="461.25" r="2.55" fill="url(#gb)"/>
<circle cx="175.25" cy="459.50" r="2.55" fill="url(#gb)"/>
<circle cx="171.75" cy="446.25" r="2.55" fill="url(#gb)"/>
<circle cx="187.00" cy="454.50" r="2.55" fill="url(#gb)"/>
<circle cx="191.20" cy="448.90" r="2.55" fill="url(#gb)"/>
<circle cx="200.40" cy="442.60" r="2.55" fill="url(#gb)"/>
<circle cx="202.10" cy="451.20" r="2.55" fill="url(#gb)"/>
<circle cx="206.50" cy="436.00" r="2.55" fill="url(#gb)"/>
<circle cx="222.30" cy="461.60" r="2.55" fill="url(#gb)"/>
<circle cx="225.50" cy="471.25" r="2.55" fill="url(#gb)"/>
<circle cx="221.25" cy="472.50" r="2.55" fill="url(#gb)"/>
<circle cx="230.40" cy="477.90" r="2.55" fill="url(#gb)"/>
<circle cx="215.40" cy="480.00" r="2.55" fill="url(#gb)"/>
<circle cx="228.50" cy="485.60" r="2.55" fill="url(#gb)"/>
<circle cx="211.50" cy="485.60" r="2.55" fill="url(#gb)"/>
<circle cx="215.40" cy="499.60" r="2.55" fill="url(#gb)"/>
<circle cx="222.10" cy="504.00" r="2.55" fill="url(#gb)"/>
<circle cx="170.80" cy="476.20" r="2.55" fill="url(#gb)"/>
<circle cx="142.30" cy="476.50" r="2.55" fill="url(#gb)"/>
<circle cx="208.00" cy="490.30" r="2.55" fill="url(#gb)"/>
<circle cx="180.80" cy="468.80" r="2.55" fill="url(#gb)"/>
<circle cx="189.40" cy="465.40" r="2.55" fill="url(#gb)"/>
<circle cx="195.60" cy="464.60" r="2.55" fill="url(#gb)"/>
<circle cx="187.50" cy="471.70" r="2.55" fill="url(#gb)"/>
<circle cx="194.20" cy="470.80" r="2.55" fill="url(#gb)"/>
<circle cx="202.30" cy="471.70" r="2.55" fill="url(#gb)"/>
<circle cx="177.90" cy="474.60" r="2.55" fill="url(#gb)"/>
<circle cx="180.80" cy="478.50" r="2.55" fill="url(#gb)"/>
<circle cx="190.40" cy="477.50" r="2.55" fill="url(#gb)"/>
<circle cx="197.10" cy="476.50" r="2.55" fill="url(#gb)"/>
<circle cx="202.90" cy="477.50" r="2.55" fill="url(#gb)"/>
<circle cx="177.90" cy="484.20" r="2.55" fill="url(#gb)"/>
<circle cx="185.60" cy="485.20" r="2.55" fill="url(#gb)"/>
<circle cx="191.30" cy="486.20" r="2.55" fill="url(#gb)"/>
<circle cx="197.10" cy="486.20" r="2.55" fill="url(#gb)"/>
<circle cx="203.80" cy="485.20" r="2.55" fill="url(#gb)"/>
<circle cx="207.70" cy="485.20" r="2.55" fill="url(#gb)"/>
<circle cx="182.70" cy="490.00" r="2.55" fill="url(#gb)"/>
<circle cx="179.80" cy="492.90" r="2.55" fill="url(#gb)"/>
<circle cx="186.50" cy="494.80" r="2.55" fill="url(#gb)"/>
<circle cx="192.30" cy="494.80" r="2.55" fill="url(#gb)"/>
<circle cx="199.00" cy="495.80" r="2.55" fill="url(#gb)"/>
<circle cx="207.70" cy="490.40" r="2.55" fill="url(#gb)"/>
<circle cx="150.60" cy="478.70" r="2.55" fill="url(#gg)"/>
<circle cx="155.20" cy="485.30" r="2.55" fill="url(#gg)"/>
<circle cx="137.30" cy="488.50" r="2.55" fill="url(#gg)"/>
<circle cx="148.10" cy="489.80" r="2.55" fill="url(#gg)"/>
<circle cx="150.10" cy="495.10" r="2.55" fill="url(#gg)"/>
<circle cx="159.60" cy="493.40" r="2.55" fill="url(#gg)"/>
<circle cx="167.30" cy="497.30" r="2.55" fill="url(#gg)"/>
<circle cx="138.80" cy="501.10" r="2.55" fill="url(#gg)"/>
<circle cx="159.80" cy="502.90" r="2.55" fill="url(#gg)"/>
<circle cx="139.10" cy="509.20" r="2.55" fill="url(#gg)"/>
<circle cx="147.70" cy="507.80" r="2.55" fill="url(#gg)"/>
<circle cx="154.60" cy="510.10" r="2.55" fill="url(#gg)"/>
<circle cx="165.00" cy="511.30" r="2.55" fill="url(#gg)"/>
<circle cx="143.80" cy="519.60" r="2.55" fill="url(#gg)"/>
<circle cx="153.50" cy="517.10" r="2.55" fill="url(#gg)"/>
<circle cx="163.10" cy="520.20" r="2.55" fill="url(#gg)"/>
<circle cx="168.60" cy="517.10" r="2.55" fill="url(#gg)"/>
<circle cx="175.70" cy="520.40" r="2.55" fill="url(#gg)"/>
<circle cx="112.30" cy="489.20" r="2.55" fill="url(#gg)"/>
<circle cx="125.40" cy="498.30" r="2.55" fill="url(#gg)"/>
<circle cx="192.40" cy="515.50" r="2.55" fill="url(#gg)"/>
<circle cx="199.60" cy="504.50" r="2.55" fill="url(#gg)"/>
<circle cx="127.90" cy="523.60" r="2.55" fill="url(#gg)"/>
<circle cx="116.90" cy="530.70" r="2.55" fill="url(#gg)"/>
<circle cx="103.80" cy="539.20" r="2.55" fill="url(#gg)"/>
<circle cx="90.80" cy="547.80" r="2.55" fill="url(#gg)"/>
<circle cx="140.50" cy="534.20" r="2.55" fill="url(#gg)"/>
<circle cx="137.70" cy="545.00" r="2.55" fill="url(#gg)"/>
<circle cx="152.00" cy="545.00" r="2.55" fill="url(#gg)"/>
<circle cx="185.70" cy="540.40" r="2.55" fill="url(#gg)"/>
<circle cx="196.10" cy="543.20" r="2.55" fill="url(#gg)"/>
<circle cx="175.30" cy="554.70" r="2.55" fill="url(#gg)"/>
<circle cx="182.20" cy="558.40" r="2.55" fill="url(#gg)"/>
<circle cx="187.80" cy="558.20" r="2.55" fill="url(#gg)"/>
<circle cx="213.20" cy="513.80" r="2.55" fill="url(#gg)"/>
<circle cx="212.00" cy="536.90" r="2.55" fill="url(#gg)"/>
<circle cx="212.00" cy="552.40" r="2.55" fill="url(#gg)"/>
<circle cx="262.20" cy="479.00" r="2.55" fill="url(#gr)"/>
<circle cx="262.50" cy="486.30" r="2.55" fill="url(#gr)"/>
<circle cx="247.50" cy="487.40" r="2.55" fill="url(#gr)"/>
<circle cx="251.60" cy="491.80" r="2.55" fill="url(#gr)"/>
<circle cx="243.90" cy="497.30" r="2.55" fill="url(#gr)"/>
<circle cx="262.20" cy="496.00" r="2.55" fill="url(#gr)"/>
<circle cx="231.10" cy="499.30" r="2.55" fill="url(#gr)"/>
<circle cx="258.90" cy="502.40" r="2.55" fill="url(#gr)"/>
<circle cx="264.40" cy="503.30" r="2.55" fill="url(#gr)"/>
<circle cx="245.70" cy="506.40" r="2.55" fill="url(#gr)"/>
<circle cx="240.60" cy="509.20" r="2.55" fill="url(#gr)"/>
<circle cx="245.20" cy="511.60" r="2.55" fill="url(#gr)"/>
<circle cx="221.80" cy="518.00" r="2.55" fill="url(#gr)"/>
<circle cx="262.50" cy="516.10" r="2.55" fill="url(#gr)"/>
<circle cx="241.00" cy="520.70" r="2.55" fill="url(#gr)"/>
<circle cx="256.10" cy="523.40" r="2.55" fill="url(#gr)"/>
<circle cx="237.90" cy="528.40" r="2.55" fill="url(#gr)"/>
<circle cx="247.90" cy="528.00" r="2.55" fill="url(#gr)"/>
<circle cx="263.40" cy="528.40" r="2.55" fill="url(#gr)"/>
<circle cx="225.60" cy="530.80" r="2.55" fill="url(#gr)"/>
<circle cx="216.80" cy="534.40" r="2.55" fill="url(#gr)"/>
<circle cx="233.80" cy="535.30" r="2.55" fill="url(#gr)"/>
<circle cx="247.50" cy="538.40" r="2.55" fill="url(#gr)"/>
<circle cx="256.70" cy="535.90" r="2.55" fill="url(#gr)"/>
<circle cx="259.40" cy="538.40" r="2.55" fill="url(#gr)"/>
<circle cx="253.90" cy="543.60" r="2.55" fill="url(#gr)"/>
<circle cx="219.00" cy="544.10" r="2.55" fill="url(#gr)"/>
<circle cx="237.30" cy="545.40" r="2.55" fill="url(#gr)"/>
<circle cx="234.70" cy="551.20" r="2.55" fill="url(#gr)"/>
<circle cx="270.40" cy="553.20" r="2.55" fill="url(#gr)"/>
<circle cx="240.80" cy="563.50" r="2.55" fill="url(#gr)"/>
<circle cx="230.80" cy="499.60" r="2.55" fill="url(#gr)"/>
<circle cx="271.70" cy="498.80" r="2.55" fill="url(#gr)"/>
<circle cx="284.10" cy="497.90" r="2.55" fill="url(#gr)"/>
<circle cx="297.30" cy="495.10" r="2.55" fill="url(#gr)"/>
<circle cx="276.60" cy="507.00" r="2.55" fill="url(#gr)"/>
<circle cx="283.00" cy="507.50" r="2.55" fill="url(#gr)"/>
<circle cx="282.10" cy="522.20" r="2.55" fill="url(#gr)"/>
<circle cx="283.60" cy="529.30" r="2.55" fill="url(#gr)"/>
<circle cx="281.20" cy="534.40" r="2.55" fill="url(#gr)"/>
<circle cx="293.20" cy="529.30" r="2.55" fill="url(#gr)"/>
<circle cx="304.60" cy="533.50" r="2.55" fill="url(#gr)"/>
<rect x="137.00" y="403.40" width="1.4" height="3.6" fill="#fff" opacity="0.6"/>
<rect x="137.35" y="403.70" width="0.7" height="3.0" fill="#66665f" opacity="0.7"/>
<rect x="138.40" y="415.00" width="1.4" height="3.6" fill="#fff" opacity="0.6"/>
<rect x="138.75" y="415.30" width="0.7" height="3.0" fill="#66665f" opacity="0.7"/>
<rect x="145.60" y="409.30" width="1.4" height="6.3999999999999995" fill="#fff" opacity="0.6"/>
<rect x="145.95" y="409.60" width="0.7" height="5.8" fill="#66665f" opacity="0.7"/>
<rect x="156.50" y="408.00" width="1.4" height="3.6" fill="#fff" opacity="0.6"/>
<rect x="156.85" y="408.30" width="0.7" height="3.0" fill="#66665f" opacity="0.7"/>
<rect x="165.80" y="401.00" width="1.4" height="3.6" fill="#fff" opacity="0.6"/>
<rect x="166.15" y="401.30" width="0.7" height="3.0" fill="#66665f" opacity="0.7"/>
<rect x="174.95" y="394.70" width="1.4" height="6.3999999999999995" fill="#fff" opacity="0.6"/>
<rect x="175.30" y="395.00" width="0.7" height="5.8" fill="#66665f" opacity="0.7"/>
<rect x="189.45" y="390.60" width="1.4" height="6.3999999999999995" fill="#fff" opacity="0.6"/>
<rect x="189.80" y="390.90" width="0.7" height="5.8" fill="#66665f" opacity="0.7"/>
<rect x="176.90" y="409.30" width="1.4" height="6.3999999999999995" fill="#fff" opacity="0.6"/>
<rect x="177.25" y="409.60" width="0.7" height="5.8" fill="#66665f" opacity="0.7"/>
<rect x="166.60" y="420.00" width="1.4" height="3.6" fill="#fff" opacity="0.6"/>
<rect x="166.95" y="420.30" width="0.7" height="3.0" fill="#66665f" opacity="0.7"/>
<rect x="158.20" y="426.75" width="1.4" height="3.6" fill="#fff" opacity="0.6"/>
<rect x="158.55" y="427.05" width="0.7" height="3.0" fill="#66665f" opacity="0.7"/>
<rect x="138.95" y="431.25" width="1.4" height="3.6" fill="#fff" opacity="0.6"/>
<rect x="139.30" y="431.55" width="0.7" height="3.0" fill="#66665f" opacity="0.7"/>
<rect x="171.45" y="431.70" width="1.4" height="6.3999999999999995" fill="#fff" opacity="0.6"/>
<rect x="171.80" y="432.00" width="0.7" height="5.8" fill="#66665f" opacity="0.7"/>
<rect x="180.20" y="428.75" width="1.4" height="3.6" fill="#fff" opacity="0.6"/>
<rect x="180.55" y="429.05" width="0.7" height="3.0" fill="#66665f" opacity="0.7"/>
<rect x="186.00" y="429.90" width="1.4" height="3.6" fill="#fff" opacity="0.6"/>
<rect x="186.35" y="430.20" width="0.7" height="3.0" fill="#66665f" opacity="0.7"/>
<rect x="150.45" y="443.50" width="1.4" height="3.6" fill="#fff" opacity="0.6"/>
<rect x="150.80" y="443.80" width="0.7" height="3.0" fill="#66665f" opacity="0.7"/>
<rect x="122.20" y="447.50" width="1.4" height="3.6" fill="#fff" opacity="0.6"/>
<rect x="122.55" y="447.80" width="0.7" height="3.0" fill="#66665f" opacity="0.7"/>
<rect x="104.95" y="457.00" width="1.4" height="3.6" fill="#fff" opacity="0.6"/>
<rect x="105.30" y="457.30" width="0.7" height="3.0" fill="#66665f" opacity="0.7"/>
<rect x="235.20" y="379.75" width="1.4" height="3.6" fill="#fff" opacity="0.6"/>
<rect x="235.55" y="380.05" width="0.7" height="3.0" fill="#66665f" opacity="0.7"/>
<rect x="251.45" y="384.45" width="1.4" height="6.3999999999999995" fill="#fff" opacity="0.6"/>
<rect x="251.80" y="384.75" width="0.7" height="5.8" fill="#66665f" opacity="0.7"/>
<rect x="237.45" y="396.50" width="1.4" height="3.6" fill="#fff" opacity="0.6"/>
<rect x="237.80" y="396.80" width="0.7" height="3.0" fill="#66665f" opacity="0.7"/>
<rect x="262.45" y="406.50" width="1.4" height="3.6" fill="#fff" opacity="0.6"/>
<rect x="262.80" y="406.80" width="0.7" height="3.0" fill="#66665f" opacity="0.7"/>
<rect x="253.20" y="413.50" width="1.4" height="3.6" fill="#fff" opacity="0.6"/>
<rect x="253.55" y="413.80" width="0.7" height="3.0" fill="#66665f" opacity="0.7"/>
<rect x="238.90" y="417.80" width="1.4" height="3.6" fill="#fff" opacity="0.6"/>
<rect x="239.25" y="418.10" width="0.7" height="3.0" fill="#66665f" opacity="0.7"/>
<rect x="271.95" y="422.00" width="1.4" height="3.6" fill="#fff" opacity="0.6"/>
<rect x="272.30" y="422.30" width="0.7" height="3.0" fill="#66665f" opacity="0.7"/>
<rect x="253.70" y="426.95" width="1.4" height="6.3999999999999995" fill="#fff" opacity="0.6"/>
<rect x="254.05" y="427.25" width="0.7" height="5.8" fill="#66665f" opacity="0.7"/>
<rect x="259.45" y="434.50" width="1.4" height="3.6" fill="#fff" opacity="0.6"/>
<rect x="259.80" y="434.80" width="0.7" height="3.0" fill="#66665f" opacity="0.7"/>
<rect x="262.45" y="449.00" width="1.4" height="3.6" fill="#fff" opacity="0.6"/>
<rect x="262.80" y="449.30" width="0.7" height="3.0" fill="#66665f" opacity="0.7"/>
<rect x="233.80" y="450.40" width="1.4" height="3.6" fill="#fff" opacity="0.6"/>
<rect x="234.15" y="450.70" width="0.7" height="3.0" fill="#66665f" opacity="0.7"/>
<rect x="239.10" y="456.50" width="1.4" height="3.6" fill="#fff" opacity="0.6"/>
<rect x="239.45" y="456.80" width="0.7" height="3.0" fill="#66665f" opacity="0.7"/>
<rect x="244.95" y="459.00" width="1.4" height="3.6" fill="#fff" opacity="0.6"/>
<rect x="245.30" y="459.30" width="0.7" height="3.0" fill="#66665f" opacity="0.7"/>
<rect x="230.45" y="461.50" width="1.4" height="3.6" fill="#fff" opacity="0.6"/>
<rect x="230.80" y="461.80" width="0.7" height="3.0" fill="#66665f" opacity="0.7"/>
<rect x="192.50" y="421.30" width="1.4" height="3.6" fill="#fff" opacity="0.6"/>
<rect x="192.85" y="421.60" width="0.7" height="3.0" fill="#66665f" opacity="0.7"/>
<rect x="201.50" y="417.50" width="1.4" height="3.6" fill="#fff" opacity="0.6"/>
<rect x="201.85" y="417.80" width="0.7" height="3.0" fill="#66665f" opacity="0.7"/>
<rect x="216.40" y="412.10" width="1.4" height="3.6" fill="#fff" opacity="0.6"/>
<rect x="216.75" y="412.40" width="0.7" height="3.0" fill="#66665f" opacity="0.7"/>
<rect x="225.10" y="415.90" width="1.4" height="3.6" fill="#fff" opacity="0.6"/>
<rect x="225.45" y="416.20" width="0.7" height="3.0" fill="#66665f" opacity="0.7"/>
<rect x="229.50" y="423.60" width="1.4" height="3.6" fill="#fff" opacity="0.6"/>
<rect x="229.85" y="423.90" width="0.7" height="3.0" fill="#66665f" opacity="0.7"/>
<rect x="195.40" y="424.60" width="1.4" height="6.3999999999999995" fill="#fff" opacity="0.6"/>
<rect x="195.75" y="424.90" width="0.7" height="5.8" fill="#66665f" opacity="0.7"/>
<rect x="211.00" y="425.90" width="1.4" height="3.6" fill="#fff" opacity="0.6"/>
<rect x="211.35" y="426.20" width="0.7" height="3.0" fill="#66665f" opacity="0.7"/>
<rect x="216.00" y="423.50" width="1.4" height="6.3999999999999995" fill="#fff" opacity="0.6"/>
<rect x="216.35" y="423.80" width="0.7" height="5.8" fill="#66665f" opacity="0.7"/>
<rect x="222.90" y="426.70" width="1.4" height="3.6" fill="#fff" opacity="0.6"/>
<rect x="223.25" y="427.00" width="0.7" height="3.0" fill="#66665f" opacity="0.7"/>
<rect x="226.00" y="425.60" width="1.4" height="3.6" fill="#fff" opacity="0.6"/>
<rect x="226.35" y="425.90" width="0.7" height="3.0" fill="#66665f" opacity="0.7"/>
<rect x="228.60" y="432.00" width="1.4" height="3.6" fill="#fff" opacity="0.6"/>
<rect x="228.95" y="432.30" width="0.7" height="3.0" fill="#66665f" opacity="0.7"/>
<rect x="233.70" y="435.10" width="1.4" height="3.6" fill="#fff" opacity="0.6"/>
<rect x="234.05" y="435.40" width="0.7" height="3.0" fill="#66665f" opacity="0.7"/>
<rect x="207.90" y="432.00" width="1.4" height="3.6" fill="#fff" opacity="0.6"/>
<rect x="208.25" y="432.30" width="0.7" height="3.0" fill="#66665f" opacity="0.7"/>
<rect x="212.20" y="435.80" width="1.4" height="6.3999999999999995" fill="#fff" opacity="0.6"/>
<rect x="212.55" y="436.10" width="0.7" height="5.8" fill="#66665f" opacity="0.7"/>
<rect x="216.80" y="437.20" width="1.4" height="6.3999999999999995" fill="#fff" opacity="0.6"/>
<rect x="217.15" y="437.50" width="0.7" height="5.8" fill="#66665f" opacity="0.7"/>
<rect x="228.50" y="441.50" width="1.4" height="3.6" fill="#fff" opacity="0.6"/>
<rect x="228.85" y="441.80" width="0.7" height="3.0" fill="#66665f" opacity="0.7"/>
<rect x="223.10" y="447.80" width="1.4" height="3.6" fill="#fff" opacity="0.6"/>
<rect x="223.45" y="448.10" width="0.7" height="3.0" fill="#66665f" opacity="0.7"/>
<rect x="121.20" y="463.50" width="1.4" height="3.6" fill="#fff" opacity="0.6"/>
<rect x="121.55" y="463.80" width="0.7" height="3.0" fill="#66665f" opacity="0.7"/>
<rect x="145.70" y="463.50" width="1.4" height="3.6" fill="#fff" opacity="0.6"/>
<rect x="146.05" y="463.80" width="0.7" height="3.0" fill="#66665f" opacity="0.7"/>
<rect x="160.45" y="452.25" width="1.4" height="3.6" fill="#fff" opacity="0.6"/>
<rect x="160.80" y="452.55" width="0.7" height="3.0" fill="#66665f" opacity="0.7"/>
<rect x="166.70" y="452.45" width="1.4" height="6.3999999999999995" fill="#fff" opacity="0.6"/>
<rect x="167.05" y="452.75" width="0.7" height="5.8" fill="#66665f" opacity="0.7"/>
<rect x="171.45" y="450.70" width="1.4" height="6.3999999999999995" fill="#fff" opacity="0.6"/>
<rect x="171.80" y="451.00" width="0.7" height="5.8" fill="#66665f" opacity="0.7"/>
<rect x="167.95" y="440.25" width="1.4" height="3.6" fill="#fff" opacity="0.6"/>
<rect x="168.30" y="440.55" width="0.7" height="3.0" fill="#66665f" opacity="0.7"/>
<rect x="183.20" y="448.50" width="1.4" height="3.6" fill="#fff" opacity="0.6"/>
<rect x="183.55" y="448.80" width="0.7" height="3.0" fill="#66665f" opacity="0.7"/>
<rect x="187.40" y="442.90" width="1.4" height="3.6" fill="#fff" opacity="0.6"/>
<rect x="187.75" y="443.20" width="0.7" height="3.0" fill="#66665f" opacity="0.7"/>
<rect x="196.60" y="436.60" width="1.4" height="3.6" fill="#fff" opacity="0.6"/>
<rect x="196.95" y="436.90" width="0.7" height="3.0" fill="#66665f" opacity="0.7"/>
<rect x="198.30" y="445.20" width="1.4" height="3.6" fill="#fff" opacity="0.6"/>
<rect x="198.65" y="445.50" width="0.7" height="3.0" fill="#66665f" opacity="0.7"/>
<rect x="202.70" y="430.00" width="1.4" height="3.6" fill="#fff" opacity="0.6"/>
<rect x="203.05" y="430.30" width="0.7" height="3.0" fill="#66665f" opacity="0.7"/>
<rect x="218.50" y="452.80" width="1.4" height="6.3999999999999995" fill="#fff" opacity="0.6"/>
<rect x="218.85" y="453.10" width="0.7" height="5.8" fill="#66665f" opacity="0.7"/>
<rect x="221.70" y="465.25" width="1.4" height="3.6" fill="#fff" opacity="0.6"/>
<rect x="222.05" y="465.55" width="0.7" height="3.0" fill="#66665f" opacity="0.7"/>
<rect x="217.45" y="466.50" width="1.4" height="3.6" fill="#fff" opacity="0.6"/>
<rect x="217.80" y="466.80" width="0.7" height="3.0" fill="#66665f" opacity="0.7"/>
<rect x="226.60" y="471.90" width="1.4" height="3.6" fill="#fff" opacity="0.6"/>
<rect x="226.95" y="472.20" width="0.7" height="3.0" fill="#66665f" opacity="0.7"/>
<rect x="211.60" y="471.20" width="1.4" height="6.3999999999999995" fill="#fff" opacity="0.6"/>
<rect x="211.95" y="471.50" width="0.7" height="5.8" fill="#66665f" opacity="0.7"/>
<rect x="224.70" y="476.80" width="1.4" height="6.3999999999999995" fill="#fff" opacity="0.6"/>
<rect x="225.05" y="477.10" width="0.7" height="5.8" fill="#66665f" opacity="0.7"/>
<rect x="207.70" y="476.80" width="1.4" height="6.3999999999999995" fill="#fff" opacity="0.6"/>
<rect x="208.05" y="477.10" width="0.7" height="5.8" fill="#66665f" opacity="0.7"/>
<rect x="211.60" y="490.80" width="1.4" height="6.3999999999999995" fill="#fff" opacity="0.6"/>
<rect x="211.95" y="491.10" width="0.7" height="5.8" fill="#66665f" opacity="0.7"/>
<rect x="218.30" y="498.00" width="1.4" height="3.6" fill="#fff" opacity="0.6"/>
<rect x="218.65" y="498.30" width="0.7" height="3.0" fill="#66665f" opacity="0.7"/>
<rect x="167.00" y="470.20" width="1.4" height="3.6" fill="#fff" opacity="0.6"/>
<rect x="167.35" y="470.50" width="0.7" height="3.0" fill="#66665f" opacity="0.7"/>
<rect x="138.50" y="470.50" width="1.4" height="3.6" fill="#fff" opacity="0.6"/>
<rect x="138.85" y="470.80" width="0.7" height="3.0" fill="#66665f" opacity="0.7"/>
<rect x="204.20" y="484.30" width="1.4" height="3.6" fill="#fff" opacity="0.6"/>
<rect x="204.55" y="484.60" width="0.7" height="3.0" fill="#66665f" opacity="0.7"/>
<rect x="177.00" y="460.00" width="1.4" height="6.3999999999999995" fill="#fff" opacity="0.6"/>
<rect x="177.35" y="460.30" width="0.7" height="5.8" fill="#66665f" opacity="0.7"/>
<rect x="185.60" y="459.40" width="1.4" height="3.6" fill="#fff" opacity="0.6"/>
<rect x="185.95" y="459.70" width="0.7" height="3.0" fill="#66665f" opacity="0.7"/>
<rect x="191.80" y="458.60" width="1.4" height="3.6" fill="#fff" opacity="0.6"/>
<rect x="192.15" y="458.90" width="0.7" height="3.0" fill="#66665f" opacity="0.7"/>
<rect x="183.70" y="465.70" width="1.4" height="3.6" fill="#fff" opacity="0.6"/>
<rect x="184.05" y="466.00" width="0.7" height="3.0" fill="#66665f" opacity="0.7"/>
<rect x="190.40" y="464.80" width="1.4" height="3.6" fill="#fff" opacity="0.6"/>
<rect x="190.75" y="465.10" width="0.7" height="3.0" fill="#66665f" opacity="0.7"/>
<rect x="198.50" y="465.70" width="1.4" height="3.6" fill="#fff" opacity="0.6"/>
<rect x="198.85" y="466.00" width="0.7" height="3.0" fill="#66665f" opacity="0.7"/>
<rect x="174.10" y="468.60" width="1.4" height="3.6" fill="#fff" opacity="0.6"/>
<rect x="174.45" y="468.90" width="0.7" height="3.0" fill="#66665f" opacity="0.7"/>
<rect x="177.00" y="472.50" width="1.4" height="3.6" fill="#fff" opacity="0.6"/>
<rect x="177.35" y="472.80" width="0.7" height="3.0" fill="#66665f" opacity="0.7"/>
<rect x="186.60" y="468.70" width="1.4" height="6.3999999999999995" fill="#fff" opacity="0.6"/>
<rect x="186.95" y="469.00" width="0.7" height="5.8" fill="#66665f" opacity="0.7"/>
<rect x="193.30" y="470.50" width="1.4" height="3.6" fill="#fff" opacity="0.6"/>
<rect x="193.65" y="470.80" width="0.7" height="3.0" fill="#66665f" opacity="0.7"/>
<rect x="199.10" y="471.50" width="1.4" height="3.6" fill="#fff" opacity="0.6"/>
<rect x="199.45" y="471.80" width="0.7" height="3.0" fill="#66665f" opacity="0.7"/>
<rect x="174.10" y="478.20" width="1.4" height="3.6" fill="#fff" opacity="0.6"/>
<rect x="174.45" y="478.50" width="0.7" height="3.0" fill="#66665f" opacity="0.7"/>
<rect x="181.80" y="476.40" width="1.4" height="6.3999999999999995" fill="#fff" opacity="0.6"/>
<rect x="182.15" y="476.70" width="0.7" height="5.8" fill="#66665f" opacity="0.7"/>
<rect x="187.50" y="480.20" width="1.4" height="3.6" fill="#fff" opacity="0.6"/>
<rect x="187.85" y="480.50" width="0.7" height="3.0" fill="#66665f" opacity="0.7"/>
<rect x="193.30" y="480.20" width="1.4" height="3.6" fill="#fff" opacity="0.6"/>
<rect x="193.65" y="480.50" width="0.7" height="3.0" fill="#66665f" opacity="0.7"/>
<rect x="200.00" y="479.20" width="1.4" height="3.6" fill="#fff" opacity="0.6"/>
<rect x="200.35" y="479.50" width="0.7" height="3.0" fill="#66665f" opacity="0.7"/>
<rect x="203.90" y="476.40" width="1.4" height="6.3999999999999995" fill="#fff" opacity="0.6"/>
<rect x="204.25" y="476.70" width="0.7" height="5.8" fill="#66665f" opacity="0.7"/>
<rect x="178.90" y="481.20" width="1.4" height="6.3999999999999995" fill="#fff" opacity="0.6"/>
<rect x="179.25" y="481.50" width="0.7" height="5.8" fill="#66665f" opacity="0.7"/>
<rect x="176.00" y="486.90" width="1.4" height="3.6" fill="#fff" opacity="0.6"/>
<rect x="176.35" y="487.20" width="0.7" height="3.0" fill="#66665f" opacity="0.7"/>
<rect x="182.70" y="486.00" width="1.4" height="6.3999999999999995" fill="#fff" opacity="0.6"/>
<rect x="183.05" y="486.30" width="0.7" height="5.8" fill="#66665f" opacity="0.7"/>
<rect x="188.50" y="486.00" width="1.4" height="6.3999999999999995" fill="#fff" opacity="0.6"/>
<rect x="188.85" y="486.30" width="0.7" height="5.8" fill="#66665f" opacity="0.7"/>
<rect x="195.20" y="489.80" width="1.4" height="3.6" fill="#fff" opacity="0.6"/>
<rect x="195.55" y="490.10" width="0.7" height="3.0" fill="#66665f" opacity="0.7"/>
<rect x="203.90" y="481.60" width="1.4" height="6.3999999999999995" fill="#fff" opacity="0.6"/>
<rect x="204.25" y="481.90" width="0.7" height="5.8" fill="#66665f" opacity="0.7"/>
<rect x="146.80" y="472.70" width="1.4" height="3.6" fill="#fff" opacity="0.6"/>
<rect x="147.15" y="473.00" width="0.7" height="3.0" fill="#66665f" opacity="0.7"/>
<rect x="151.40" y="476.50" width="1.4" height="6.3999999999999995" fill="#fff" opacity="0.6"/>
<rect x="151.75" y="476.80" width="0.7" height="5.8" fill="#66665f" opacity="0.7"/>
<rect x="133.50" y="482.50" width="1.4" height="3.6" fill="#fff" opacity="0.6"/>
<rect x="133.85" y="482.80" width="0.7" height="3.0" fill="#66665f" opacity="0.7"/>
<rect x="144.30" y="481.00" width="1.4" height="6.3999999999999995" fill="#fff" opacity="0.6"/>
<rect x="144.65" y="481.30" width="0.7" height="5.8" fill="#66665f" opacity="0.7"/>
<rect x="146.30" y="489.10" width="1.4" height="3.6" fill="#fff" opacity="0.6"/>
<rect x="146.65" y="489.40" width="0.7" height="3.0" fill="#66665f" opacity="0.7"/>
<rect x="155.80" y="487.40" width="1.4" height="3.6" fill="#fff" opacity="0.6"/>
<rect x="156.15" y="487.70" width="0.7" height="3.0" fill="#66665f" opacity="0.7"/>
<rect x="163.50" y="488.50" width="1.4" height="6.3999999999999995" fill="#fff" opacity="0.6"/>
<rect x="163.85" y="488.80" width="0.7" height="5.8" fill="#66665f" opacity="0.7"/>
<rect x="135.00" y="495.10" width="1.4" height="3.6" fill="#fff" opacity="0.6"/>
<rect x="135.35" y="495.40" width="0.7" height="3.0" fill="#66665f" opacity="0.7"/>
<rect x="156.00" y="496.90" width="1.4" height="3.6" fill="#fff" opacity="0.6"/>
<rect x="156.35" y="497.20" width="0.7" height="3.0" fill="#66665f" opacity="0.7"/>
<rect x="135.30" y="503.20" width="1.4" height="3.6" fill="#fff" opacity="0.6"/>
<rect x="135.65" y="503.50" width="0.7" height="3.0" fill="#66665f" opacity="0.7"/>
<rect x="143.90" y="501.80" width="1.4" height="3.6" fill="#fff" opacity="0.6"/>
<rect x="144.25" y="502.10" width="0.7" height="3.0" fill="#66665f" opacity="0.7"/>
<rect x="150.80" y="501.30" width="1.4" height="6.3999999999999995" fill="#fff" opacity="0.6"/>
<rect x="151.15" y="501.60" width="0.7" height="5.8" fill="#66665f" opacity="0.7"/>
<rect x="161.20" y="505.30" width="1.4" height="3.6" fill="#fff" opacity="0.6"/>
<rect x="161.55" y="505.60" width="0.7" height="3.0" fill="#66665f" opacity="0.7"/>
<rect x="140.00" y="513.60" width="1.4" height="3.6" fill="#fff" opacity="0.6"/>
<rect x="140.35" y="513.90" width="0.7" height="3.0" fill="#66665f" opacity="0.7"/>
<rect x="149.70" y="511.10" width="1.4" height="3.6" fill="#fff" opacity="0.6"/>
<rect x="150.05" y="511.40" width="0.7" height="3.0" fill="#66665f" opacity="0.7"/>
<rect x="159.30" y="511.40" width="1.4" height="6.3999999999999995" fill="#fff" opacity="0.6"/>
<rect x="159.65" y="511.70" width="0.7" height="5.8" fill="#66665f" opacity="0.7"/>
<rect x="164.80" y="511.10" width="1.4" height="3.6" fill="#fff" opacity="0.6"/>
<rect x="165.15" y="511.40" width="0.7" height="3.0" fill="#66665f" opacity="0.7"/>
<rect x="171.90" y="514.40" width="1.4" height="3.6" fill="#fff" opacity="0.6"/>
<rect x="172.25" y="514.70" width="0.7" height="3.0" fill="#66665f" opacity="0.7"/>
<rect x="108.50" y="483.20" width="1.4" height="3.6" fill="#fff" opacity="0.6"/>
<rect x="108.85" y="483.50" width="0.7" height="3.0" fill="#66665f" opacity="0.7"/>
<rect x="121.60" y="492.30" width="1.4" height="3.6" fill="#fff" opacity="0.6"/>
<rect x="121.95" y="492.60" width="0.7" height="3.0" fill="#66665f" opacity="0.7"/>
<rect x="188.60" y="509.50" width="1.4" height="3.6" fill="#fff" opacity="0.6"/>
<rect x="188.95" y="509.80" width="0.7" height="3.0" fill="#66665f" opacity="0.7"/>
<rect x="195.80" y="498.50" width="1.4" height="3.6" fill="#fff" opacity="0.6"/>
<rect x="196.15" y="498.80" width="0.7" height="3.0" fill="#66665f" opacity="0.7"/>
<rect x="124.10" y="517.60" width="1.4" height="3.6" fill="#fff" opacity="0.6"/>
<rect x="124.45" y="517.90" width="0.7" height="3.0" fill="#66665f" opacity="0.7"/>
<rect x="113.10" y="521.90" width="1.4" height="6.3999999999999995" fill="#fff" opacity="0.6"/>
<rect x="113.45" y="522.20" width="0.7" height="5.8" fill="#66665f" opacity="0.7"/>
<rect x="100.00" y="533.20" width="1.4" height="3.6" fill="#fff" opacity="0.6"/>
<rect x="100.35" y="533.50" width="0.7" height="3.0" fill="#66665f" opacity="0.7"/>
<rect x="87.00" y="541.80" width="1.4" height="3.6" fill="#fff" opacity="0.6"/>
<rect x="87.35" y="542.10" width="0.7" height="3.0" fill="#66665f" opacity="0.7"/>
<rect x="136.70" y="528.20" width="1.4" height="3.6" fill="#fff" opacity="0.6"/>
<rect x="137.05" y="528.50" width="0.7" height="3.0" fill="#66665f" opacity="0.7"/>
<rect x="133.90" y="539.00" width="1.4" height="3.6" fill="#fff" opacity="0.6"/>
<rect x="134.25" y="539.30" width="0.7" height="3.0" fill="#66665f" opacity="0.7"/>
<rect x="148.20" y="539.00" width="1.4" height="3.6" fill="#fff" opacity="0.6"/>
<rect x="148.55" y="539.30" width="0.7" height="3.0" fill="#66665f" opacity="0.7"/>
<rect x="181.90" y="531.60" width="1.4" height="6.3999999999999995" fill="#fff" opacity="0.6"/>
<rect x="182.25" y="531.90" width="0.7" height="5.8" fill="#66665f" opacity="0.7"/>
<rect x="192.30" y="537.20" width="1.4" height="3.6" fill="#fff" opacity="0.6"/>
<rect x="192.65" y="537.50" width="0.7" height="3.0" fill="#66665f" opacity="0.7"/>
<rect x="171.50" y="548.70" width="1.4" height="3.6" fill="#fff" opacity="0.6"/>
<rect x="171.85" y="549.00" width="0.7" height="3.0" fill="#66665f" opacity="0.7"/>
<rect x="178.40" y="552.40" width="1.4" height="3.6" fill="#fff" opacity="0.6"/>
<rect x="178.75" y="552.70" width="0.7" height="3.0" fill="#66665f" opacity="0.7"/>
<rect x="184.00" y="552.20" width="1.4" height="3.6" fill="#fff" opacity="0.6"/>
<rect x="184.35" y="552.50" width="0.7" height="3.0" fill="#66665f" opacity="0.7"/>
<rect x="209.40" y="507.80" width="1.4" height="3.6" fill="#fff" opacity="0.6"/>
<rect x="209.75" y="508.10" width="0.7" height="3.0" fill="#66665f" opacity="0.7"/>
<rect x="208.20" y="530.90" width="1.4" height="3.6" fill="#fff" opacity="0.6"/>
<rect x="208.55" y="531.20" width="0.7" height="3.0" fill="#66665f" opacity="0.7"/>
<rect x="208.20" y="543.60" width="1.4" height="6.3999999999999995" fill="#fff" opacity="0.6"/>
<rect x="208.55" y="543.90" width="0.7" height="5.8" fill="#66665f" opacity="0.7"/>
<rect x="258.40" y="473.00" width="1.4" height="3.6" fill="#fff" opacity="0.6"/>
<rect x="258.75" y="473.30" width="0.7" height="3.0" fill="#66665f" opacity="0.7"/>
<rect x="258.70" y="480.30" width="1.4" height="3.6" fill="#fff" opacity="0.6"/>
<rect x="259.05" y="480.60" width="0.7" height="3.0" fill="#66665f" opacity="0.7"/>
<rect x="243.70" y="481.40" width="1.4" height="3.6" fill="#fff" opacity="0.6"/>
<rect x="244.05" y="481.70" width="0.7" height="3.0" fill="#66665f" opacity="0.7"/>
<rect x="247.80" y="485.80" width="1.4" height="3.6" fill="#fff" opacity="0.6"/>
<rect x="248.15" y="486.10" width="0.7" height="3.0" fill="#66665f" opacity="0.7"/>
<rect x="240.10" y="491.30" width="1.4" height="3.6" fill="#fff" opacity="0.6"/>
<rect x="240.45" y="491.60" width="0.7" height="3.0" fill="#66665f" opacity="0.7"/>
<rect x="258.40" y="490.00" width="1.4" height="3.6" fill="#fff" opacity="0.6"/>
<rect x="258.75" y="490.30" width="0.7" height="3.0" fill="#66665f" opacity="0.7"/>
<rect x="227.30" y="493.30" width="1.4" height="3.6" fill="#fff" opacity="0.6"/>
<rect x="227.65" y="493.60" width="0.7" height="3.0" fill="#66665f" opacity="0.7"/>
<rect x="255.10" y="496.40" width="1.4" height="3.6" fill="#fff" opacity="0.6"/>
<rect x="255.45" y="496.70" width="0.7" height="3.0" fill="#66665f" opacity="0.7"/>
<rect x="260.60" y="497.30" width="1.4" height="3.6" fill="#fff" opacity="0.6"/>
<rect x="260.95" y="497.60" width="0.7" height="3.0" fill="#66665f" opacity="0.7"/>
<rect x="241.90" y="500.40" width="1.4" height="3.6" fill="#fff" opacity="0.6"/>
<rect x="242.25" y="500.70" width="0.7" height="3.0" fill="#66665f" opacity="0.7"/>
<rect x="236.80" y="503.20" width="1.4" height="3.6" fill="#fff" opacity="0.6"/>
<rect x="237.15" y="503.50" width="0.7" height="3.0" fill="#66665f" opacity="0.7"/>
<rect x="241.40" y="505.60" width="1.4" height="3.6" fill="#fff" opacity="0.6"/>
<rect x="241.75" y="505.90" width="0.7" height="3.0" fill="#66665f" opacity="0.7"/>
<rect x="218.00" y="512.00" width="1.4" height="3.6" fill="#fff" opacity="0.6"/>
<rect x="218.35" y="512.30" width="0.7" height="3.0" fill="#66665f" opacity="0.7"/>
<rect x="258.70" y="510.10" width="1.4" height="3.6" fill="#fff" opacity="0.6"/>
<rect x="259.05" y="510.40" width="0.7" height="3.0" fill="#66665f" opacity="0.7"/>
<rect x="237.20" y="511.90" width="1.4" height="6.3999999999999995" fill="#fff" opacity="0.6"/>
<rect x="237.55" y="512.20" width="0.7" height="5.8" fill="#66665f" opacity="0.7"/>
<rect x="252.30" y="517.40" width="1.4" height="3.6" fill="#fff" opacity="0.6"/>
<rect x="252.65" y="517.70" width="0.7" height="3.0" fill="#66665f" opacity="0.7"/>
<rect x="234.10" y="522.40" width="1.4" height="3.6" fill="#fff" opacity="0.6"/>
<rect x="234.45" y="522.70" width="0.7" height="3.0" fill="#66665f" opacity="0.7"/>
<rect x="244.10" y="522.00" width="1.4" height="3.6" fill="#fff" opacity="0.6"/>
<rect x="244.45" y="522.30" width="0.7" height="3.0" fill="#66665f" opacity="0.7"/>
<rect x="259.60" y="522.40" width="1.4" height="3.6" fill="#fff" opacity="0.6"/>
<rect x="259.95" y="522.70" width="0.7" height="3.0" fill="#66665f" opacity="0.7"/>
<rect x="221.80" y="522.00" width="1.4" height="6.3999999999999995" fill="#fff" opacity="0.6"/>
<rect x="222.15" y="522.30" width="0.7" height="5.8" fill="#66665f" opacity="0.7"/>
<rect x="213.00" y="525.60" width="1.4" height="6.3999999999999995" fill="#fff" opacity="0.6"/>
<rect x="213.35" y="525.90" width="0.7" height="5.8" fill="#66665f" opacity="0.7"/>
<rect x="230.00" y="526.50" width="1.4" height="6.3999999999999995" fill="#fff" opacity="0.6"/>
<rect x="230.35" y="526.80" width="0.7" height="5.8" fill="#66665f" opacity="0.7"/>
<rect x="243.70" y="532.40" width="1.4" height="3.6" fill="#fff" opacity="0.6"/>
<rect x="244.05" y="532.70" width="0.7" height="3.0" fill="#66665f" opacity="0.7"/>
<rect x="252.90" y="527.10" width="1.4" height="6.3999999999999995" fill="#fff" opacity="0.6"/>
<rect x="253.25" y="527.40" width="0.7" height="5.8" fill="#66665f" opacity="0.7"/>
<rect x="255.60" y="529.60" width="1.4" height="6.3999999999999995" fill="#fff" opacity="0.6"/>
<rect x="255.95" y="529.90" width="0.7" height="5.8" fill="#66665f" opacity="0.7"/>
<rect x="250.10" y="537.60" width="1.4" height="3.6" fill="#fff" opacity="0.6"/>
<rect x="250.45" y="537.90" width="0.7" height="3.0" fill="#66665f" opacity="0.7"/>
<rect x="215.20" y="538.10" width="1.4" height="3.6" fill="#fff" opacity="0.6"/>
<rect x="215.55" y="538.40" width="0.7" height="3.0" fill="#66665f" opacity="0.7"/>
<rect x="233.50" y="536.60" width="1.4" height="6.3999999999999995" fill="#fff" opacity="0.6"/>
<rect x="233.85" y="536.90" width="0.7" height="5.8" fill="#66665f" opacity="0.7"/>
<rect x="230.90" y="545.20" width="1.4" height="3.6" fill="#fff" opacity="0.6"/>
<rect x="231.25" y="545.50" width="0.7" height="3.0" fill="#66665f" opacity="0.7"/>
<rect x="266.60" y="547.20" width="1.4" height="3.6" fill="#fff" opacity="0.6"/>
<rect x="266.95" y="547.50" width="0.7" height="3.0" fill="#66665f" opacity="0.7"/>
<rect x="237.00" y="557.50" width="1.4" height="3.6" fill="#fff" opacity="0.6"/>
<rect x="237.35" y="557.80" width="0.7" height="3.0" fill="#66665f" opacity="0.7"/>
<rect x="227.00" y="490.80" width="1.4" height="6.3999999999999995" fill="#fff" opacity="0.6"/>
<rect x="227.35" y="491.10" width="0.7" height="5.8" fill="#66665f" opacity="0.7"/>
<rect x="267.90" y="492.80" width="1.4" height="3.6" fill="#fff" opacity="0.6"/>
<rect x="268.25" y="493.10" width="0.7" height="3.0" fill="#66665f" opacity="0.7"/>
<rect x="280.30" y="491.90" width="1.4" height="3.6" fill="#fff" opacity="0.6"/>
<rect x="280.65" y="492.20" width="0.7" height="3.0" fill="#66665f" opacity="0.7"/>
<rect x="293.50" y="489.10" width="1.4" height="3.6" fill="#fff" opacity="0.6"/>
<rect x="293.85" y="489.40" width="0.7" height="3.0" fill="#66665f" opacity="0.7"/>
<rect x="272.80" y="501.00" width="1.4" height="3.6" fill="#fff" opacity="0.6"/>
<rect x="273.15" y="501.30" width="0.7" height="3.0" fill="#66665f" opacity="0.7"/>
<rect x="279.20" y="501.50" width="1.4" height="3.6" fill="#fff" opacity="0.6"/>
<rect x="279.55" y="501.80" width="0.7" height="3.0" fill="#66665f" opacity="0.7"/>
<rect x="278.30" y="516.20" width="1.4" height="3.6" fill="#fff" opacity="0.6"/>
<rect x="278.65" y="516.50" width="0.7" height="3.0" fill="#66665f" opacity="0.7"/>
<rect x="279.80" y="520.50" width="1.4" height="6.3999999999999995" fill="#fff" opacity="0.6"/>
<rect x="280.15" y="520.80" width="0.7" height="5.8" fill="#66665f" opacity="0.7"/>
<rect x="277.40" y="528.40" width="1.4" height="3.6" fill="#fff" opacity="0.6"/>
<rect x="277.75" y="528.70" width="0.7" height="3.0" fill="#66665f" opacity="0.7"/>
<rect x="289.40" y="523.30" width="1.4" height="3.6" fill="#fff" opacity="0.6"/>
<rect x="289.75" y="523.60" width="0.7" height="3.0" fill="#66665f" opacity="0.7"/>
<rect x="300.80" y="524.70" width="1.4" height="6.3999999999999995" fill="#fff" opacity="0.6"/>
<rect x="301.15" y="525.00" width="0.7" height="5.8" fill="#66665f" opacity="0.7"/>
<ellipse cx="331.6" cy="481.4" rx="5.2" ry="5.0" fill="#000" opacity="0.10"/>
<circle cx="331.6" cy="480.5" r="4.9" fill="url(#lg)" stroke="url(#sg)" stroke-width="0.7"/>
<ellipse cx="331.6" cy="477.9" rx="3.0" ry="1.3" fill="#fff" opacity="0.3"/>
<text x="339.4" y="482.7" font-size="7" text-anchor="start" font-weight="normal" font-style="normal" fill="#111" stroke="#111" stroke-width="0.14" textLength="71.3" lengthAdjust="spacingAndGlyphs">Mitochondrial functions</text>
<ellipse cx="331.6" cy="500.0" rx="5.2" ry="5.0" fill="#000" opacity="0.10"/>
<circle cx="331.6" cy="499.1" r="4.9" fill="url(#lb)" stroke="url(#sb)" stroke-width="0.7"/>
<ellipse cx="331.6" cy="496.5" rx="3.0" ry="1.3" fill="#fff" opacity="0.3"/>
<text x="339.4" y="501.7" font-size="7" text-anchor="start" font-weight="normal" font-style="normal" fill="#111" stroke="#111" stroke-width="0.14" textLength="74.8" lengthAdjust="spacingAndGlyphs">Mitochondrial translation</text>
<ellipse cx="331.6" cy="517.5" rx="5.2" ry="5.0" fill="#000" opacity="0.10"/>
<circle cx="331.6" cy="516.6" r="4.9" fill="url(#lc)" stroke="url(#sc)" stroke-width="0.7"/>
<ellipse cx="331.6" cy="514.0" rx="3.0" ry="1.3" fill="#fff" opacity="0.3"/>
<text x="339.4" y="519.5" font-size="7" text-anchor="start" font-weight="normal" font-style="normal" fill="#111" stroke="#111" stroke-width="0.14" textLength="90.5" lengthAdjust="spacingAndGlyphs">Aminoacyl-tRNA biosynthesis</text>
<ellipse cx="332.0" cy="534.1999999999999" rx="5.2" ry="5.0" fill="#000" opacity="0.10"/>
<circle cx="332.0" cy="533.3" r="4.9" fill="url(#lr)" stroke="url(#sr)" stroke-width="0.7"/>
<ellipse cx="332.0" cy="530.6999999999999" rx="3.0" ry="1.3" fill="#fff" opacity="0.3"/>
<text x="339.4" y="536" font-size="7" text-anchor="start" font-weight="normal" font-style="normal" fill="#111" stroke="#111" stroke-width="0.14" textLength="68.3" lengthAdjust="spacingAndGlyphs">Epigenetic regulations</text>
<ellipse cx="332.0" cy="552.1" rx="5.2" ry="5.0" fill="#000" opacity="0.10"/>
<circle cx="332.0" cy="551.2" r="4.9" fill="url(#ly)" stroke="url(#sy)" stroke-width="0.7"/>
<ellipse cx="332.0" cy="548.6" rx="3.0" ry="1.3" fill="#fff" opacity="0.3"/>
<text x="339.4" y="553.8" font-size="7" text-anchor="start" font-weight="normal" font-style="normal" fill="#111" stroke="#111" stroke-width="0.14" textLength="21.2" lengthAdjust="spacingAndGlyphs">Others</text>
</g>
<path d="M0 0H520V580H0Z M1 1V578.85H518.9V1Z" fill="#000" fill-rule="evenodd"/>
</svg>
</body></html>
